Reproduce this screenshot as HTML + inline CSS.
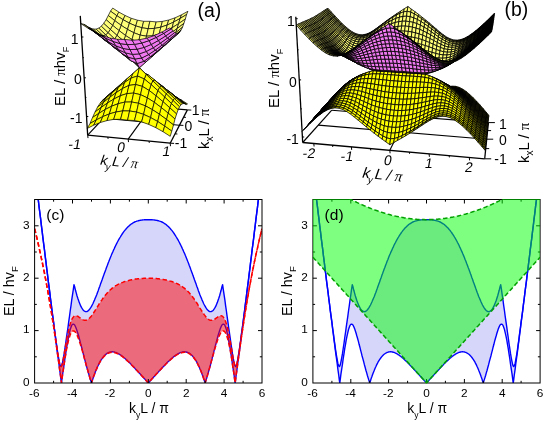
<!DOCTYPE html><html><head><meta charset="utf-8"><style>
html,body{margin:0;padding:0;background:#fff}
svg{display:block}
text{font-family:"Liberation Sans",sans-serif;fill:#000}
.tk{font-size:11.8px}.al{font-size:15px}.pl{font-size:15.5px}
.t3{font-size:14px}.a3{font-size:15px}.p3{font-size:19.4px}
.sy{font-family:"Liberation Serif",serif}
.y{fill:#ffff00}.p{fill:#ffff78}.m{fill:#f078f0}
</style></head><body><svg width="546" height="422" viewBox="0 0 546 422">
<rect width="546" height="422" fill="#fff"/>
<path d="M187.4 109.9 L116.7 104.0" stroke="#000" stroke-width="1.15" fill="none"/>
<path d="M116.7 104.0 L87.7 135.1" stroke="#000" stroke-width="1.15" fill="none"/>
<path d="M128.2 139.1 L151.5 106.9" stroke="#000" stroke-width="1.15" fill="none"/>
<path d="M103.4 118.3 L179.5 125.2" stroke="#000" stroke-width="1.15" fill="none"/>
<g transform="scale(.1)" stroke="#000" stroke-width="7" stroke-linejoin="round">
<path fill="#636" d="M1143 986l57-33 21 0 -57 28z"/>
<path fill="#b6b" d="M1200 953l57-30 21 6 -57 24z"/>
<path class="m" d="M1257 923l58-24 20 12 -57 18z"/>
<path class="m" d="M1315 899l59-18 20 19 -59 11z"/>
<path class="m" d="M1120 979l57-38 23 12 -57 33z"/>
<path class="m" d="M1374 881l60-10 19 27 -59 2z"/>
<path class="m" d="M1177 941l58-36 22 18 -57 30z"/>
<path class="m" d="M1434 871l60-1 18 35 -59-7z"/>
<path class="m" d="M1494 870l61 10 17 27 -60-2z"/>
<path class="m" d="M1235 905l59-30 21 24 -58 24z"/>
<path class="m" d="M1555 880l61 19 16 20 -60-12z"/>
<path fill="#747" d="M1616 899l61 27 15 13 -60-20z"/>
<path fill="#000" d="M1677 926l62 35 14 5 -61-27z"/>
<path fill="#000" d="M1739 961l62 39 13 0 -61-34z"/>
<path fill="#880" d="M1801 1000l61 44 13-5 -61-39z"/>
<path class="m" d="M1294 875l60-24 20 30 -59 18z"/>
<path class="m" d="M1097 975l57-44 23 10 -57 38z"/>
<path class="m" d="M1354 851l60-15 20 35 -60 10z"/>
<path class="m" d="M1154 931l59-41 22 15 -58 36z"/>
<path class="m" d="M1414 836l61-2 19 36 -60 1z"/>
<path class="m" d="M1475 834l62 11 18 35 -61-10z"/>
<path class="m" d="M1213 890l60-37 21 22 -59 30z"/>
<path class="m" d="M1537 845l62 24 17 30 -61-19z"/>
<path class="m" d="M1599 869l63 34 15 23 -61-27z"/>
<path fill="#949" d="M1662 903l63 40 14 18 -62-35z"/>
<path fill="#000" d="M1725 943l62 46 14 11 -62-39z"/>
<path fill="#000" d="M1787 989l63 49 12 6 -61-44z"/>
<path class="m" d="M1073 976l58-48 23 3 -57 44z"/>
<path class="m" d="M1273 853l60-31 21 29 -60 24z"/>
<path class="m" d="M1333 822l61-20 20 34 -60 15z"/>
<path class="m" d="M1131 928l59-46 23 8 -59 41z"/>
<path class="m" d="M1394 802l62-5 19 37 -61 2z"/>
<path class="m" d="M1456 797l63 14 18 34 -62-11z"/>
<path class="m" d="M1190 882l60-45 23 16 -60 37z"/>
<path class="m" d="M1519 811l63 29 17 29 -62-24z"/>
<path fill="#000" d="M1773 980l64 55 13 3 -63-49z"/>
<path fill="#e7e" d="M1582 840l64 41 16 22 -63-34z"/>
<path fill="#000" d="M1710 928l63 52 14 9 -62-46z"/>
<path fill="#848" d="M1049 985l59-51 23-6 -58 48z"/>
<path fill="#212" d="M1646 881l64 47 15 15 -63-40z"/>
<path class="m" d="M1250 837l61-40 22 25 -60 31z"/>
<path fill="#c6c" d="M1108 934l59-51 23-1 -59 46z"/>
<path class="m" d="M1311 797l62-29 21 34 -61 20z"/>
<path class="m" d="M1373 768l63-9 20 38 -62 5z"/>
<path class="m" d="M1167 883l61-51 22 5 -60 45z"/>
<path fill="#000" d="M1024 1004l60-53 24-17 -59 51z"/>
<path class="m" d="M1436 759l64 18 19 34 -63-14z"/>
<path fill="#880" d="M1759 978l64 59 14-2 -64-55z"/>
<path fill="#220" d="M1694 920l65 58 14 2 -63-52z"/>
<path class="m" d="M1500 777l65 39 17 24 -63-29z"/>
<path fill="#000" d="M1629 865l65 55 16 8 -64-47z"/>
<path fill="#323" d="M1565 816l64 49 17 16 -64-41z"/>
<path class="m" d="M1228 832l61-50 22 15 -61 40z"/>
<path fill="#000" d="M1084 951l60-53 23-15 -59 51z"/>
<path class="m" d="M1289 782l63-43 21 29 -62 29z"/>
<path fill="#000" d="M1144 898l62-54 22-12 -61 51z"/>
<path fill="#330" d="M1000 1033l60-52 24-30 -60 53z"/>
<path class="m" d="M1352 739l64-20 20 40 -63 9z"/>
<path class="y" d="M1744 985l66 63 13-11 -64-59z"/>
<path class="y" d="M1678 922l66 63 15-7 -65-58z"/>
<path fill="#990" d="M1613 861l65 61 16-2 -65-55z"/>
<path class="m" d="M1416 719l65 29 19 29 -64-18z"/>
<path fill="#000" d="M1547 801l66 60 16 4 -64-49z"/>
<path fill="#323" d="M1481 748l66 53 18 15 -65-39z"/>
<path fill="#424" d="M1206 844l62-55 21-7 -61 50z"/>
<path fill="#550" d="M1060 981l61-53 23-30 -60 53z"/>
<path fill="#d6d" d="M1268 789l62-55 22 5 -63 43z"/>
<path class="y" d="M975 1072l61-50 24-41 -60 52z"/>
<path fill="#880" d="M1121 928l62-52 23-32 -62 54z"/>
<path class="y" d="M1729 1003l66 65 15-20 -66-63z"/>
<path class="y" d="M1662 938l67 65 15-18 -66-63z"/>
<path class="m" d="M1330 734l64-57 22 42 -64 20z"/>
<path class="y" d="M1595 873l67 65 16-16 -65-61z"/>
<path class="y" d="M1036 1022l62-49 23-45 -61 53z"/>
<path class="y" d="M1528 808l67 65 18-12 -66-60z"/>
<path fill="#dd0" d="M1183 876l63-51 22-36 -62 55z"/>
<path fill="#ff0" d="M1461 743l67 65 19-7 -66-53z"/>
<path fill="#313" d="M1394 677l67 66 20 5 -65-29z"/>
<path class="y" d="M950 1120l62-46 24-52 -61 50z"/>
<path class="y" d="M1098 973l63-46 22-51 -62 52z"/>
<path class="y" d="M1246 825l64-44 20-47 -62 55z"/>
<path class="y" d="M1713 1034l68 64 14-30 -66-65z"/>
<path class="y" d="M1646 970l67 64 16-31 -67-65z"/>
<path class="y" d="M1012 1074l63-44 23-57 -62 49z"/>
<path class="y" d="M1310 781l65-21 19-83 -64 57z"/>
<path class="y" d="M1161 927l64-42 21-60 -63 51z"/>
<path class="y" d="M1578 906l68 64 16-32 -67-65z"/>
<path class="y" d="M1510 845l68 61 17-33 -67-65z"/>
<path class="y" d="M1443 790l67 55 18-37 -67-65z"/>
<path class="y" d="M1375 760l68 30 18-47 -67-66z"/>
<path class="y" d="M925 1175l63-41 24-60 -62 46z"/>
<path class="y" d="M1225 885l65-31 20-73 -64 44z"/>
<path class="y" d="M1075 1030l64-40 22-63 -63 46z"/>
<path class="y" d="M1290 854l66-9 19-85 -65 21z"/>
<path class="y" d="M1139 990l65-33 21-72 -64 42z"/>
<path class="y" d="M1697 1077l69 63 15-42 -68-64z"/>
<path class="y" d="M988 1134l64-39 23-65 -63 44z"/>
<path class="y" d="M1629 1016l68 61 16-43 -67-64z"/>
<path class="y" d="M1560 958l69 58 17-46 -68-64z"/>
<path class="y" d="M1356 845l68 19 19-74 -68-30z"/>
<path class="y" d="M1492 905l68 53 18-52 -68-61z"/>
<path class="y" d="M1424 864l68 41 18-60 -67-55z"/>
<path class="y" d="M1204 957l66-21 20-82 -65 31z"/>
<path class="y" d="M1052 1095l65-33 22-72 -64 40z"/>
<path class="y" d="M900 1235l63-36 25-65 -63 41z"/>
<path class="y" d="M1270 936l67-5 19-86 -66 9z"/>
<path class="y" d="M1117 1062l65-25 22-80 -65 33z"/>
<path class="y" d="M963 1199l65-33 24-71 -64 39z"/>
<path class="y" d="M1337 931l68 16 19-83 -68-19z"/>
<path class="y" d="M1681 1131l69 59 16-50 -69-63z"/>
<path class="y" d="M1612 1075l69 56 16-54 -68-61z"/>
<path class="y" d="M1405 947l69 32 18-74 -68-41z"/>
<path class="y" d="M1543 1023l69 52 17-59 -69-58z"/>
<path class="y" d="M1474 979l69 44 17-65 -68-53z"/>
<path class="y" d="M1182 1037l67-16 21-85 -66 21z"/>
<path class="y" d="M1028 1166l66-27 23-77 -65 33z"/>
<path class="y" d="M873 1284l64-32 26-53 -63 36z"/>
<path class="y" d="M1249 1021l68-1 20-89 -67 5z"/>
<path class="y" d="M1094 1139l66-19 22-83 -65 25z"/>
<path class="y" d="M1317 1020l68 13 20-86 -68-16z"/>
<path class="y" d="M937 1252l66-27 25-59 -65 33z"/>
<path class="y" d="M1385 1033l70 26 19-80 -69-32z"/>
<path class="y" d="M1664 1194l71 55 15-59 -69-59z"/>
<path class="y" d="M1455 1059l69 38 19-74 -69-44z"/>
<path class="y" d="M1594 1142l70 52 17-63 -69-56z"/>
<path class="y" d="M1524 1097l70 45 18-67 -69-52z"/>
<path class="y" d="M1160 1120l68-11 21-88 -67 16z"/>
<path class="y" d="M1003 1225l67-19 24-67 -66 27z"/>
<path class="y" d="M1228 1109l68 1 21-90 -68 1z"/>
<path class="y" d="M1296 1110l70 11 19-88 -68-13z"/>
<path class="y" d="M1070 1206l67-12 23-74 -66 19z"/>
<path class="y" d="M1366 1121l70 23 19-85 -70-26z"/>
<path class="y" d="M1436 1144l70 32 18-79 -69-38z"/>
<path class="y" d="M1506 1176l71 39 17-73 -70-45z"/>
<path class="y" d="M1137 1194l69-1 22-84 -68 11z"/>
<path class="y" d="M1577 1215l70 46 17-67 -70-52z"/>
<path class="y" d="M1647 1261l71 50 17-62 -71-55z"/>
<path class="y" d="M1206 1193l70 9 20-92 -68-1z"/>
<path class="y" d="M1276 1202l69 3 21-84 -70-11z"/>
<path class="y" d="M1345 1205l71 14 20-75 -70-23z"/>
<path class="y" d="M1416 1219l71 25 19-68 -70-32z"/>
<path class="y" d="M1487 1244l71 33 19-62 -71-39z"/>
<path class="y" d="M1558 1277l72 40 17-56 -70-46z"/>
<path class="y" d="M1630 1317l72 46 16-52 -71-50z"/>
</g>
<g transform="scale(.1)" stroke="#000" stroke-width="7" stroke-linejoin="round">
<path class="p" d="M1105 112l63 45 21-36 -62-40z"/>
<path class="p" d="M1168 157l63 40 20-42 -62-34z"/>
<path class="p" d="M1231 197l63 35 19-49 -62-28z"/>
<path class="p" d="M1294 232l63 27 18-57 -62-19z"/>
<path class="p" d="M1357 259l63 19 17-65 -62-11z"/>
<path class="p" d="M1420 278l62 9 17-74 -62 0z"/>
<path class="p" d="M1482 287l63-3 17-65 -63-6z"/>
<path class="p" d="M1083 155l64 51 21-49 -63-45z"/>
<path class="p" d="M1147 206l64 47 20-56 -63-40z"/>
<path class="p" d="M1545 284l63-12 16-58 -62 5z"/>
<path class="p" d="M1211 253l64 41 19-62 -63-35z"/>
<path class="p" d="M1275 294l64 34 18-69 -63-27z"/>
<path class="p" d="M1339 328l63 23 18-73 -63-19z"/>
<path class="p" d="M1608 272l64-22 15-50 -63 14z"/>
<path class="p" d="M1402 351l63 11 17-75 -62-9z"/>
<path class="p" d="M1465 362l64-4 16-74 -63 3z"/>
<path class="p" d="M1672 250l64-29 15-43 -64 22z"/>
<path class="p" d="M1529 358l64-17 15-69 -63 12z"/>
<path class="p" d="M1191 306l64 49 20-61 -64-41z"/>
<path class="p" d="M1126 253l65 53 20-53 -64-47z"/>
<path class="p" d="M1255 355l65 41 19-68 -64-34z"/>
<path class="p" d="M1061 197l65 56 21-47 -64-51z"/>
<path class="p" d="M1320 396l64 29 18-74 -63-23z"/>
<path class="p" d="M1736 221l65-36 14-37 -64 30z"/>
<path class="p" d="M1384 425l64 13 17-76 -63-11z"/>
<path class="p" d="M1593 341l64-27 15-64 -64 22z"/>
<path class="p" d="M1448 438l64-6 17-74 -64 4z"/>
<path class="p" d="M1801 185l65-40 13-32 -64 35z"/>
<path class="p" d="M1657 314l64-36 15-57 -64 29z"/>
<path class="p" d="M1512 432l64-22 17-69 -64 17z"/>
<path class="p" d="M1235 409l66 50 19-63 -65-41z"/>
<path class="p" d="M1169 353l66 56 20-54 -64-49z"/>
<path class="p" d="M1301 459l65 40 18-74 -64-29z"/>
<path class="p" d="M1103 294l66 59 22-47 -65-53z"/>
<path class="p" d="M1037 234l66 60 23-41 -65-56z"/>
<path class="p" d="M1366 499l65 17 17-78 -64-13z"/>
<path class="p" d="M1721 278l65-42 15-51 -65 36z"/>
<path class="p" d="M1576 410l65-35 16-61 -64 27z"/>
<path class="p" d="M1431 516l64-10 17-74 -64 6z"/>
<path class="p" d="M1786 236l67-45 13-46 -65 40z"/>
<path class="p" d="M1641 375l65-42 15-55 -64 36z"/>
<path class="p" d="M1495 506l65-31 16-65 -64 22z"/>
<path class="p" d="M1281 513l66 54 19-68 -65-40z"/>
<path class="p" d="M1214 453l67 60 20-54 -66-50z"/>
<path class="p" d="M1347 567l66 29 18-80 -65-17z"/>
<path class="p" d="M1147 390l67 63 21-44 -66-56z"/>
<path class="p" d="M1080 327l67 63 22-37 -66-59z"/>
<path class="p" d="M1706 333l66-48 14-49 -65 42z"/>
<path class="p" d="M1013 262l67 65 23-33 -66-60z"/>
<path class="p" d="M1560 475l65-44 16-56 -65 35z"/>
<path class="p" d="M1413 596l64-21 18-69 -64 10z"/>
<path class="p" d="M1625 431l65-50 16-48 -65 42z"/>
<path class="p" d="M1477 575l65-46 18-54 -65 31z"/>
<path class="p" d="M1772 285l67-51 14-43 -67 45z"/>
<path class="p" d="M1327 612l67 65 19-81 -66-29z"/>
<path class="p" d="M1259 546l68 66 20-45 -66-54z"/>
<path class="p" d="M1192 480l67 66 22-33 -67-60z"/>
<path class="p" d="M1124 414l68 66 22-27 -67-63z"/>
<path class="p" d="M1542 529l66-53 17-45 -65 44z"/>
<path class="p" d="M1394 677l65-57 18-45 -64 21z"/>
<path class="p" d="M1690 381l67-53 15-43 -66 48z"/>
<path class="p" d="M1056 348l68 66 23-24 -67-63z"/>
<path class="p" d="M988 282l68 66 24-21 -67-65z"/>
<path class="p" d="M1459 620l65-57 18-34 -65 46z"/>
<path class="p" d="M1608 476l66-56 16-39 -65 50z"/>
<path class="p" d="M1757 328l68-56 14-38 -67 51z"/>
<path fill="#424" d="M1304 605l68 30 22 42 -67-65z"/>
<path class="p" d="M1236 549l68 56 23 7 -68-66z"/>
<path fill="#dd6" d="M1524 563l66-59 18-28 -66 53z"/>
<path class="p" d="M1168 487l68 62 23-3 -67-66z"/>
<path class="p" d="M1674 420l68-58 15-34 -67 53z"/>
<path class="p" d="M1099 423l69 64 24-7 -68-66z"/>
<path class="m" d="M1372 635l66-22 21 7 -65 57z"/>
<path class="p" d="M1030 357l69 66 25-9 -68-66z"/>
<path class="p" d="M961 291l69 66 26-9 -68-66z"/>
<path fill="#774" d="M1590 504l68-59 16-25 -66 56z"/>
<path class="p" d="M1742 362l68-60 15-30 -68 56z"/>
<path class="m" d="M1438 613l67-47 19-3 -65 57z"/>
<path fill="#552" d="M1658 445l68-61 16-22 -68 58z"/>
<path fill="#535" d="M1505 566l67-54 18-8 -66 59z"/>
<path fill="#525" d="M1212 530l69 41 23 34 -68-56z"/>
<path fill="#000" d="M1142 476l70 54 24 19 -68-62z"/>
<path class="m" d="M1281 571l68 19 23 45 -68-30z"/>
<path fill="#bb5" d="M1073 417l69 59 26 11 -69-64z"/>
<path class="p" d="M1003 355l70 62 26 6 -69-66z"/>
<path class="p" d="M933 291l70 64 27 2 -69-66z"/>
<path class="m" d="M1349 590l68-10 21 33 -66 22z"/>
<path fill="#331" d="M1726 384l69-61 15-21 -68 60z"/>
<path fill="#111" d="M1572 512l68-58 18-9 -68 59z"/>
<path class="m" d="M1417 580l68-34 20 20 -67 47z"/>
<path fill="#000" d="M1640 454l70-60 16-10 -68 61z"/>
<path class="m" d="M1485 546l68-45 19 11 -67 54z"/>
<path fill="#636" d="M1116 452l70 45 26 33 -70-54z"/>
<path fill="#000" d="M1045 400l71 52 26 24 -69-59z"/>
<path class="m" d="M1186 497l70 32 25 42 -69-41z"/>
<path fill="#442" d="M974 342l71 58 28 17 -70-62z"/>
<path fill="#bb5" d="M903 281l71 61 29 13 -70-64z"/>
<path class="m" d="M1256 529l69 15 24 46 -68-19z"/>
<path fill="#000" d="M1710 394l70-60 15-11 -69 61z"/>
<path class="m" d="M1553 501l70-52 17 5 -68 58z"/>
<path class="m" d="M1325 544l69-6 23 42 -68 10z"/>
<path class="m" d="M1394 538l70-24 21 32 -68 34z"/>
<path class="m" d="M1623 449l70-57 17 2 -70 60z"/>
<path class="m" d="M1464 514l69-37 20 24 -68 45z"/>
<path fill="#535" d="M1016 373l71 47 29 32 -71-52z"/>
<path fill="#b6b" d="M1693 392l71-58 16 0 -70 60z"/>
<path fill="#000" d="M944 321l72 52 29 27 -71-58z"/>
<path class="m" d="M1087 420l72 38 27 39 -70-45z"/>
<path fill="#000" d="M872 264l72 57 30 21 -71-61z"/>
<path class="m" d="M1159 458l70 26 27 45 -70-32z"/>
<path class="m" d="M1533 477l71-46 19 18 -70 52z"/>
<path class="m" d="M1229 484l71 12 25 48 -69-15z"/>
<path class="m" d="M1300 496l71-4 23 46 -69 6z"/>
<path class="m" d="M1604 431l71-51 18 12 -70 57z"/>
<path class="m" d="M1371 492l70-18 23 40 -70 24z"/>
<path class="m" d="M1441 474l72-30 20 33 -69 37z"/>
<path class="m" d="M1675 380l72-55 17 9 -71 58z"/>
<path fill="#000" d="M840 243l73 52 31 26 -72-57z"/>
<path fill="#313" d="M913 295l73 47 30 31 -72-52z"/>
<path class="m" d="M986 342l72 40 29 38 -71-47z"/>
<path class="m" d="M1058 382l72 32 29 44 -72-38z"/>
<path class="m" d="M1130 414l72 22 27 48 -70-26z"/>
<path class="m" d="M1513 444l71-39 20 26 -71 46z"/>
<path class="m" d="M1202 436l72 10 26 50 -71-12z"/>
<path class="m" d="M1274 446l72-2 25 48 -71 4z"/>
<path class="m" d="M1584 405l73-46 18 21 -71 51z"/>
<path class="m" d="M1346 444l72-14 23 44 -70 18z"/>
<path class="m" d="M1657 359l73-51 17 17 -72 55z"/>
<path class="m" d="M1418 430l73-24 22 38 -72 30z"/>
<path fill="#994" d="M808 236l73 47 32 12 -73-52z"/>
<path fill="#000" d="M881 283l74 41 31 18 -73-47z"/>
<path fill="#111" d="M955 324l73 33 30 25 -72-40z"/>
<path class="m" d="M1028 357l74 24 28 33 -72-32z"/>
<path class="m" d="M1102 381l72 12 28 43 -72-22z"/>
<path class="m" d="M1491 406l73-33 20 32 -71 39z"/>
<path class="m" d="M1174 393l73 1 27 52 -72-10z"/>
<path class="m" d="M1247 394l74 8 25 42 -72 2z"/>
<path class="m" d="M1564 373l74-40 19 26 -73 46z"/>
<path class="m" d="M1321 402l74-5 23 33 -72 14z"/>
<path class="m" d="M1638 333l75-46 17 21 -73 51z"/>
<path class="m" d="M1395 397l74-16 22 25 -73 24z"/>
<path class="m" d="M1469 381l74-25 21 17 -73 33z"/>
<path class="m" d="M1543 356l75-35 20 12 -74 40z"/>
<path class="m" d="M1618 321l76-41 19 7 -75 46z"/>
</g>
<path d="M87.7 135.1 L80.3 15.9" stroke="#000" stroke-width="1.3" fill="none"/>
<path d="M87.7 135.1 L170.2 143.2" stroke="#000" stroke-width="1.3" fill="none"/>
<path d="M170.2 143.2 L187.4 109.9" stroke="#000" stroke-width="1.3" fill="none"/>
<path d="M87.7 135.1 l0.3 3.0" stroke="#000" stroke-width="1" fill="none"/>
<path d="M170.2 143.2 l3.9 0.2" stroke="#000" stroke-width="1" fill="none"/>
<path d="M107.8 137.1 l0.3 1.8" stroke="#000" stroke-width="1" fill="none"/>
<path d="M175.1 133.8 l2.3 0.2" stroke="#000" stroke-width="1" fill="none"/>
<path d="M128.2 139.1 l0.3 3.0" stroke="#000" stroke-width="1" fill="none"/>
<path d="M179.5 125.2 l3.9 0.2" stroke="#000" stroke-width="1" fill="none"/>
<path d="M149.0 141.1 l0.3 1.8" stroke="#000" stroke-width="1" fill="none"/>
<path d="M183.6 117.2 l2.3 0.2" stroke="#000" stroke-width="1" fill="none"/>
<path d="M170.2 143.2 l0.3 3.0" stroke="#000" stroke-width="1" fill="none"/>
<path d="M187.4 109.9 l3.9 0.2" stroke="#000" stroke-width="1" fill="none"/>
<path d="M86.5 116.5 l1.8 0.0" stroke="#000" stroke-width="1" fill="none"/>
<path d="M85.4 97.4 l1.0 0.0" stroke="#000" stroke-width="1" fill="none"/>
<path d="M84.1 77.8 l1.8 0.0" stroke="#000" stroke-width="1" fill="none"/>
<path d="M82.9 57.7 l1.0 0.0" stroke="#000" stroke-width="1" fill="none"/>
<path d="M81.6 37.0 l1.8 0.0" stroke="#000" stroke-width="1" fill="none"/>
<path d="M488.4 122.6 L331.8 110.2" stroke="#000" stroke-width="1.15" fill="none"/>
<path d="M331.8 110.2 L302.7 142.5" stroke="#000" stroke-width="1.15" fill="none"/>
<path d="M389.8 150.3 L407.0 116.1" stroke="#000" stroke-width="1.15" fill="none"/>
<path d="M318.3 125.1 L486.7 139.2" stroke="#000" stroke-width="1.15" fill="none"/>
<g transform="scale(.1)" stroke="#000" stroke-width="8" stroke-linejoin="round">
<path fill="#000" d="M3304 1015l31-33 10-10 -31 33z"/>
<path fill="#000" d="M3335 982l32-32 9-9 -31 31z"/>
<path fill="#000" d="M3294 1025l32-33 9-10 -31 33z"/>
<path fill="#000" d="M3367 950l31-30 10-10 -32 31z"/>
<path fill="#000" d="M3326 992l31-32 10-10 -32 32z"/>
<path fill="#000" d="M3398 920l32-29 9-9 -31 28z"/>
<path fill="#000" d="M3284 1035l32-34 10-9 -32 33z"/>
<path fill="#000" d="M3357 960l32-31 9-9 -31 30z"/>
<path fill="#000" d="M3430 891l32-26 9-9 -32 26z"/>
<path fill="#000" d="M3462 865l33-23 9-9 -33 23z"/>
<path fill="#000" d="M3316 1001l32-32 9-9 -31 32z"/>
<path fill="#000" d="M3389 929l32-29 9-9 -32 29z"/>
<path fill="#000" d="M3495 842l32-19 9-9 -32 19z"/>
<path fill="#000" d="M3274 1044l32-34 10-9 -32 34z"/>
<path fill="#000" d="M3421 900l32-27 9-8 -32 26z"/>
<path fill="#000" d="M3348 969l31-32 10-8 -32 31z"/>
<path fill="#000" d="M3527 823l33-13 9-8 -33 12z"/>
<path fill="#000" d="M3998 1060l34 17 5 11 -33-24z"/>
<path fill="#959" d="M4032 1077l33 8 6 27 -34-24z"/>
<path fill="#000" d="M3964 1039l34 21 6 4 -33-25z"/>
<path fill="#000" d="M3931 1016l33 23 7 0 -34-25z"/>
<path fill="#000" d="M3453 873l33-24 9-7 -33 23z"/>
<path fill="#220" d="M3897 991l34 25 6-2 -33-27z"/>
<path fill="#000" d="M3306 1010l32-33 10-8 -32 32z"/>
<path fill="#000" d="M3379 937l33-29 9-8 -32 29z"/>
<path class="m" d="M4065 1085l34-3 6 12 -34 18z"/>
<path fill="#220" d="M3560 810l33-5 9-9 -33 6z"/>
<path fill="#330" d="M3863 965l34 26 7-4 -34-27z"/>
<path fill="#440" d="M3829 938l34 27 7-5 -34-28z"/>
<path fill="#550" d="M3796 910l33 28 7-6 -33-28z"/>
<path fill="#440" d="M3593 805l34 2 8-8 -33-3z"/>
<path fill="#660" d="M3762 882l34 28 7-6 -34-28z"/>
<path fill="#424" d="M4099 1082l34-11 6 3 -34 20z"/>
<path fill="#660" d="M3627 807l33 10 8-8 -33-10z"/>
<path fill="#660" d="M3728 856l34 26 7-6 -33-27z"/>
<path fill="#000" d="M3486 849l32-19 9-7 -32 19z"/>
<path fill="#000" d="M3264 1054l32-35 10-9 -32 34z"/>
<path fill="#660" d="M3694 834l34 22 8-7 -34-22z"/>
<path fill="#660" d="M3660 817l34 17 8-7 -34-18z"/>
<path fill="#000" d="M3338 977l32-31 9-9 -31 32z"/>
<path fill="#000" d="M3412 908l32-28 9-7 -32 27z"/>
<path fill="#000" d="M4133 1071l35-16 5-1 -34 20z"/>
<path fill="#000" d="M3518 830l34-13 8-7 -33 13z"/>
<path fill="#000" d="M3444 880l33-24 9-7 -33 24z"/>
<path fill="#000" d="M3296 1019l32-33 10-9 -32 33z"/>
<path fill="#000" d="M3370 946l32-31 10-7 -33 29z"/>
<path fill="#000" d="M3552 817l33-7 8-5 -33 5z"/>
<path fill="#747" d="M3958 1025l34 16 6 19 -34-21z"/>
<path fill="#212" d="M3924 1006l34 19 6 14 -33-23z"/>
<path fill="#000" d="M3890 985l34 21 7 10 -34-25z"/>
<path fill="#e7e" d="M3992 1041l34 11 6 25 -34-17z"/>
<path fill="#000" d="M4168 1055l34-18 5-3 -34 20z"/>
<path fill="#000" d="M3856 961l34 24 7 6 -34-26z"/>
<path class="m" d="M4026 1052l34 5 5 28 -33-8z"/>
<path fill="#000" d="M3822 936l34 25 7 4 -34-27z"/>
<path fill="#110" d="M3585 810l33 2 9-5 -34-2z"/>
<path fill="#000" d="M3788 910l34 26 7 2 -33-28z"/>
<path fill="#000" d="M3754 884l34 26 8 0 -34-28z"/>
<path class="m" d="M4060 1057l34 0 5 25 -34 3z"/>
<path fill="#220" d="M3618 812l34 9 8-4 -33-10z"/>
<path fill="#000" d="M3477 856l32-20 9-6 -32 19z"/>
<path fill="#110" d="M3720 859l34 25 8-2 -34-26z"/>
<path fill="#000" d="M3254 1063l32-34 10-10 -32 35z"/>
<path fill="#220" d="M3652 821l34 16 8-3 -34-17z"/>
<path fill="#220" d="M3686 837l34 22 8-3 -34-22z"/>
<path fill="#000" d="M3328 986l32-32 10-8 -32 31z"/>
<path fill="#000" d="M3402 915l32-28 10-7 -32 28z"/>
<path fill="#000" d="M4202 1037l35-20 4-5 -34 22z"/>
<path class="m" d="M4094 1057l34-6 5 20 -34 11z"/>
<path fill="#000" d="M3509 836l34-15 9-4 -34 13z"/>
<path fill="#d7d" d="M4128 1051l35-10 5 14 -35 16z"/>
<path fill="#000" d="M4237 1017l35-22 4-5 -35 22z"/>
<path fill="#000" d="M3286 1029l32-34 10-9 -32 33z"/>
<path fill="#000" d="M3434 887l33-26 10-5 -33 24z"/>
<path fill="#000" d="M3360 954l32-32 10-7 -32 31z"/>
<path fill="#000" d="M3543 821l33-7 9-4 -33 7z"/>
<path fill="#848" d="M4163 1041l34-14 5 10 -34 18z"/>
<path fill="#000" d="M3576 814l34 0 8-2 -33-2z"/>
<path fill="#535" d="M3883 971l34 18 7 17 -34-21z"/>
<path fill="#a5a" d="M3917 989l34 15 7 21 -34-19z"/>
<path fill="#212" d="M3849 950l34 21 7 14 -34-24z"/>
<path fill="#000" d="M3815 928l34 22 7 11 -34-25z"/>
<path class="m" d="M3951 1004l35 12 6 25 -34-16z"/>
<path fill="#000" d="M4272 995l35-22 4-6 -35 23z"/>
<path fill="#000" d="M3781 904l34 24 7 8 -34-26z"/>
<path fill="#000" d="M3467 861l33-21 9-4 -32 20z"/>
<path fill="#000" d="M3243 1073l32-35 11-9 -32 34z"/>
<path class="m" d="M3986 1016l34 9 6 27 -34-11z"/>
<path fill="#000" d="M3610 814l34 8 8-1 -34-9z"/>
<path fill="#000" d="M3746 880l35 24 7 6 -34-26z"/>
<path fill="#000" d="M3712 857l34 23 8 4 -34-25z"/>
<path fill="#000" d="M3644 822l34 15 8 0 -34-16z"/>
<path fill="#000" d="M3318 995l32-34 10-7 -32 32z"/>
<path fill="#000" d="M3678 837l34 20 8 2 -34-22z"/>
<path fill="#000" d="M3392 922l33-29 9-6 -32 28z"/>
<path class="m" d="M4020 1025l34 4 6 28 -34-5z"/>
<path fill="#525" d="M4197 1027l35-17 5 7 -35 20z"/>
<path class="m" d="M4054 1029l35 1 5 27 -34 0z"/>
<path fill="#000" d="M3500 840l34-16 9-3 -34 15z"/>
<path fill="#000" d="M4307 973l35-23 4-7 -35 24z"/>
<path class="m" d="M4089 1030l34-3 5 24 -34 6z"/>
<path fill="#000" d="M3275 1038l32-35 11-8 -32 34z"/>
<path fill="#000" d="M3425 893l33-27 9-5 -33 26z"/>
<path fill="#000" d="M3350 961l32-32 10-7 -32 32z"/>
<path fill="#212" d="M4232 1010l35-18 5 3 -35 22z"/>
<path fill="#000" d="M3534 824l33-8 9-2 -33 7z"/>
<path class="m" d="M4123 1027l35-7 5 21 -35 10z"/>
<path fill="#000" d="M4342 950l35-24 4-7 -35 24z"/>
<path fill="#000" d="M3567 816l34-1 9-1 -34 0z"/>
<path fill="#000" d="M3233 1083l32-36 10-9 -32 35z"/>
<path fill="#000" d="M3458 866l33-23 9-3 -33 21z"/>
<path fill="#000" d="M4267 992l35-21 5 2 -35 22z"/>
<path fill="#000" d="M3601 815l34 6 9 1 -34-8z"/>
<path fill="#000" d="M3307 1003l33-34 10-8 -32 34z"/>
<path class="m" d="M4158 1020l35-11 4 18 -34 14z"/>
<path fill="#747" d="M3842 934l34 18 7 19 -34-21z"/>
<path fill="#000" d="M3382 929l33-30 10-6 -33 29z"/>
<path fill="#424" d="M3807 915l35 19 7 16 -34-22z"/>
<path fill="#b5b" d="M3876 952l35 15 6 22 -34-18z"/>
<path fill="#101" d="M3773 894l34 21 8 13 -34-24z"/>
<path fill="#000" d="M3635 821l35 13 8 3 -34-15z"/>
<path fill="#000" d="M3738 872l35 22 8 10 -35-24z"/>
<path class="m" d="M3911 967l34 13 6 24 -34-15z"/>
<path fill="#000" d="M3704 851l34 21 8 8 -34-23z"/>
<path fill="#000" d="M3670 834l34 17 8 6 -34-20z"/>
<path fill="#000" d="M4377 926l36-21 3-8 -35 22z"/>
<path class="m" d="M3945 980l34 10 7 26 -35-12z"/>
<path class="m" d="M3979 990l35 7 6 28 -34-9z"/>
<path fill="#000" d="M3491 843l34-17 9-2 -34 16z"/>
<path fill="#c6c" d="M4193 1009l35-13 4 14 -35 17z"/>
<path fill="#000" d="M4302 971l36-21 4 0 -35 23z"/>
<path class="m" d="M4014 997l34 4 6 28 -34-4z"/>
<path fill="#000" d="M3265 1047l32-35 10-9 -32 35z"/>
<path fill="#000" d="M3415 899l33-29 10-4 -33 27z"/>
<path fill="#000" d="M3340 969l33-33 9-7 -32 32z"/>
<path fill="#000" d="M4413 905l35-18 4-8 -36 18z"/>
<path class="m" d="M4048 1001l35 1 6 28 -35-1z"/>
<path fill="#440" d="M4862 1134l25 31 1-12 -25-30z"/>
<path fill="#000" d="M3525 826l33-10 9 0 -33 8z"/>
<path fill="#949" d="M4228 996l35-15 4 11 -35 18z"/>
<path fill="#440" d="M4828 1095l34 39 1-11 -33-39z"/>
<path fill="#000" d="M4338 950l35-22 4-2 -35 24z"/>
<path class="m" d="M4083 1002l35-2 5 27 -34 3z"/>
<path fill="#000" d="M3222 1093l32-36 11-10 -32 36z"/>
<path fill="#000" d="M3558 816l34-3 9 2 -34 1z"/>
<path fill="#220" d="M4448 887l36-13 3-8 -35 13z"/>
<path fill="#440" d="M4795 1056l33 39 2-11 -33-38z"/>
<path fill="#000" d="M3448 870l34-24 9-3 -33 23z"/>
<path fill="#000" d="M3297 1012l33-35 10-8 -33 34z"/>
<path class="m" d="M4118 1000l35-5 5 25 -35 7z"/>
<path fill="#000" d="M3373 936l32-32 10-5 -33 30z"/>
<path fill="#636" d="M4263 981l35-18 4 8 -35 21z"/>
<path fill="#000" d="M3592 813l35 4 8 4 -34-6z"/>
<path fill="#440" d="M4761 1020l34 36 2-10 -34-37z"/>
<path fill="#000" d="M4373 928l36-20 4-3 -36 21z"/>
<path fill="#330" d="M4484 874l35-5 3-8 -35 5z"/>
<path fill="#000" d="M3627 817l34 10 9 7 -35-13z"/>
<path fill="#000" d="M3661 827l35 15 8 9 -34-17z"/>
<path fill="#525" d="M3765 879l35 19 7 17 -34-21z"/>
<path fill="#212" d="M3730 860l35 19 8 15 -35-22z"/>
<path fill="#000" d="M3696 842l34 18 8 12 -34-21z"/>
<path fill="#848" d="M3800 898l34 17 8 19 -35-19z"/>
<path fill="#440" d="M4727 985l34 35 2-11 -34-34z"/>
<path fill="#b6b" d="M3834 915l35 15 7 22 -34-18z"/>
<path class="m" d="M4153 995l35-7 5 21 -35 11z"/>
<path class="m" d="M3869 930l35 13 7 24 -35-15z"/>
<path fill="#000" d="M3482 846l33-19 10-1 -34 17z"/>
<path fill="#440" d="M4519 869l35 2 3-8 -35-2z"/>
<path class="m" d="M3904 943l34 11 7 26 -34-13z"/>
<path fill="#440" d="M4693 953l34 32 2-10 -34-32z"/>
<path fill="#000" d="M3254 1057l33-36 10-9 -32 35z"/>
<path fill="#323" d="M4298 963l36-19 4 6 -36 21z"/>
<path class="m" d="M3938 954l35 8 6 28 -34-10z"/>
<path fill="#550" d="M4659 924l34 29 2-10 -34-29z"/>
<path fill="#000" d="M3330 977l33-34 10-7 -33 33z"/>
<path fill="#550" d="M4554 871l35 11 3-9 -35-10z"/>
<path fill="#000" d="M3405 904l34-29 9-5 -33 29z"/>
<path fill="#440" d="M4861 1145l25 31 1-11 -25-31z"/>
<path fill="#000" d="M4409 908l36-17 3-4 -35 18z"/>
<path fill="#550" d="M4624 900l35 24 2-10 -34-23z"/>
<path fill="#550" d="M4589 882l35 18 3-9 -35-18z"/>
<path class="m" d="M4188 988l35-11 5 19 -35 13z"/>
<path class="m" d="M3973 962l35 6 6 29 -35-7z"/>
<path fill="#000" d="M3515 827l34-12 9 1 -33 10z"/>
<path fill="#440" d="M4827 1105l34 40 1-11 -34-39z"/>
<path class="m" d="M4008 968l35 4 5 29 -34-4z"/>
<path fill="#101" d="M4334 944l35-20 4 4 -35 22z"/>
<path fill="#000" d="M3211 1103l33-36 10-10 -32 36z"/>
<path fill="#000" d="M4445 891l35-12 4-5 -36 13z"/>
<path fill="#e7e" d="M4223 977l35-12 5 16 -35 15z"/>
<path fill="#440" d="M4793 1067l34 38 1-10 -33-39z"/>
<path class="m" d="M4043 972l35 1 5 29 -35-1z"/>
<path fill="#000" d="M3549 815l35-6 8 4 -34 3z"/>
<path fill="#000" d="M3287 1021l32-36 11-8 -33 35z"/>
<path fill="#000" d="M3439 875l33-26 10-3 -34 24z"/>
<path fill="#000" d="M3363 943l33-33 9-6 -32 32z"/>
<path fill="#440" d="M4759 1030l34 37 2-11 -34-36z"/>
<path class="m" d="M4078 973l35-1 5 28 -35 2z"/>
<path fill="#000" d="M3584 809l34 2 9 6 -35-4z"/>
<path fill="#000" d="M4480 879l36-4 3-6 -35 5z"/>
<path fill="#440" d="M4725 995l34 35 2-10 -34-35z"/>
<path fill="#000" d="M4369 924l36-18 4 2 -36 20z"/>
<path fill="#b5b" d="M4258 965l36-15 4 13 -35 18z"/>
<path fill="#000" d="M3618 811l35 8 8 8 -34-10z"/>
<path class="m" d="M4113 972l35-3 5 26 -35 5z"/>
<path fill="#440" d="M4691 962l34 33 2-10 -34-32z"/>
<path fill="#110" d="M4516 875l35 3 3-7 -35-2z"/>
<path fill="#111" d="M3653 819l34 12 9 11 -35-15z"/>
<path fill="#000" d="M3472 849l34-21 9-1 -33 19z"/>
<path fill="#000" d="M3244 1067l32-37 11-9 -33 36z"/>
<path fill="#323" d="M3687 831l35 15 8 14 -34-18z"/>
<path fill="#636" d="M3722 846l35 16 8 17 -35-19z"/>
<path fill="#440" d="M4656 932l35 30 2-9 -34-29z"/>
<path fill="#848" d="M3757 862l35 16 8 20 -35-19z"/>
<path fill="#330" d="M4551 878l35 11 3-7 -35-11z"/>
<path fill="#000" d="M3319 985l33-35 11-7 -33 34z"/>
<path fill="#330" d="M4859 1156l26 31 1-11 -25-31z"/>
<path fill="#c6c" d="M3792 878l35 15 7 22 -34-17z"/>
<path fill="#000" d="M3396 910l33-31 10-4 -34 29z"/>
<path fill="#330" d="M4621 908l35 24 3-8 -35-24z"/>
<path fill="#330" d="M4586 889l35 19 3-8 -35-18z"/>
<path class="m" d="M3827 893l35 13 7 24 -35-15z"/>
<path class="m" d="M4148 969l35-6 5 25 -35 7z"/>
<path fill="#000" d="M4405 906l36-15 4 0 -36 17z"/>
<path fill="#848" d="M4294 950l36-16 4 10 -36 19z"/>
<path class="m" d="M3862 906l35 11 7 26 -35-13z"/>
<path fill="#330" d="M4825 1116l34 40 2-11 -34-40z"/>
<path class="m" d="M3897 917l35 9 6 28 -34-11z"/>
<path fill="#000" d="M3506 828l34-15 9 2 -34 12z"/>
<path fill="#000" d="M3200 1114l33-37 11-10 -33 36z"/>
<path class="m" d="M3932 926l35 7 6 29 -35-8z"/>
<path class="m" d="M4183 963l35-8 5 22 -35 11z"/>
<path fill="#330" d="M4791 1077l34 39 2-11 -34-38z"/>
<path fill="#000" d="M4441 891l36-10 3-2 -35 12z"/>
<path fill="#000" d="M3276 1030l33-36 10-9 -32 36z"/>
<path class="m" d="M3967 933l35 5 6 30 -35-6z"/>
<path fill="#535" d="M4330 934l35-17 4 7 -35 20z"/>
<path fill="#000" d="M3429 879l34-28 9-2 -33 26z"/>
<path fill="#000" d="M3352 950l34-34 10-6 -33 33z"/>
<path fill="#000" d="M3540 813l34-8 10 4 -35 6z"/>
<path fill="#330" d="M4757 1039l34 38 2-10 -34-37z"/>
<path class="m" d="M4002 938l35 4 6 30 -35-4z"/>
<path class="m" d="M4218 955l36-10 4 20 -35 12z"/>
<path fill="#000" d="M4477 881l36-4 3-2 -36 4z"/>
<path fill="#330" d="M4723 1004l34 35 2-9 -34-35z"/>
<path fill="#111" d="M3574 805l35-2 9 8 -34-2z"/>
<path class="m" d="M4037 942l35 2 6 29 -35-1z"/>
<path fill="#313" d="M4365 917l36-16 4 5 -36 18z"/>
<path fill="#330" d="M4688 970l35 34 2-9 -34-33z"/>
<path fill="#000" d="M3233 1077l33-37 10-10 -32 37z"/>
<path fill="#000" d="M4513 877l35 5 3-4 -35-3z"/>
<path fill="#313" d="M3609 803l35 5 9 11 -35-8z"/>
<path fill="#000" d="M3463 851l33-23 10 0 -34 21z"/>
<path fill="#330" d="M4654 940l34 30 3-8 -35-30z"/>
<path class="m" d="M4072 944l35-1 6 29 -35 1z"/>
<path class="m" d="M4254 945l36-12 4 17 -36 15z"/>
<path fill="#330" d="M4858 1167l26 31 1-11 -26-31z"/>
<path fill="#000" d="M3309 994l33-36 10-8 -33 35z"/>
<path fill="#000" d="M4548 882l36 12 2-5 -35-11z"/>
<path fill="#220" d="M4619 914l35 26 2-8 -35-24z"/>
<path fill="#424" d="M3644 808l35 9 8 14 -34-12z"/>
<path fill="#000" d="M3386 916l33-32 10-5 -33 31z"/>
<path fill="#220" d="M4584 894l35 20 2-6 -35-19z"/>
<path fill="#636" d="M3679 817l35 12 8 17 -35-15z"/>
<path fill="#330" d="M4824 1126l34 41 1-11 -34-40z"/>
<path fill="#959" d="M3714 829l35 14 8 19 -35-16z"/>
<path class="m" d="M4107 943l36-2 5 28 -35 3z"/>
<path fill="#000" d="M4401 901l37-13 3 3 -36 15z"/>
<path fill="#c6c" d="M3749 843l35 13 8 22 -35-16z"/>
<path class="m" d="M3784 856l35 12 8 25 -35-15z"/>
<path fill="#000" d="M3189 1125l33-37 11-11 -33 37z"/>
<path fill="#c6c" d="M4290 933l36-13 4 14 -36 16z"/>
<path fill="#000" d="M3496 828l35-18 9 3 -34 15z"/>
<path fill="#330" d="M4790 1087l34 39 1-10 -34-39z"/>
<path class="m" d="M3819 868l35 11 8 27 -35-13z"/>
<path class="m" d="M4143 941l35-4 5 26 -35 6z"/>
<path fill="#000" d="M3266 1040l33-37 10-9 -33 36z"/>
<path class="m" d="M3854 879l35 10 8 28 -35-11z"/>
<path fill="#000" d="M4438 888l36-9 3 2 -36 10z"/>
<path fill="#000" d="M3342 958l33-35 11-7 -34 34z"/>
<path fill="#330" d="M4755 1048l35 39 1-10 -34-38z"/>
<path fill="#000" d="M3419 884l34-30 10-3 -34 28z"/>
<path class="m" d="M3889 889l36 7 7 30 -35-9z"/>
<path fill="#111" d="M3531 810l34-11 9 6 -34 8z"/>
<path fill="#949" d="M4326 920l36-15 3 12 -35 17z"/>
<path class="m" d="M4178 937l36-6 4 24 -35 8z"/>
<path class="m" d="M3925 896l35 7 7 30 -35-7z"/>
<path fill="#330" d="M4721 1012l34 36 2-9 -34-35z"/>
<path fill="#000" d="M4474 879l36-1 3-1 -36 4z"/>
<path class="m" d="M3960 903l35 5 7 30 -35-5z"/>
<path fill="#220" d="M4686 977l35 35 2-8 -35-34z"/>
<path fill="#000" d="M3222 1088l33-38 11-10 -33 37z"/>
<path fill="#313" d="M3565 799l35-4 9 8 -35 2z"/>
<path fill="#000" d="M4510 878l35 6 3-2 -35-5z"/>
<path class="m" d="M4214 931l36-8 4 22 -36 10z"/>
<path fill="#330" d="M4856 1178l26 32 2-12 -26-31z"/>
<path fill="#220" d="M4651 946l35 31 2-7 -34-30z"/>
<path class="m" d="M3995 908l36 3 6 31 -35-4z"/>
<path fill="#000" d="M3299 1003l33-36 10-9 -33 36z"/>
<path fill="#000" d="M3453 854l34-25 9-1 -33 23z"/>
<path fill="#636" d="M4362 905l36-13 3 9 -36 16z"/>
<path fill="#000" d="M4545 884l36 14 3-4 -36-12z"/>
<path fill="#110" d="M4616 919l35 27 3-6 -35-26z"/>
<path fill="#000" d="M3375 923l34-33 10-6 -33 32z"/>
<path fill="#000" d="M4581 898l35 21 3-5 -35-20z"/>
<path fill="#525" d="M3600 795l35 1 9 12 -35-5z"/>
<path fill="#330" d="M4822 1136l34 42 2-11 -34-41z"/>
<path class="m" d="M4031 911l35 2 6 31 -35-2z"/>
<path class="m" d="M4250 923l36-10 4 20 -36 12z"/>
<path fill="#747" d="M3635 796l35 6 9 15 -35-9z"/>
<path fill="#000" d="M3178 1137l33-38 11-11 -33 37z"/>
<path fill="#323" d="M4398 892l36-11 4 7 -37 13z"/>
<path class="m" d="M4066 913l36 0 5 30 -35 1z"/>
<path fill="#330" d="M4788 1096l34 40 2-10 -34-39z"/>
<path fill="#a5a" d="M3670 802l35 8 9 19 -35-12z"/>
<path fill="#000" d="M3487 829l34-20 10 1 -35 18z"/>
<path fill="#000" d="M3255 1050l33-37 11-10 -33 37z"/>
<path fill="#d6d" d="M3705 810l36 11 8 22 -35-14z"/>
<path class="m" d="M3741 821l35 10 8 25 -35-13z"/>
<path fill="#330" d="M4753 1057l35 39 2-9 -35-39z"/>
<path fill="#000" d="M3332 967l33-36 10-8 -33 35z"/>
<path class="m" d="M4102 913l36-1 5 29 -36 2z"/>
<path class="m" d="M4286 913l36-11 4 18 -36 13z"/>
<path fill="#000" d="M3409 890l34-32 10-4 -34 30z"/>
<path class="m" d="M3776 831l35 11 8 26 -35-12z"/>
<path fill="#000" d="M4434 881l36-5 4 3 -36 9z"/>
<path class="m" d="M3811 842l36 9 7 28 -35-11z"/>
<path fill="#220" d="M4719 1020l34 37 2-9 -34-36z"/>
<path fill="#212" d="M3521 809l35-15 9 5 -34 11z"/>
<path class="m" d="M4138 912l35-3 5 28 -35 4z"/>
<path class="m" d="M3847 851l35 8 7 30 -35-10z"/>
<path fill="#000" d="M3211 1099l33-37 11-12 -33 38z"/>
<path fill="#000" d="M4470 876l36 0 4 2 -36 1z"/>
<path fill="#220" d="M4684 984l35 36 2-8 -35-35z"/>
<path fill="#c6c" d="M4322 902l36-11 4 14 -36 15z"/>
<path class="m" d="M3882 859l36 6 7 31 -36-7z"/>
<path fill="#330" d="M4855 1188l26 33 1-11 -26-32z"/>
<path fill="#000" d="M3288 1013l33-36 11-10 -33 36z"/>
<path fill="#110" d="M4649 951l35 33 2-7 -35-31z"/>
<path class="m" d="M4173 909l36-4 5 26 -36 6z"/>
<path fill="#000" d="M4506 876l36 9 3-1 -35-6z"/>
<path fill="#424" d="M3556 794l35-8 9 9 -35 4z"/>
<path fill="#000" d="M3443 858l34-27 10-2 -34 25z"/>
<path class="m" d="M3918 865l35 6 7 32 -35-7z"/>
<path fill="#000" d="M3365 931l34-35 10-6 -34 33z"/>
<path fill="#000" d="M4614 923l35 28 2-5 -35-27z"/>
<path fill="#000" d="M4542 885l36 15 3-2 -36-14z"/>
<path fill="#000" d="M4578 900l36 23 2-4 -35-21z"/>
<path fill="#330" d="M4821 1147l34 41 1-10 -34-42z"/>
<path fill="#949" d="M4358 891l36-10 4 11 -36 13z"/>
<path class="m" d="M3953 871l36 4 6 33 -35-5z"/>
<path fill="#000" d="M3167 1149l33-38 11-12 -33 38z"/>
<path class="m" d="M4209 905l36-6 5 24 -36 8z"/>
<path fill="#737" d="M3591 786l35-3 9 13 -35-1z"/>
<path fill="#330" d="M4786 1106l35 41 1-11 -34-40z"/>
<path class="m" d="M3989 875l36 3 6 33 -36-3z"/>
<path fill="#000" d="M3244 1062l33-38 11-11 -33 37z"/>
<path fill="#a5a" d="M3626 783l35 1 9 18 -35-6z"/>
<path fill="#000" d="M3477 831l35-23 9 1 -34 20z"/>
<path fill="#636" d="M4394 881l37-8 3 8 -36 11z"/>
<path fill="#330" d="M4751 1066l35 40 2-10 -35-39z"/>
<path fill="#000" d="M3321 977l34-37 10-9 -33 36z"/>
<path class="m" d="M4245 899l36-8 5 22 -36 10z"/>
<path class="m" d="M4025 878l35 2 6 33 -35-2z"/>
<path fill="#000" d="M3399 896l34-32 10-6 -34 32z"/>
<path fill="#d6d" d="M3661 784l36 6 8 20 -35-8z"/>
<path fill="#220" d="M4716 1027l35 39 2-9 -34-37z"/>
<path class="m" d="M3697 790l35 7 9 24 -36-11z"/>
<path class="m" d="M4060 880l36 1 6 32 -36 0z"/>
<path fill="#313" d="M4431 873l36-3 3 6 -36 5z"/>
<path fill="#000" d="M3200 1111l33-38 11-11 -33 37z"/>
<path class="m" d="M4281 891l37-8 4 19 -36 11z"/>
<path class="m" d="M3732 797l36 8 8 26 -35-10z"/>
<path fill="#111" d="M3512 808l34-18 10 4 -35 15z"/>
<path fill="#220" d="M4682 991l34 36 3-7 -35-36z"/>
<path class="m" d="M4096 881l36-1 6 32 -36 1z"/>
<path class="m" d="M3768 805l35 8 8 29 -35-11z"/>
<path fill="#330" d="M4854 1199l26 33 1-11 -26-33z"/>
<path fill="#000" d="M4467 870l36 3 3 3 -36 0z"/>
<path fill="#000" d="M3277 1024l34-37 10-10 -33 36z"/>
<path fill="#110" d="M4646 957l36 34 2-7 -35-33z"/>
<path class="m" d="M3803 813l36 7 8 31 -36-9z"/>
<path fill="#000" d="M3355 940l34-35 10-9 -34 35z"/>
<path fill="#000" d="M3433 864l34-30 10-3 -34 27z"/>
<path fill="#000" d="M4503 873l36 11 3 1 -36-9z"/>
<path class="m" d="M4318 883l36-9 4 17 -36 11z"/>
<path fill="#000" d="M4611 926l35 31 3-6 -35-28z"/>
<path fill="#330" d="M4819 1157l35 42 1-11 -34-41z"/>
<path class="m" d="M4132 880l36-1 5 30 -35 3z"/>
<path class="m" d="M3839 820l36 6 7 33 -35-8z"/>
<path fill="#000" d="M4539 884l36 18 3-2 -36-15z"/>
<path fill="#424" d="M3546 790l35-13 10 9 -35 8z"/>
<path fill="#000" d="M4575 902l36 24 3-3 -36-23z"/>
<path fill="#000" d="M3155 1161l34-38 11-12 -33 38z"/>
<path class="m" d="M3875 826l36 6 7 33 -36-6z"/>
<path fill="#330" d="M4784 1115l35 42 2-10 -35-41z"/>
<path class="m" d="M4168 879l37-3 4 29 -36 4z"/>
<path fill="#000" d="M3233 1073l33-37 11-12 -33 38z"/>
<path fill="#b6b" d="M4354 874l37-7 3 14 -36 10z"/>
<path fill="#747" d="M3581 777l36-7 9 13 -35 3z"/>
<path class="m" d="M3911 832l36 5 6 34 -35-6z"/>
<path fill="#000" d="M3311 987l34-37 10-10 -34 37z"/>
<path fill="#000" d="M3467 834l35-25 10-1 -35 23z"/>
<path fill="#330" d="M4749 1075l35 40 2-9 -35-40z"/>
<path class="m" d="M4205 876l36-4 4 27 -36 6z"/>
<path class="m" d="M3947 837l35 4 7 34 -36-4z"/>
<path fill="#000" d="M3389 905l34-34 10-7 -34 32z"/>
<path fill="#b6b" d="M3617 770l35-3 9 17 -35-1z"/>
<path fill="#848" d="M4391 867l36-5 4 11 -37 8z"/>
<path fill="#220" d="M4714 1035l35 40 2-9 -35-39z"/>
<path class="m" d="M3982 841l36 3 7 34 -36-3z"/>
<path fill="#000" d="M3189 1123l33-37 11-13 -33 38z"/>
<path class="m" d="M4241 872l36-5 4 24 -36 8z"/>
<path class="m" d="M3652 767l36 0 9 23 -36-6z"/>
<path fill="#220" d="M4679 997l35 38 2-8 -34-36z"/>
<path fill="#424" d="M4427 862l37 1 3 7 -36 3z"/>
<path fill="#440" d="M4852 1210l27 34 1-12 -26-33z"/>
<path class="m" d="M4018 844l37 2 5 34 -35-2z"/>
<path fill="#000" d="M3502 809l35-21 9 2 -34 18z"/>
<path fill="#000" d="M3266 1036l34-37 11-12 -34 37z"/>
<path class="m" d="M3688 767l36 4 8 26 -35-7z"/>
<path fill="#110" d="M4644 961l35 36 3-6 -36-34z"/>
<path fill="#000" d="M3345 950l34-36 10-9 -34 35z"/>
<path fill="#000" d="M4464 863l36 6 3 4 -36-3z"/>
<path fill="#000" d="M3423 871l34-31 10-6 -34 30z"/>
<path class="m" d="M4277 867l37-6 4 22 -37 8z"/>
<path class="m" d="M4055 846l36 1 5 34 -36-1z"/>
<path fill="#330" d="M4817 1167l35 43 2-11 -35-42z"/>
<path class="m" d="M3724 771l35 5 9 29 -36-8z"/>
<path fill="#000" d="M4608 930l36 31 2-4 -35-31z"/>
<path fill="#000" d="M3144 1174l33-38 12-13 -34 38z"/>
<path fill="#000" d="M4500 869l37 13 2 2 -36-11z"/>
<path fill="#000" d="M4573 903l35 27 3-4 -36-24z"/>
<path fill="#000" d="M4537 882l36 21 2-1 -36-18z"/>
<path class="m" d="M3759 776l36 6 8 31 -35-8z"/>
<path fill="#212" d="M3537 788l35-17 9 6 -35 13z"/>
<path class="m" d="M4091 847l36 0 5 33 -36 1z"/>
<path fill="#330" d="M4782 1125l35 42 2-10 -35-42z"/>
<path fill="#000" d="M3222 1086l34-38 10-12 -33 37z"/>
<path class="m" d="M4314 861l36-6 4 19 -36 9z"/>
<path class="m" d="M3795 782l36 5 8 33 -36-7z"/>
<path fill="#000" d="M3300 999l34-37 11-12 -34 37z"/>
<path class="m" d="M4127 847l36 0 5 32 -36 1z"/>
<path fill="#330" d="M4747 1084l35 41 2-10 -35-40z"/>
<path class="m" d="M3831 787l36 5 8 34 -36-6z"/>
<path fill="#000" d="M3457 840l35-27 10-4 -35 25z"/>
<path fill="#000" d="M3379 914l34-34 10-9 -34 34z"/>
<path fill="#636" d="M3572 771l36-12 9 11 -36 7z"/>
<path fill="#e7e" d="M4350 855l37-4 4 16 -37 7z"/>
<path class="m" d="M3867 792l36 5 8 35 -36-6z"/>
<path fill="#220" d="M4712 1043l35 41 2-9 -35-40z"/>
<path class="m" d="M4163 847l37-2 5 31 -37 3z"/>
<path fill="#000" d="M3177 1136l34-37 11-13 -33 37z"/>
<path class="m" d="M3903 797l37 4 7 36 -36-5z"/>
<path fill="#a5a" d="M4387 851l37-1 3 12 -36 5z"/>
<path fill="#a5a" d="M3608 759l35-8 9 16 -35 3z"/>
<path fill="#220" d="M4677 1004l35 39 2-8 -35-38z"/>
<path fill="#000" d="M3256 1048l33-37 11-12 -34 37z"/>
<path fill="#440" d="M4851 1222l26 33 2-11 -27-34z"/>
<path class="m" d="M4200 845l36-2 5 29 -36 4z"/>
<path fill="#000" d="M3492 813l35-23 10-2 -35 21z"/>
<path class="m" d="M3940 801l36 4 6 36 -35-4z"/>
<path fill="#000" d="M3334 962l34-36 11-12 -34 36z"/>
<path fill="#110" d="M4641 967l36 37 2-7 -35-36z"/>
<path fill="#535" d="M4424 850l37 4 3 9 -37-1z"/>
<path fill="#000" d="M3413 880l35-31 9-9 -34 31z"/>
<path class="m" d="M3643 751l36-5 9 21 -36 0z"/>
<path fill="#440" d="M4816 1178l35 44 1-12 -35-43z"/>
<path fill="#000" d="M3132 1187l34-37 11-14 -33 38z"/>
<path class="m" d="M3976 805l36 3 6 36 -36-3z"/>
<path class="m" d="M4236 843l37-3 4 27 -36 5z"/>
<path fill="#000" d="M4606 933l35 34 3-6 -36-31z"/>
<path fill="#101" d="M4461 854l36 10 3 5 -36-6z"/>
<path fill="#000" d="M4570 904l36 29 2-3 -35-27z"/>
<path class="m" d="M3679 746l36-1 9 26 -36-4z"/>
<path fill="#000" d="M4497 864l37 17 3 1 -37-13z"/>
<path fill="#000" d="M3211 1099l34-37 11-14 -34 38z"/>
<path fill="#330" d="M4781 1135l35 43 1-11 -35-42z"/>
<path fill="#000" d="M4534 881l36 23 3-1 -36-21z"/>
<path class="m" d="M4012 808l37 2 6 36 -37-2z"/>
<path fill="#000" d="M3527 790l36-20 9 1 -35 17z"/>
<path class="m" d="M4273 840l37-3 4 24 -37 6z"/>
<path fill="#000" d="M3289 1011l35-36 10-13 -34 37z"/>
<path class="m" d="M3715 745l36 2 8 29 -35-5z"/>
<path class="m" d="M4049 810l36 1 6 36 -36-1z"/>
<path fill="#330" d="M4745 1093l36 42 1-10 -35-41z"/>
<path fill="#000" d="M3368 926l35-34 10-12 -34 34z"/>
<path fill="#000" d="M3448 849l35-28 9-8 -35 27z"/>
<path class="m" d="M3751 747l36 3 8 32 -36-6z"/>
<path class="m" d="M4310 837l37-3 3 21 -36 6z"/>
<path class="m" d="M4085 811l37 1 5 35 -36 0z"/>
<path fill="#000" d="M3166 1150l33-38 12-13 -34 37z"/>
<path fill="#330" d="M4710 1051l35 42 2-9 -35-41z"/>
<path fill="#212" d="M3563 770l35-17 10 6 -36 12z"/>
<path class="m" d="M3787 750l36 3 8 34 -36-5z"/>
<path fill="#000" d="M3245 1062l34-37 10-14 -33 37z"/>
<path class="m" d="M4347 834l37 0 3 17 -37 4z"/>
<path fill="#440" d="M4849 1233l27 34 1-12 -26-33z"/>
<path class="m" d="M4122 812l36 0 5 35 -36 0z"/>
<path fill="#220" d="M4674 1011l36 40 2-8 -35-39z"/>
<path class="m" d="M3823 753l37 4 7 35 -36-5z"/>
<path fill="#000" d="M3324 975l34-36 10-13 -34 36z"/>
<path fill="#000" d="M3483 821l35-24 9-7 -35 23z"/>
<path fill="#636" d="M3598 753l36-13 9 11 -35 8z"/>
<path fill="#000" d="M3403 892l35-31 10-12 -35 31z"/>
<path fill="#b5b" d="M4384 834l36 3 4 13 -37 1z"/>
<path fill="#110" d="M4639 972l35 39 3-7 -36-37z"/>
<path fill="#440" d="M4814 1189l35 44 2-11 -35-44z"/>
<path class="m" d="M3860 757l36 4 7 36 -36-5z"/>
<path class="m" d="M4158 812l37 0 5 33 -37 2z"/>
<path fill="#000" d="M3121 1201l33-38 12-13 -34 37z"/>
<path fill="#000" d="M4603 936l36 36 2-5 -35-34z"/>
<path fill="#636" d="M4420 837l37 8 4 9 -37-4z"/>
<path class="m" d="M3896 761l37 4 7 36 -37-4z"/>
<path fill="#000" d="M3199 1112l34-37 12-13 -34 37z"/>
<path fill="#440" d="M4779 1146l35 43 2-11 -35-43z"/>
<path class="m" d="M4195 812l37-1 4 32 -36 2z"/>
<path fill="#b5b" d="M3634 740l36-10 9 16 -36 5z"/>
<path fill="#000" d="M4567 905l36 31 3-3 -36-29z"/>
<path fill="#101" d="M4457 845l37 14 3 5 -36-10z"/>
<path fill="#000" d="M4531 879l36 26 3-1 -36-23z"/>
<path fill="#000" d="M4494 859l37 20 3 2 -37-17z"/>
<path class="m" d="M3933 765l36 3 7 37 -36-4z"/>
<path fill="#000" d="M3279 1025l34-36 11-14 -35 36z"/>
<path fill="#000" d="M3518 797l35-21 10-6 -36 20z"/>
<path fill="#330" d="M4743 1103l36 43 2-11 -36-42z"/>
<path class="m" d="M4232 811l37 0 4 29 -37 3z"/>
<path fill="#000" d="M3358 939l35-33 10-14 -35 34z"/>
<path fill="#000" d="M3438 861l35-27 10-13 -35 28z"/>
<path class="m" d="M3670 730l36-7 9 22 -36 1z"/>
<path class="m" d="M3969 768l37 3 6 37 -36-3z"/>
<path fill="#000" d="M3154 1163l34-37 11-14 -33 38z"/>
<path fill="#330" d="M4708 1060l35 43 2-10 -35-42z"/>
<path class="m" d="M4269 811l37 0 4 26 -37 3z"/>
<path class="m" d="M4006 771l36 2 7 37 -37-2z"/>
<path fill="#000" d="M3553 776l36-18 9-5 -35 17z"/>
<path class="m" d="M3706 723l36-4 9 28 -36-2z"/>
<path fill="#000" d="M3233 1075l35-36 11-14 -34 37z"/>
<path fill="#440" d="M4848 1245l27 35 1-13 -27-34z"/>
<path fill="#330" d="M4672 1019l36 41 2-9 -36-40z"/>
<path class="m" d="M4042 773l37 2 6 36 -36-1z"/>
<path class="m" d="M4306 811l37 1 4 22 -37 3z"/>
<path fill="#000" d="M3313 989l35-35 10-15 -34 36z"/>
<path class="m" d="M3742 719l37 0 8 31 -36-3z"/>
<path fill="#000" d="M3473 834l35-24 10-13 -35 24z"/>
<path fill="#000" d="M3393 906l35-30 10-15 -35 31z"/>
<path fill="#440" d="M4812 1201l36 44 1-12 -35-44z"/>
<path fill="#000" d="M3109 1215l33-38 12-14 -33 38z"/>
<path fill="#220" d="M4636 979l36 40 2-8 -35-39z"/>
<path class="m" d="M4079 775l37 1 6 36 -37-1z"/>
<path class="m" d="M4343 812l37 4 4 18 -37 0z"/>
<path fill="#000" d="M3589 758l36-16 9-2 -36 13z"/>
<path class="m" d="M3779 719l36 1 8 33 -36-3z"/>
<path fill="#000" d="M3188 1126l34-36 11-15 -34 37z"/>
<path fill="#110" d="M4600 941l36 38 3-7 -36-36z"/>
<path fill="#a5a" d="M4380 816l37 9 3 12 -36-3z"/>
<path fill="#440" d="M4777 1157l35 44 2-12 -35-43z"/>
<path class="m" d="M4116 776l37 1 5 35 -36 0z"/>
<path class="m" d="M3815 720l37 3 8 34 -37-4z"/>
<path fill="#000" d="M3268 1039l34-35 11-15 -34 36z"/>
<path fill="#220" d="M3508 810l36-20 9-14 -35 21z"/>
<path fill="#000" d="M4564 907l36 34 3-5 -36-31z"/>
<path fill="#424" d="M4417 825l37 12 3 8 -37-8z"/>
<path fill="#000" d="M3625 742l36-14 9 2 -36 10z"/>
<path fill="#000" d="M3348 954l34-32 11-16 -35 33z"/>
<path fill="#000" d="M4527 879l37 28 3-2 -36-26z"/>
<path fill="#000" d="M4454 837l37 18 3 4 -37-14z"/>
<path fill="#220" d="M3428 876l35-26 10-16 -35 27z"/>
<path class="m" d="M3852 723l37 3 7 35 -36-4z"/>
<path class="m" d="M4153 777l37 1 5 34 -37 0z"/>
<path fill="#000" d="M4491 855l36 24 4 0 -37-20z"/>
<path fill="#440" d="M4741 1113l36 44 2-11 -36-43z"/>
<path fill="#000" d="M3142 1177l35-36 11-15 -34 37z"/>
<path class="m" d="M3889 726l36 3 8 36 -37-4z"/>
<path class="m" d="M4190 778l37 1 5 32 -37 1z"/>
<path fill="#440" d="M4705 1070l36 43 2-10 -35-43z"/>
<path fill="#111" d="M3661 728l36-12 9 7 -36 7z"/>
<path fill="#550" d="M3544 790l36-17 9-15 -36 18z"/>
<path fill="#000" d="M3222 1090l35-36 11-15 -35 36z"/>
<path class="m" d="M3925 729l37 3 7 36 -36-3z"/>
<path fill="#440" d="M4846 1258l27 34 2-12 -27-35z"/>
<path class="m" d="M4227 779l37 2 5 30 -37 0z"/>
<path fill="#000" d="M3302 1004l35-34 11-16 -35 35z"/>
<path fill="#550" d="M3463 850l36-21 9-19 -35 24z"/>
<path fill="#330" d="M4670 1027l35 43 3-10 -36-41z"/>
<path fill="#110" d="M3382 922l36-29 10-17 -35 30z"/>
<path class="m" d="M3962 732l37 2 7 37 -37-3z"/>
<path fill="#636" d="M3697 716l37-9 8 12 -36 4z"/>
<path fill="#000" d="M3097 1229l34-37 11-15 -33 38z"/>
<path fill="#440" d="M4811 1213l35 45 2-13 -36-44z"/>
<path class="m" d="M4264 781l38 4 4 26 -37 0z"/>
<path fill="#880" d="M3580 773l36-13 9-18 -36 16z"/>
<path fill="#330" d="M4633 986l37 41 2-8 -36-40z"/>
<path class="m" d="M3999 734l37 3 6 36 -36-2z"/>
<path fill="#000" d="M3177 1141l34-36 11-15 -34 36z"/>
<path fill="#737" d="M3734 707l37 1 8 11 -37 0z"/>
<path class="m" d="M4302 785l37 6 4 21 -37-1z"/>
<path fill="#440" d="M4775 1168l36 45 1-12 -35-44z"/>
<path fill="#220" d="M4597 947l36 39 3-7 -36-38z"/>
<path fill="#aa0" d="M3499 829l36-17 9-22 -36 20z"/>
<path fill="#000" d="M3257 1054l34-34 11-16 -34 35z"/>
<path class="m" d="M4036 737l37 2 6 36 -37-2z"/>
<path fill="#e7e" d="M4339 791l37 9 4 16 -37-4z"/>
<path fill="#110" d="M3337 970l35-31 10-17 -34 32z"/>
<path fill="#550" d="M3418 893l35-23 10-20 -35 26z"/>
<path fill="#535" d="M3771 708l36 3 8 9 -36-1z"/>
<path fill="#dd0" d="M3616 760l36-11 9-21 -36 14z"/>
<path fill="#110" d="M4561 912l36 35 3-6 -36-34z"/>
<path fill="#747" d="M4376 800l37 14 4 11 -37-9z"/>
<path fill="#440" d="M4739 1124l36 44 2-11 -36-44z"/>
<path class="m" d="M4073 739l37 2 6 35 -37-1z"/>
<path fill="#000" d="M4524 880l37 32 3-5 -37-28z"/>
<path fill="#111" d="M4413 814l37 18 4 5 -37-12z"/>
<path fill="#000" d="M3131 1192l34-37 12-14 -35 36z"/>
<path fill="#000" d="M4487 854l37 26 3-1 -36-24z"/>
<path fill="#525" d="M3807 711l37 2 8 10 -37-3z"/>
<path fill="#000" d="M4450 832l37 22 4 1 -37-18z"/>
<path class="y" d="M3535 812l36-13 9-26 -36 17z"/>
<path class="m" d="M4110 741l38 2 5 34 -37-1z"/>
<path fill="#440" d="M4703 1081l36 43 2-11 -36-43z"/>
<path fill="#000" d="M3211 1105l35-35 11-16 -35 36z"/>
<path class="y" d="M3652 749l37-6 8-27 -36 12z"/>
<path fill="#525" d="M3844 713l37 3 8 10 -37-3z"/>
<path fill="#aa0" d="M3453 870l36-19 10-22 -36 21z"/>
<path fill="#000" d="M3291 1020l35-33 11-17 -35 34z"/>
<path fill="#550" d="M4845 1271l27 34 1-13 -27-34z"/>
<path fill="#440" d="M3372 939l36-26 10-20 -36 29z"/>
<path class="m" d="M4148 743l37 2 5 33 -37-1z"/>
<path fill="#440" d="M4667 1037l36 44 2-11 -35-43z"/>
<path fill="#535" d="M3881 716l37 2 7 11 -36-3z"/>
<path class="y" d="M3571 799l36-8 9-31 -36 13z"/>
<path class="y" d="M3689 743l37-4 8-32 -37 9z"/>
<path fill="#000" d="M3084 1243l35-37 12-14 -34 37z"/>
<path fill="#550" d="M4809 1226l36 45 1-13 -35-45z"/>
<path class="m" d="M4185 745l37 4 5 30 -37-1z"/>
<path fill="#636" d="M3918 718l37 3 7 11 -37-3z"/>
<path fill="#440" d="M4631 995l36 42 3-10 -37-41z"/>
<path fill="#000" d="M3165 1155l34-35 12-15 -34 36z"/>
<path class="y" d="M3489 851l37-13 9-26 -36 17z"/>
<path class="y" d="M3726 739l37 0 8-31 -37-1z"/>
<path class="m" d="M4222 749l38 5 4 27 -37-2z"/>
<path fill="#000" d="M3246 1070l34-34 11-16 -34 34z"/>
<path class="y" d="M3607 791l37-5 8-37 -36 11z"/>
<path fill="#550" d="M4773 1181l36 45 2-13 -36-45z"/>
<path fill="#636" d="M3955 721l38 2 6 11 -37-2z"/>
<path fill="#330" d="M4594 955l37 40 2-9 -36-39z"/>
<path fill="#880" d="M3408 913l36-21 9-22 -35 23z"/>
<path fill="#220" d="M3326 987l36-29 10-19 -35 31z"/>
<path class="m" d="M4260 754l37 8 5 23 -38-4z"/>
<path class="y" d="M3763 739l37 1 7-29 -36-3z"/>
<path fill="#330" d="M4558 918l36 37 3-8 -36-35z"/>
<path fill="#636" d="M3993 723l37 2 6 12 -37-3z"/>
<path fill="#550" d="M4737 1136l36 45 2-13 -36-44z"/>
<path class="y" d="M3526 838l36-7 9-32 -36 13z"/>
<path class="y" d="M3644 786l37-1 8-42 -37 6z"/>
<path fill="#e7e" d="M4297 762l38 12 4 17 -37-6z"/>
<path fill="#000" d="M3119 1206l34-36 12-15 -34 37z"/>
<path fill="#220" d="M4521 885l37 33 3-6 -37-32z"/>
<path class="y" d="M3800 740l37 3 7-30 -37-2z"/>
<path fill="#737" d="M4335 774l37 16 4 10 -37-9z"/>
<path fill="#636" d="M4030 725l37 3 6 11 -37-2z"/>
<path fill="#000" d="M4484 856l37 29 3-5 -37-26z"/>
<path fill="#000" d="M3199 1120l35-35 12-15 -35 35z"/>
<path fill="#000" d="M4372 790l37 19 4 5 -37-14z"/>
<path fill="#ee0" d="M3444 892l36-15 9-26 -36 19z"/>
<path fill="#000" d="M4447 831l37 25 3-2 -37-22z"/>
<path fill="#550" d="M4701 1092l36 44 2-12 -36-43z"/>
<path fill="#000" d="M4409 809l38 22 3 1 -37-18z"/>
<path class="y" d="M3681 785l37 2 8-48 -37 4z"/>
<path class="y" d="M3837 743l37 3 7-30 -37-3z"/>
<path class="y" d="M3562 831l37-3 8-37 -36 8z"/>
<path fill="#000" d="M3280 1036l36-31 10-18 -35 33z"/>
<path fill="#660" d="M3362 958l36-25 10-20 -36 26z"/>
<path fill="#535" d="M4067 728l38 2 5 11 -37-2z"/>
<path fill="#550" d="M4843 1284l27 35 2-14 -27-34z"/>
<path fill="#550" d="M4664 1049l37 43 2-11 -36-44z"/>
<path class="y" d="M3718 787l37 3 8-51 -37 0z"/>
<path class="y" d="M3874 746l37 3 7-31 -37-2z"/>
<path fill="#000" d="M3072 1258l34-37 13-15 -35 37z"/>
<path fill="#525" d="M4105 730l37 3 6 10 -38-2z"/>
<path class="y" d="M3599 828l37 1 8-43 -37 5z"/>
<path class="y" d="M3480 877l36-9 10-30 -37 13z"/>
<path fill="#550" d="M4807 1239l36 45 2-13 -36-45z"/>
<path class="y" d="M3911 749l37 2 7-30 -37-3z"/>
<path fill="#000" d="M3153 1170l35-35 11-15 -34 35z"/>
<path class="y" d="M3755 790l37 4 8-54 -37-1z"/>
<path fill="#550" d="M4628 1006l36 43 3-12 -36-42z"/>
<path fill="#525" d="M4142 733l38 2 5 10 -37-2z"/>
<path fill="#bb0" d="M3398 933l36-18 10-23 -36 21z"/>
<path class="y" d="M3636 829l37 3 8-47 -37 1z"/>
<path fill="#000" d="M3234 1085l35-32 11-17 -34 34z"/>
<path fill="#330" d="M3316 1005l35-28 11-19 -36 29z"/>
<path fill="#550" d="M4771 1194l36 45 2-13 -36-45z"/>
<path class="y" d="M3792 794l37 4 8-55 -37-3z"/>
<path class="y" d="M3948 751l38 3 7-31 -38-2z"/>
<path class="y" d="M3516 868l37-3 9-34 -36 7z"/>
<path fill="#550" d="M4591 965l37 41 3-11 -37-40z"/>
<path fill="#535" d="M4180 735l37 3 5 11 -37-4z"/>
<path class="y" d="M3673 832l37 5 8-50 -37-2z"/>
<path class="y" d="M3829 798l37 4 8-56 -37-3z"/>
<path class="y" d="M3986 754l37 3 7-32 -37-2z"/>
<path fill="#550" d="M4554 928l37 37 3-10 -36-37z"/>
<path fill="#660" d="M4734 1149l37 45 2-13 -36-45z"/>
<path fill="#636" d="M4217 738l38 4 5 12 -38-5z"/>
<path class="y" d="M3553 865l37 2 9-39 -37 3z"/>
<path fill="#000" d="M3106 1221l35-36 12-15 -34 36z"/>
<path class="y" d="M3710 837l37 6 8-53 -37-3z"/>
<path class="y" d="M3434 915l36-12 10-26 -36 15z"/>
<path fill="#550" d="M4517 894l37 34 4-10 -37-33z"/>
<path class="y" d="M3866 802l38 4 7-57 -37-3z"/>
<path class="y" d="M4023 757l38 2 6-31 -37-3z"/>
<path fill="#313" d="M4255 742l38 14 4 6 -37-8z"/>
<path fill="#000" d="M3188 1135l35-34 11-16 -35 35z"/>
<path fill="#770" d="M3351 977l36-22 11-22 -36 25z"/>
<path class="y" d="M3747 843l37 6 8-55 -37-4z"/>
<path fill="#660" d="M4698 1105l36 44 3-13 -36-44z"/>
<path fill="#440" d="M4480 864l37 30 4-9 -37-29z"/>
<path fill="#110" d="M3269 1053l36-30 11-18 -36 31z"/>
<path class="y" d="M3590 867l37 5 9-43 -37-1z"/>
<path fill="#000" d="M4293 756l37 17 5 1 -38-12z"/>
<path fill="#330" d="M4443 837l37 27 4-8 -37-25z"/>
<path fill="#000" d="M4330 773l38 19 4-2 -37-16z"/>
<path class="y" d="M3904 806l37 3 7-58 -37-2z"/>
<path fill="#220" d="M4405 813l38 24 4-6 -38-22z"/>
<path fill="#000" d="M4368 792l37 21 4-4 -37-19z"/>
<path class="y" d="M4061 759l37 2 7-31 -38-2z"/>
<path fill="#660" d="M4841 1298l28 35 1-14 -27-35z"/>
<path class="y" d="M3470 903l37-4 9-31 -36 9z"/>
<path class="y" d="M3784 849l37 6 8-57 -37-4z"/>
<path class="y" d="M3627 872l37 8 9-48 -37-3z"/>
<path fill="#660" d="M4661 1061l37 44 3-13 -37-43z"/>
<path class="y" d="M3941 809l38 3 7-58 -38-3z"/>
<path fill="#000" d="M3060 1272l34-37 12-14 -34 37z"/>
<path class="y" d="M4098 761l38 2 6-30 -37-3z"/>
<path class="y" d="M3821 855l38 5 7-58 -37-4z"/>
<path class="y" d="M3664 880l38 8 8-51 -37-5z"/>
<path fill="#660" d="M4805 1253l36 45 2-14 -36-45z"/>
<path fill="#000" d="M3141 1185l35-35 12-15 -35 35z"/>
<path class="y" d="M3507 899l37 1 9-35 -37 3z"/>
<path fill="#dd0" d="M3387 955l37-16 10-24 -36 18z"/>
<path fill="#660" d="M4625 1019l36 42 3-12 -36-43z"/>
<path class="y" d="M3979 812l37 2 7-57 -37-3z"/>
<path class="y" d="M3702 888l37 9 8-54 -37-6z"/>
<path fill="#000" d="M3223 1101l35-32 11-16 -35 32z"/>
<path class="y" d="M4136 763l38 2 6-30 -38-2z"/>
<path class="y" d="M3859 860l37 4 8-58 -38-4z"/>
<path fill="#440" d="M3305 1023l36-26 10-20 -35 28z"/>
<path fill="#660" d="M4769 1208l36 45 2-14 -36-45z"/>
<path class="y" d="M3544 900l37 6 9-39 -37-2z"/>
<path class="y" d="M3739 897l37 7 8-55 -37-6z"/>
<path fill="#770" d="M4588 978l37 41 3-13 -37-41z"/>
<path class="y" d="M4016 814l38 2 7-57 -38-2z"/>
<path class="y" d="M3896 864l38 4 7-59 -37-3z"/>
<path class="y" d="M4174 765l38 4 5-31 -37-3z"/>
<path class="y" d="M3424 939l36-8 10-28 -36 12z"/>
<path class="y" d="M3581 906l38 10 8-44 -37-5z"/>
<path class="y" d="M3776 904l38 7 7-56 -37-6z"/>
<path fill="#770" d="M4551 941l37 37 3-13 -37-37z"/>
<path fill="#660" d="M4732 1163l37 45 2-14 -37-45z"/>
<path class="y" d="M4054 816l38 2 6-57 -37-2z"/>
<path class="y" d="M4212 769l37 5 6-32 -38-4z"/>
<path class="y" d="M3934 868l37 3 8-59 -38-3z"/>
<path fill="#000" d="M3094 1235l35-36 12-14 -35 36z"/>
<path class="y" d="M3619 916l37 11 8-47 -37-8z"/>
<path class="y" d="M3814 911l37 7 8-58 -38-5z"/>
<path fill="#880" d="M4514 907l37 34 3-13 -37-34z"/>
<path fill="#000" d="M3176 1150l35-33 12-16 -35 34z"/>
<path fill="#880" d="M3341 997l36-21 10-21 -36 22z"/>
<path class="y" d="M4249 774l38 9 6-27 -38-14z"/>
<path fill="#110" d="M3258 1069l36-28 11-18 -36 30z"/>
<path class="y" d="M3656 927l37 11 9-50 -38-8z"/>
<path class="y" d="M4092 818l37 1 7-56 -38-2z"/>
<path class="y" d="M3460 931l37-2 10-30 -37 4z"/>
<path class="y" d="M3971 871l38 2 7-59 -37-2z"/>
<path fill="#660" d="M4695 1119l37 44 2-14 -36-44z"/>
<path fill="#990" d="M4476 878l38 29 3-13 -37-30z"/>
<path class="y" d="M4287 783l38 12 5-22 -37-17z"/>
<path class="y" d="M3851 918l38 5 7-59 -37-4z"/>
<path fill="#bb0" d="M4439 852l37 26 4-14 -37-27z"/>
<path class="y" d="M4325 795l38 16 5-19 -38-19z"/>
<path class="y" d="M3693 938l38 11 8-52 -37-9z"/>
<path fill="#cc0" d="M4401 830l38 22 4-15 -38-24z"/>
<path fill="#ff0" d="M4363 811l38 19 4-17 -37-21z"/>
<path fill="#660" d="M4840 1312l27 36 2-15 -28-35z"/>
<path class="y" d="M4129 819l38 1 7-55 -38-2z"/>
<path class="y" d="M4009 873l38 2 7-59 -38-2z"/>
<path class="y" d="M3497 929l38 6 9-35 -37-1z"/>
<path class="y" d="M3731 949l38 10 7-55 -37-7z"/>
<path class="y" d="M3889 923l38 4 7-59 -38-4z"/>
<path fill="#770" d="M4659 1075l36 44 3-14 -37-44z"/>
<path fill="#000" d="M3047 1286l35-37 12-14 -34 37z"/>
<path fill="#ee0" d="M3377 976l37-13 10-24 -37 16z"/>
<path class="y" d="M3769 959l37 8 8-56 -38-7z"/>
<path fill="#660" d="M4803 1267l37 45 1-14 -36-45z"/>
<path class="y" d="M3535 935l37 10 9-39 -37-6z"/>
<path class="y" d="M4167 820l38 1 7-52 -38-4z"/>
<path class="y" d="M4047 875l38 1 7-58 -38-2z"/>
<path fill="#000" d="M3129 1199l35-34 12-15 -35 35z"/>
<path class="y" d="M3927 927l37 3 7-59 -37-3z"/>
<path fill="#770" d="M4622 1033l37 42 2-14 -36-42z"/>
<path fill="#550" d="M3294 1041l36-25 11-19 -36 26z"/>
<path fill="#000" d="M3211 1117l36-31 11-17 -35 32z"/>
<path class="y" d="M3572 945l38 13 9-42 -38-10z"/>
<path class="y" d="M3806 967l38 7 7-56 -37-7z"/>
<path class="y" d="M4205 821l38 2 6-49 -37-5z"/>
<path class="y" d="M3610 958l38 14 8-45 -37-11z"/>
<path class="y" d="M3964 930l38 2 7-59 -38-2z"/>
<path fill="#660" d="M4767 1222l36 45 2-14 -36-45z"/>
<path class="y" d="M4085 876l38 0 6-57 -37-1z"/>
<path class="y" d="M3414 963l37-6 9-26 -36 8z"/>
<path fill="#880" d="M4585 993l37 40 3-14 -37-41z"/>
<path class="y" d="M3844 974l38 6 7-57 -38-5z"/>
<path class="y" d="M3648 972l37 14 8-48 -37-11z"/>
<path class="y" d="M4243 823l39 3 5-43 -38-9z"/>
<path class="y" d="M3685 986l38 14 8-51 -38-11z"/>
<path class="y" d="M4002 932l38 2 7-59 -38-2z"/>
<path class="y" d="M4123 876l38 0 6-56 -38-1z"/>
<path class="y" d="M3882 980l37 5 8-58 -38-4z"/>
<path fill="#aa0" d="M4547 957l38 36 3-15 -37-37z"/>
<path fill="#770" d="M4730 1177l37 45 2-14 -37-45z"/>
<path class="y" d="M3723 1000l38 12 8-53 -38-10z"/>
<path fill="#000" d="M3082 1249l35-35 12-15 -35 36z"/>
<path class="y" d="M4282 826l38 7 5-38 -38-12z"/>
<path class="y" d="M3451 957l37 2 9-30 -37 2z"/>
<path fill="#990" d="M3330 1016l36-18 11-22 -36 21z"/>
<path fill="#bb0" d="M4510 924l37 33 4-16 -37-34z"/>
<path fill="#000" d="M3164 1165l36-33 11-15 -35 33z"/>
<path fill="#220" d="M3247 1086l36-28 11-17 -36 28z"/>
<path class="y" d="M4320 833l38 10 5-32 -38-16z"/>
<path class="y" d="M3761 1012l37 10 8-55 -37-8z"/>
<path class="y" d="M4040 934l38 0 7-58 -38-1z"/>
<path class="y" d="M3919 985l38 3 7-58 -37-3z"/>
<path class="y" d="M4161 876l38-1 6-54 -38-1z"/>
<path fill="#ee0" d="M4472 897l38 27 4-17 -38-29z"/>
<path class="y" d="M4358 843l38 13 5-26 -38-19z"/>
<path fill="#770" d="M4693 1133l37 44 2-14 -37-44z"/>
<path class="y" d="M3488 959l37 9 10-33 -38-6z"/>
<path class="y" d="M4434 875l38 22 4-19 -37-26z"/>
<path class="y" d="M4396 856l38 19 5-23 -38-22z"/>
<path class="y" d="M3798 1022l38 8 8-56 -38-7z"/>
<path class="y" d="M3957 988l38 3 7-59 -38-2z"/>
<path fill="#660" d="M4838 1327l28 35 1-14 -27-36z"/>
<path class="y" d="M3525 968l38 13 9-36 -37-10z"/>
<path class="y" d="M4078 934l38-1 7-57 -38 0z"/>
<path class="y" d="M4199 875l38-1 6-51 -38-2z"/>
<path class="y" d="M3836 1030l38 7 8-57 -38-6z"/>
<path fill="#ff0" d="M3366 998l37-12 11-23 -37 13z"/>
<path class="y" d="M3563 981l38 17 9-40 -38-13z"/>
<path fill="#880" d="M4656 1090l37 43 2-14 -36-44z"/>
<path class="y" d="M3601 998l38 18 9-44 -38-14z"/>
<path fill="#000" d="M3034 1300l35-37 13-14 -35 37z"/>
<path class="y" d="M3995 991l38 1 7-58 -38-2z"/>
<path class="y" d="M3639 1016l38 17 8-47 -37-14z"/>
<path fill="#770" d="M4801 1282l37 45 2-15 -37-45z"/>
<path class="y" d="M3874 1037l38 5 7-57 -37-5z"/>
<path class="y" d="M4116 933l38-1 7-56 -38 0z"/>
<path class="y" d="M4237 874l39 0 6-48 -39-3z"/>
<path fill="#000" d="M3117 1214l35-34 12-15 -35 34z"/>
<path fill="#550" d="M3283 1058l36-23 11-19 -36 25z"/>
<path class="y" d="M3677 1033l38 16 8-49 -38-14z"/>
<path fill="#990" d="M4619 1049l37 41 3-15 -37-42z"/>
<path fill="#000" d="M3200 1132l35-30 12-16 -36 31z"/>
<path class="y" d="M3715 1049l38 14 8-51 -38-12z"/>
<path class="y" d="M3403 986l38-3 10-26 -37 6z"/>
<path class="y" d="M4033 992l38-1 7-57 -38 0z"/>
<path class="y" d="M3912 1042l38 4 7-58 -38-3z"/>
<path class="y" d="M4276 874l38 2 6-43 -38-7z"/>
<path class="y" d="M3753 1063l38 12 7-53 -37-10z"/>
<path fill="#770" d="M4764 1237l37 45 2-15 -36-45z"/>
<path class="y" d="M4154 932l39-3 6-54 -38 1z"/>
<path fill="#aa0" d="M4581 1010l38 39 3-16 -37-40z"/>
<path class="y" d="M3791 1075l38 10 7-55 -38-8z"/>
<path class="y" d="M4314 876l39 5 5-38 -38-10z"/>
<path class="y" d="M3950 1046l38 2 7-57 -38-3z"/>
<path class="y" d="M3441 983l37 5 10-29 -37-2z"/>
<path class="y" d="M4071 991l39-1 6-57 -38 1z"/>
<path fill="#cc0" d="M4543 975l38 35 4-17 -38-36z"/>
<path fill="#770" d="M4727 1193l37 44 3-15 -37-45z"/>
<path class="y" d="M4193 929l38-3 6-52 -38 1z"/>
<path fill="#990" d="M3319 1035l37-17 10-20 -36 18z"/>
<path class="y" d="M3829 1085l37 8 8-56 -38-7z"/>
<path class="y" d="M4353 881l38 8 5-33 -38-13z"/>
<path fill="#000" d="M3069 1263l35-35 13-14 -35 35z"/>
<path class="y" d="M3478 988l38 12 9-32 -37-9z"/>
<path fill="#ee0" d="M4506 945l37 30 4-18 -37-33z"/>
<path class="y" d="M4391 889l38 13 5-27 -38-19z"/>
<path class="y" d="M3988 1048l38 1 7-57 -38-1z"/>
<path fill="#000" d="M3152 1180l36-33 12-15 -36 33z"/>
<path fill="#110" d="M3235 1102l36-27 12-17 -36 28z"/>
<path class="y" d="M4468 921l38 24 4-21 -38-27z"/>
<path class="y" d="M4429 902l39 19 4-24 -38-22z"/>
<path class="y" d="M3516 1000l38 16 9-35 -38-13z"/>
<path class="y" d="M3866 1093l39 6 7-57 -38-5z"/>
<path class="y" d="M4110 990l38-3 6-55 -38 1z"/>
<path class="y" d="M3554 1016l38 20 9-38 -38-17z"/>
<path fill="#880" d="M4690 1149l37 44 3-16 -37-44z"/>
<path class="y" d="M4231 926l39-3 6-49 -39 0z"/>
<path class="y" d="M3592 1036l38 21 9-41 -38-18z"/>
<path class="y" d="M3630 1057l38 20 9-44 -38-17z"/>
<path class="y" d="M3668 1077l38 19 9-47 -38-16z"/>
<path class="y" d="M4026 1049l38-2 7-56 -38 1z"/>
<path class="y" d="M3905 1099l38 4 7-57 -38-4z"/>
<path class="y" d="M3706 1096l39 17 8-50 -38-14z"/>
<path fill="#ff0" d="M3356 1018l37-9 10-23 -37 12z"/>
<path fill="#770" d="M4836 1342l28 36 2-16 -28-35z"/>
<path class="y" d="M4148 987l38-5 7-53 -39 3z"/>
<path class="y" d="M3745 1113l38 14 8-52 -38-12z"/>
<path fill="#990" d="M4653 1106l37 43 3-16 -37-43z"/>
<path class="y" d="M4270 923l38-2 6-45 -38-2z"/>
<path class="y" d="M3943 1103l38 2 7-57 -38-2z"/>
<path fill="#000" d="M3021 1314l35-37 13-14 -35 37z"/>
<path class="y" d="M3783 1127l38 12 8-54 -38-10z"/>
<path class="y" d="M4064 1047l39-2 7-55 -39 1z"/>
<path fill="#770" d="M4799 1297l37 45 2-15 -37-45z"/>
<path fill="#440" d="M3271 1075l37-22 11-18 -36 23z"/>
<path fill="#000" d="M3104 1228l36-34 12-14 -35 34z"/>
<path fill="#aa0" d="M4615 1066l38 40 3-16 -37-41z"/>
<path class="y" d="M3393 1009l38-1 10-25 -38 3z"/>
<path fill="#000" d="M3188 1147l36-30 11-15 -35 30z"/>
<path class="y" d="M3821 1139l38 9 7-55 -37-8z"/>
<path class="y" d="M4186 982l39-5 6-51 -38 3z"/>
<path class="y" d="M4308 921l39 0 6-40 -39-5z"/>
<path class="y" d="M3981 1105l38 0 7-56 -38-1z"/>
<path class="y" d="M3859 1148l38 7 8-56 -39-6z"/>
<path class="y" d="M4103 1045l38-5 7-53 -38 3z"/>
<path fill="#bb0" d="M4578 1029l37 37 4-17 -38-39z"/>
<path fill="#770" d="M4762 1252l37 45 2-15 -37-45z"/>
<path class="y" d="M3431 1008l37 7 10-27 -37-5z"/>
<path class="y" d="M4347 921l39 4 5-36 -38-8z"/>
<path class="y" d="M4225 977l39-6 6-48 -39 3z"/>
<path fill="#ee0" d="M4540 996l38 33 3-19 -38-35z"/>
<path class="y" d="M4019 1105l39-2 6-56 -38 2z"/>
<path class="y" d="M3468 1015l38 14 10-29 -38-12z"/>
<path class="y" d="M3897 1155l38 5 8-57 -38-4z"/>
<path class="y" d="M4386 925l39 8 4-31 -38-13z"/>
<path fill="#990" d="M3308 1053l37-16 11-19 -37 17z"/>
<path class="y" d="M3506 1029l39 20 9-33 -38-16z"/>
<path class="y" d="M3621 1096l39 24 8-43 -38-20z"/>
<path class="y" d="M4501 968l39 28 3-21 -37-30z"/>
<path class="y" d="M3583 1072l38 24 9-39 -38-21z"/>
<path class="y" d="M3545 1049l38 23 9-36 -38-20z"/>
<path fill="#880" d="M4725 1208l37 44 2-15 -37-44z"/>
<path class="y" d="M3660 1120l38 21 8-45 -38-19z"/>
<path class="y" d="M4425 933l38 14 5-26 -39-19z"/>
<path class="y" d="M4141 1040l39-6 6-52 -38 5z"/>
<path class="y" d="M3698 1141l38 20 9-48 -39-17z"/>
<path class="y" d="M4463 947l38 21 5-23 -38-24z"/>
<path fill="#000" d="M3056 1277l36-35 12-14 -35 35z"/>
<path class="y" d="M3736 1161l39 17 8-51 -38-14z"/>
<path class="y" d="M3935 1160l39 1 7-56 -38-2z"/>
<path fill="#110" d="M3224 1117l36-26 11-16 -36 27z"/>
<path fill="#000" d="M3140 1194l36-32 12-15 -36 33z"/>
<path class="y" d="M4264 971l39-6 5-44 -38 2z"/>
<path class="y" d="M4058 1103l38-4 7-54 -39 2z"/>
<path class="y" d="M3775 1178l38 14 8-53 -38-12z"/>
<path fill="#990" d="M4687 1165l38 43 2-15 -37-44z"/>
<path class="y" d="M3813 1192l38 11 8-55 -38-9z"/>
<path fill="#ee0" d="M3345 1037l37-7 11-21 -37 9z"/>
<path class="y" d="M4180 1034l39-8 6-49 -39 5z"/>
<path class="y" d="M3974 1161l38 0 7-56 -38 0z"/>
<path fill="#770" d="M4834 1358l29 35 1-15 -28-36z"/>
<path class="y" d="M4303 965l39-4 5-40 -39 0z"/>
<path class="y" d="M3851 1203l39 9 7-57 -38-7z"/>
<path class="y" d="M4096 1099l39-7 6-52 -38 5z"/>
<path fill="#aa0" d="M4650 1124l37 41 3-16 -37-43z"/>
<path class="y" d="M3890 1212l38 4 7-56 -38-5z"/>
<path class="y" d="M4012 1161l39-4 7-54 -39 2z"/>
<path class="y" d="M3382 1030l38 0 11-22 -38 1z"/>
<path fill="#440" d="M3260 1091l37-21 11-17 -37 22z"/>
<path class="y" d="M4219 1026l39-8 6-47 -39 6z"/>
<path fill="#770" d="M4797 1313l37 45 2-16 -37-45z"/>
<path class="y" d="M4342 961l39 0 5-36 -39-4z"/>
<path fill="#bb0" d="M4612 1084l38 40 3-18 -38-40z"/>
<path fill="#000" d="M3092 1242l35-35 13-13 -36 34z"/>
<path fill="#000" d="M3176 1162l36-30 12-15 -36 30z"/>
<path class="y" d="M4135 1092l39-8 6-50 -39 6z"/>
<path class="y" d="M3420 1030l38 10 10-25 -37-7z"/>
<path class="y" d="M3928 1216l38 2 8-57 -39-1z"/>
<path fill="#dd0" d="M4574 1048l38 36 3-18 -37-37z"/>
<path class="y" d="M3690 1183l38 23 8-45 -38-20z"/>
<path class="y" d="M4381 961l39 4 5-32 -39-8z"/>
<path class="y" d="M3651 1158l39 25 8-42 -38-21z"/>
<path class="y" d="M3728 1206l39 21 8-49 -39-17z"/>
<path class="y" d="M3612 1131l39 27 9-38 -39-24z"/>
<path class="y" d="M4051 1157l38-6 7-52 -38 4z"/>
<path fill="#880" d="M4760 1268l37 45 2-16 -37-45z"/>
<path class="y" d="M3458 1040l39 16 9-27 -38-14z"/>
<path class="y" d="M3574 1104l38 27 9-35 -38-24z"/>
<path class="y" d="M3767 1227l38 17 8-52 -38-14z"/>
<path class="y" d="M3535 1078l39 26 9-32 -38-23z"/>
<path class="y" d="M4258 1018l39-9 6-44 -39 6z"/>
<path class="y" d="M3497 1056l38 22 10-29 -39-20z"/>
<path class="y" d="M4536 1017l38 31 4-19 -38-33z"/>
<path class="y" d="M4420 965l39 10 4-28 -38-14z"/>
<path class="y" d="M3805 1244l38 14 8-55 -38-11z"/>
<path class="y" d="M3966 1218l39-2 7-55 -38 0z"/>
<path class="y" d="M4497 993l39 24 4-21 -39-28z"/>
<path class="y" d="M4459 975l38 18 4-25 -38-21z"/>
<path fill="#880" d="M3297 1070l37-15 11-18 -37 16z"/>
<path class="y" d="M4174 1084l39-10 6-48 -39 8z"/>
<path class="y" d="M3843 1258l39 10 8-56 -39-9z"/>
<path fill="#880" d="M4722 1225l38 43 2-16 -37-44z"/>
<path class="y" d="M4089 1151l39-8 7-51 -39 7z"/>
<path fill="#000" d="M3212 1132l36-26 12-15 -36 26z"/>
<path class="y" d="M4297 1009l39-8 6-40 -39 4z"/>
<path fill="#000" d="M3127 1207l36-32 13-13 -36 32z"/>
<path class="y" d="M3882 1268l38 5 8-57 -38-4z"/>
<path class="y" d="M4005 1216l39-5 7-54 -39 4z"/>
<path fill="#990" d="M4684 1182l38 43 3-17 -38-43z"/>
<path fill="#dd0" d="M3334 1055l38-7 10-18 -37 7z"/>
<path class="y" d="M4213 1074l39-12 6-44 -39 8z"/>
<path class="y" d="M3920 1273l39 1 7-56 -38-2z"/>
<path class="y" d="M4128 1143l39-11 7-48 -39 8z"/>
<path class="y" d="M4336 1001l39-5 6-35 -39 0z"/>
<path fill="#770" d="M4833 1374l28 35 2-16 -29-35z"/>
<path fill="#aa0" d="M4647 1141l37 41 3-17 -37-41z"/>
<path class="y" d="M4044 1211l39-8 6-52 -38 6z"/>
<path class="y" d="M3372 1048l38 3 10-21 -38 0z"/>
<path class="y" d="M3720 1247l38 25 9-45 -39-21z"/>
<path class="y" d="M3758 1272l39 21 8-49 -38-17z"/>
<path class="y" d="M3681 1221l39 26 8-41 -38-23z"/>
<path fill="#330" d="M3248 1106l37-21 12-15 -37 21z"/>
<path class="y" d="M3642 1192l39 29 9-38 -39-25z"/>
<path class="y" d="M3959 1274l39-3 7-55 -39 2z"/>
<path class="y" d="M3797 1293l39 18 7-53 -38-14z"/>
<path fill="#cc0" d="M4609 1103l38 38 3-17 -38-40z"/>
<path class="y" d="M4252 1062l39-12 6-41 -39 9z"/>
<path class="y" d="M4375 996l40 1 5-32 -39-4z"/>
<path fill="#880" d="M4795 1328l38 46 1-16 -37-45z"/>
<path class="y" d="M3603 1162l39 30 9-34 -39-27z"/>
<path class="y" d="M3836 1311l38 13 8-56 -39-10z"/>
<path class="y" d="M3410 1051l38 10 10-21 -38-10z"/>
<path fill="#000" d="M3163 1175l37-29 12-14 -36 30z"/>
<path class="y" d="M4167 1132l39-13 7-45 -39 10z"/>
<path class="y" d="M3564 1132l39 30 9-31 -38-27z"/>
<path class="y" d="M3526 1104l38 28 10-28 -39-26z"/>
<path fill="#ee0" d="M4570 1069l39 34 3-19 -38-36z"/>
<path class="y" d="M4083 1203l39-11 6-49 -39 8z"/>
<path class="y" d="M3448 1061l39 19 10-24 -39-16z"/>
<path class="y" d="M4415 997l39 7 5-29 -39-10z"/>
<path class="y" d="M3487 1080l39 24 9-26 -38-22z"/>
<path class="y" d="M3874 1324l39 7 7-58 -38-5z"/>
<path fill="#880" d="M4757 1284l38 44 2-15 -37-45z"/>
<path class="y" d="M3998 1271l39-8 7-52 -39 5z"/>
<path class="y" d="M4532 1040l38 29 4-21 -38-31z"/>
<path class="y" d="M4454 1004l39 14 4-25 -38-18z"/>
<path class="y" d="M4493 1018l39 22 4-23 -39-24z"/>
<path class="y" d="M4291 1050l40-11 5-38 -39 8z"/>
<path fill="#660" d="M3285 1085l38-14 11-16 -37 15z"/>
<path class="y" d="M3913 1331l39-1 7-56 -39-1z"/>
<path class="y" d="M4206 1119l40-14 6-43 -39 12z"/>
<path fill="#990" d="M4720 1241l37 43 3-16 -38-43z"/>
<path class="y" d="M4122 1192l39-14 6-46 -39 11z"/>
<path class="y" d="M4037 1263l39-11 7-49 -39 8z"/>
<path fill="#000" d="M3200 1146l36-26 12-14 -36 26z"/>
<path class="y" d="M4331 1039l39-8 5-35 -39 5z"/>
<path class="y" d="M3952 1330l39-6 7-53 -39 3z"/>
<path fill="#aa0" d="M4682 1199l38 42 2-16 -38-43z"/>
<path fill="#bb0" d="M3323 1071l38-6 11-17 -38 7z"/>
<path class="y" d="M3789 1335l39 25 8-49 -39-18z"/>
<path class="y" d="M3750 1309l39 26 8-42 -39-21z"/>
<path class="y" d="M3711 1280l39 29 8-37 -38-25z"/>
<path class="y" d="M3828 1360l39 19 7-55 -38-13z"/>
<path class="y" d="M4246 1105l39-16 6-39 -39 12z"/>
<path class="y" d="M3672 1250l39 30 9-33 -39-26z"/>
<path class="y" d="M4161 1178l39-16 6-43 -39 13z"/>
<path class="y" d="M3867 1379l38 9 8-57 -39-7z"/>
<path fill="#bb0" d="M4643 1159l39 40 2-17 -37-41z"/>
<path class="y" d="M3633 1219l39 31 9-29 -39-29z"/>
<path fill="#770" d="M4831 1390l28 35 2-16 -28-35z"/>
<path class="y" d="M4370 1031l40-3 5-31 -40-1z"/>
<path class="y" d="M4076 1252l39-14 7-46 -39 11z"/>
<path fill="#ff0" d="M3361 1065l38 3 11-17 -38-3z"/>
<path class="y" d="M3991 1324l39-11 7-50 -39 8z"/>
<path class="y" d="M3594 1187l39 32 9-27 -39-30z"/>
<path fill="#cc0" d="M4605 1122l38 37 4-18 -38-38z"/>
<path class="y" d="M3555 1155l39 32 9-25 -39-30z"/>
<path fill="#110" d="M3236 1120l38-21 11-14 -37 21z"/>
<path class="y" d="M3905 1388l39-3 8-55 -39 1z"/>
<path class="y" d="M4410 1028l39 4 5-28 -39-7z"/>
<path fill="#880" d="M4793 1344l38 46 2-16 -38-46z"/>
<path class="y" d="M3399 1068l39 12 10-19 -38-10z"/>
<path class="y" d="M3516 1125l39 30 9-23 -38-28z"/>
<path class="y" d="M4285 1089l40-14 6-36 -40 11z"/>
<path fill="#ee0" d="M4566 1090l39 32 4-19 -39-34z"/>
<path class="y" d="M3438 1080l38 19 11-19 -39-19z"/>
<path class="y" d="M3476 1099l40 26 10-21 -39-24z"/>
<path class="y" d="M4449 1032l40 11 4-25 -39-14z"/>
<path class="y" d="M4200 1162l40-18 6-39 -40 14z"/>
<path class="y" d="M4528 1063l38 27 4-21 -38-29z"/>
<path class="y" d="M4115 1238l39-17 7-43 -39 14z"/>
<path class="y" d="M4489 1043l39 20 4-23 -39-22z"/>
<path class="y" d="M4030 1313l39-16 7-45 -39 11z"/>
<path fill="#880" d="M4755 1301l38 43 2-16 -38-44z"/>
<path class="y" d="M3944 1385l39-12 8-49 -39 6z"/>
<path fill="#440" d="M3274 1099l37-14 12-14 -38 14z"/>
<path class="y" d="M4325 1075l40-11 5-33 -39 8z"/>
<path fill="#990" d="M4717 1258l38 43 2-17 -37-43z"/>
<path class="y" d="M3820 1391l39 28 8-40 -39-19z"/>
<path class="y" d="M3859 1419l39 28 7-59 -38-9z"/>
<path class="y" d="M3781 1362l39 29 8-31 -39-25z"/>
<path class="y" d="M4240 1144l40-18 5-37 -39 16z"/>
<path class="y" d="M3741 1332l40 30 8-27 -39-26z"/>
<path class="y" d="M4154 1221l40-19 6-40 -39 16z"/>
<path class="y" d="M4069 1297l39-18 7-41 -39 14z"/>
<path class="y" d="M3983 1373l40-18 7-42 -39 11z"/>
<path class="y" d="M3702 1301l39 31 9-23 -39-29z"/>
<path fill="#aa0" d="M4679 1217l38 41 3-17 -38-42z"/>
<path class="y" d="M3898 1447l39-21 7-41 -39 3z"/>
<path fill="#880" d="M3311 1085l38-6 12-14 -38 6z"/>
<path class="y" d="M4365 1064l40-6 5-30 -40 3z"/>
<path class="y" d="M3663 1270l39 31 9-21 -39-30z"/>
<path class="y" d="M3624 1237l39 33 9-20 -39-31z"/>
<path fill="#bb0" d="M4640 1178l39 39 3-18 -39-40z"/>
<path fill="#770" d="M4829 1406l29 35 1-16 -28-35z"/>
<path class="y" d="M3584 1204l40 33 9-18 -39-32z"/>
<path fill="#bb0" d="M3349 1079l39 3 11-14 -38-3z"/>
<path class="y" d="M4280 1126l40-17 5-34 -40 14z"/>
<path class="y" d="M4405 1058l40 1 4-27 -39-4z"/>
<path class="y" d="M4194 1202l40-21 6-37 -40 18z"/>
<path class="y" d="M4108 1279l40-20 6-38 -39 17z"/>
<path class="y" d="M3545 1172l39 32 10-17 -39-32z"/>
<path fill="#cc0" d="M4602 1142l38 36 3-19 -38-37z"/>
<path class="y" d="M4023 1355l39-20 7-38 -39 16z"/>
<path class="y" d="M3937 1426l39-22 7-31 -39 12z"/>
<path fill="#ee0" d="M3388 1082l39 12 11-14 -39-12z"/>
<path class="y" d="M3505 1141l40 31 10-17 -39-30z"/>
<path fill="#880" d="M4791 1361l38 45 2-16 -38-46z"/>
<path class="y" d="M4445 1059l39 9 5-25 -40-11z"/>
<path fill="#ff0" d="M4563 1110l39 32 3-20 -39-32z"/>
<path class="y" d="M3466 1115l39 26 11-16 -40-26z"/>
<path class="y" d="M3427 1094l39 21 10-16 -38-19z"/>
<path class="y" d="M4484 1068l40 17 4-22 -39-20z"/>
<path class="y" d="M4524 1085l39 25 3-20 -38-27z"/>
<path class="y" d="M4320 1109l40-15 5-30 -40 11z"/>
<path fill="#880" d="M4753 1317l38 44 2-17 -38-43z"/>
<path class="y" d="M4234 1181l40-22 6-33 -40 18z"/>
<path class="y" d="M4148 1259l40-23 6-34 -40 19z"/>
<path class="y" d="M4062 1335l40-22 6-34 -39 18z"/>
<path class="y" d="M3976 1404l39-22 8-27 -40 18z"/>
<path fill="#990" d="M4714 1274l39 43 2-16 -38-43z"/>
<path class="y" d="M4360 1094l40-8 5-28 -40 6z"/>
<path fill="#aa0" d="M4676 1234l38 40 3-16 -38-41z"/>
<path class="y" d="M4274 1159l40-20 6-30 -40 17z"/>
<path class="y" d="M4188 1236l40-24 6-31 -40 21z"/>
<path class="y" d="M4102 1313l39-24 7-30 -40 20z"/>
<path class="y" d="M4400 1086l40-2 5-25 -40-1z"/>
<path fill="#bb0" d="M4637 1195l39 39 3-17 -39-39z"/>
<path class="y" d="M4015 1382l40-23 7-24 -39 20z"/>
<path fill="#880" d="M4827 1422l29 35 2-16 -29-35z"/>
<path fill="#cc0" d="M4598 1161l39 34 3-17 -38-36z"/>
<path class="y" d="M4440 1084l40 7 4-23 -39-9z"/>
<path fill="#ee0" d="M4559 1130l39 31 4-19 -39-32z"/>
<path class="y" d="M4480 1091l39 16 5-22 -40-17z"/>
<path fill="#880" d="M4789 1377l38 45 2-16 -38-45z"/>
<path class="y" d="M4519 1107l40 23 4-20 -39-25z"/>
<path class="y" d="M4314 1139l40-17 6-28 -40 15z"/>
<path class="y" d="M4228 1212l40-24 6-29 -40 22z"/>
<path class="y" d="M4141 1289l41-25 6-28 -40 23z"/>
<path fill="#dd0" d="M4055 1359l40-25 7-21 -40 22z"/>
<path fill="#880" d="M4750 1333l39 44 2-16 -38-44z"/>
<path class="y" d="M4354 1122l41-11 5-25 -40 8z"/>
<path fill="#990" d="M4712 1291l38 42 3-16 -39-43z"/>
<path class="y" d="M4268 1188l41-22 5-27 -40 20z"/>
<path fill="#aa0" d="M4673 1251l39 40 2-17 -38-40z"/>
<path class="y" d="M4182 1264l40-26 6-26 -40 24z"/>
<path fill="#bb0" d="M4095 1334l40-25 6-20 -39 24z"/>
<path class="y" d="M4395 1111l40-3 5-24 -40 2z"/>
<path fill="#bb0" d="M4634 1213l39 38 3-17 -39-39z"/>
<path class="y" d="M4435 1108l40 5 5-22 -40-7z"/>
<path fill="#880" d="M4825 1438l29 35 2-16 -29-35z"/>
<path fill="#cc0" d="M4595 1179l39 34 3-18 -39-34z"/>
<path class="y" d="M4309 1166l40-19 5-25 -40 17z"/>
<path class="y" d="M4475 1113l40 15 4-21 -39-16z"/>
<path fill="#ee0" d="M4555 1150l40 29 3-18 -39-31z"/>
<path class="y" d="M4515 1128l40 22 4-20 -40-23z"/>
<path fill="#880" d="M4787 1392l38 46 2-16 -38-45z"/>
<path fill="#ff0" d="M4222 1238l40-26 6-24 -40 24z"/>
<path fill="#990" d="M4135 1309l40-26 7-19 -41 25z"/>
<path fill="#880" d="M4748 1349l39 43 2-15 -39-44z"/>
<path class="y" d="M4349 1147l41-13 5-23 -41 11z"/>
<path fill="#990" d="M4709 1307l39 42 2-16 -38-42z"/>
<path fill="#ee0" d="M4262 1212l41-24 6-22 -41 22z"/>
<path fill="#880" d="M4175 1283l41-27 6-18 -40 26z"/>
<path class="y" d="M4390 1134l41-5 4-21 -40 3z"/>
<path fill="#aa0" d="M4670 1267l39 40 3-16 -39-40z"/>
<path fill="#aa0" d="M4631 1230l39 37 3-16 -39-38z"/>
<path class="y" d="M4431 1129l40 4 4-20 -40-5z"/>
<path fill="#cc0" d="M4591 1196l40 34 3-17 -39-34z"/>
<path fill="#880" d="M4823 1453l30 36 1-16 -29-35z"/>
<path fill="#ee0" d="M4303 1188l41-20 5-21 -40 19z"/>
<path class="y" d="M4471 1133l40 13 4-18 -40-15z"/>
<path fill="#dd0" d="M4551 1168l40 28 4-17 -40-29z"/>
<path class="y" d="M4511 1146l40 22 4-18 -40-22z"/>
<path fill="#880" d="M4216 1256l41-27 5-17 -40 26z"/>
<path fill="#880" d="M4785 1408l38 45 2-15 -38-46z"/>
<path fill="#ee0" d="M4344 1168l41-14 5-20 -41 13z"/>
<path fill="#880" d="M4746 1365l39 43 2-16 -39-43z"/>
<path fill="#990" d="M4706 1323l40 42 2-16 -39-42z"/>
<path fill="#880" d="M4257 1229l41-25 5-16 -41 24z"/>
<path class="y" d="M4385 1154l41-6 5-19 -41 5z"/>
<path fill="#990" d="M4667 1283l39 40 3-16 -39-40z"/>
<path fill="#aa0" d="M4627 1245l40 38 3-16 -39-37z"/>
<path class="y" d="M4426 1148l41 3 4-18 -40-4z"/>
<path fill="#880" d="M4298 1204l41-20 5-16 -41 20z"/>
<path fill="#bb0" d="M4588 1212l39 33 4-15 -40-34z"/>
<path fill="#770" d="M4822 1469l29 35 2-15 -30-36z"/>
<path fill="#ff0" d="M4467 1151l40 12 4-17 -40-13z"/>
<path fill="#cc0" d="M4548 1184l40 28 3-16 -40-28z"/>
<path fill="#dd0" d="M4507 1163l41 21 3-16 -40-22z"/>
<path fill="#880" d="M4782 1424l40 45 1-16 -38-45z"/>
<path fill="#aa0" d="M4339 1184l41-15 5-15 -41 14z"/>
<path fill="#880" d="M4743 1380l39 44 3-16 -39-43z"/>
<path fill="#880" d="M4704 1338l39 42 3-15 -40-42z"/>
<path fill="#bb0" d="M4380 1169l41-6 5-15 -41 6z"/>
<path fill="#990" d="M4664 1298l40 40 2-15 -39-40z"/>
<path fill="#cc0" d="M4421 1163l41 3 5-15 -41-3z"/>
<path fill="#990" d="M4624 1260l40 38 3-15 -40-38z"/>
<path fill="#aa0" d="M4584 1227l40 33 3-15 -39-33z"/>
<path fill="#cc0" d="M4462 1166l41 12 4-15 -40-12z"/>
<path fill="#bb0" d="M4544 1199l40 28 4-15 -40-28z"/>
<path fill="#bb0" d="M4503 1178l41 21 4-15 -41-21z"/>
</g>
<g transform="scale(.1)" stroke="#000" stroke-width="8" stroke-linejoin="round">
<path fill="#773" d="M3515 327l35 17 9-8 -35-17z"/>
<path fill="#773" d="M3481 302l34 25 9-8 -34-24z"/>
<path fill="#663" d="M3550 344l34 11 9-9 -34-10z"/>
<path fill="#884" d="M3446 273l35 29 9-7 -35-29z"/>
<path fill="#884" d="M3411 240l35 33 9-7 -35-32z"/>
<path fill="#442" d="M3584 355l35 1 8-8 -34-2z"/>
<path fill="#884" d="M3376 205l35 35 9-6 -34-36z"/>
<path fill="#221" d="M3619 356l34-6 8-9 -34 7z"/>
<path fill="#884" d="M3340 168l36 37 10-7 -35-37z"/>
<path fill="#884" d="M3305 128l35 40 11-7 -36-39z"/>
<path fill="#000" d="M3653 350l34-13 8-9 -34 13z"/>
<path fill="#884" d="M3270 88l35 40 10-6 -35-40z"/>
<path fill="#994" d="M3506 336l35 19 9-11 -35-17z"/>
<path fill="#994" d="M3471 311l35 25 9-9 -34-25z"/>
<path fill="#994" d="M3541 355l35 11 8-11 -34-11z"/>
<path fill="#994" d="M3436 282l35 29 10-9 -35-29z"/>
<path fill="#000" d="M3687 337l34-20 8-9 -34 20z"/>
<path fill="#884" d="M3576 366l34 2 9-12 -35-1z"/>
<path fill="#884" d="M3401 248l35 34 10-9 -35-33z"/>
<path fill="#884" d="M3366 212l35 36 10-8 -35-35z"/>
<path fill="#663" d="M3610 368l34-5 9-13 -34 6z"/>
<path fill="#000" d="M3721 317l35-23 7-10 -34 24z"/>
<path fill="#884" d="M3330 174l36 38 10-7 -36-37z"/>
<path fill="#884" d="M3295 135l35 39 10-6 -35-40z"/>
<path fill="#552" d="M3644 363l35-13 8-13 -34 13z"/>
<path fill="#884" d="M3259 94l36 41 10-7 -35-40z"/>
<path fill="#000" d="M3756 294l34-25 8-11 -35 26z"/>
<path fill="#bb5" d="M3497 347l35 20 9-12 -35-19z"/>
<path fill="#aa5" d="M3462 322l35 25 9-11 -35-25z"/>
<path fill="#bb5" d="M3532 367l35 12 9-13 -35-11z"/>
<path fill="#442" d="M3679 350l34-18 8-15 -34 20z"/>
<path fill="#aa5" d="M3427 291l35 31 9-11 -35-29z"/>
<path fill="#bb5" d="M3567 379l35 4 8-15 -34-2z"/>
<path fill="#994" d="M3391 257l36 34 9-9 -35-34z"/>
<path fill="#994" d="M3356 220l35 37 10-9 -35-36z"/>
<path fill="#bb5" d="M3602 383l34-4 8-16 -34 5z"/>
<path fill="#000" d="M3790 269l35-26 7-11 -34 26z"/>
<path fill="#442" d="M3713 332l35-22 8-16 -35 23z"/>
<path fill="#994" d="M3320 182l36 38 10-8 -36-38z"/>
<path fill="#aa5" d="M3636 379l35-11 8-18 -35 13z"/>
<path fill="#994" d="M3284 142l36 40 10-8 -35-39z"/>
<path fill="#000" d="M3825 243l35-25 7-12 -35 26z"/>
<path fill="#552" d="M3748 310l35-24 7-17 -34 25z"/>
<path fill="#884" d="M3248 100l36 42 11-7 -36-41z"/>
<path fill="#dd6" d="M3488 360l35 21 9-14 -35-20z"/>
<path fill="#cc5" d="M3453 333l35 27 9-13 -35-25z"/>
<path fill="#ee6" d="M3523 381l35 14 9-16 -35-12z"/>
<path fill="#994" d="M3671 368l34-16 8-20 -34 18z"/>
<path fill="#bb5" d="M3417 301l36 32 9-11 -35-31z"/>
<path fill="#ee7" d="M3558 395l35 5 9-17 -35-4z"/>
<path fill="#aa5" d="M3382 266l35 35 10-10 -36-34z"/>
<path fill="#ee7" d="M3593 400l35-2 8-19 -34 4z"/>
<path fill="#111" d="M3860 218l35-24 7-13 -35 25z"/>
<path fill="#773" d="M3783 286l34-23 8-20 -35 26z"/>
<path fill="#aa5" d="M3346 229l36 37 9-9 -35-37z"/>
<path fill="#aa5" d="M3705 352l35-20 8-22 -35 22z"/>
<path fill="#994" d="M3310 190l36 39 10-9 -36-38z"/>
<path fill="#ee7" d="M3628 398l35-9 8-21 -35 11z"/>
<path fill="#994" d="M3274 149l36 41 10-8 -36-40z"/>
<path fill="#331" d="M3895 194l35-23 7-14 -35 24z"/>
<path fill="#994" d="M3817 263l35-23 8-22 -35 25z"/>
<path fill="#bb5" d="M3740 332l35-22 8-24 -35 24z"/>
<path fill="#ee7" d="M3663 389l34-14 8-23 -34 16z"/>
<path fill="#ee7" d="M3479 374l35 23 9-16 -35-21z"/>
<path fill="#994" d="M3238 107l36 42 10-7 -36-42z"/>
<path class="p" d="M3514 397l35 15 9-17 -35-14z"/>
<path fill="#dd6" d="M3443 346l36 28 9-14 -35-27z"/>
<path class="p" d="M3549 412l35 8 9-20 -35-5z"/>
<path fill="#cc5" d="M3407 313l36 33 10-13 -36-32z"/>
<path fill="#663" d="M3930 171l35-21 7-17 -35 24z"/>
<path fill="#bb5" d="M3372 276l35 37 10-12 -35-35z"/>
<path class="p" d="M3584 420l35 0 9-22 -35 2z"/>
<path fill="#cc6" d="M3852 240l36-21 7-25 -35 24z"/>
<path fill="#ee7" d="M3775 310l35-21 7-26 -34 23z"/>
<path class="p" d="M3697 375l35-17 8-26 -35 20z"/>
<path fill="#aa5" d="M3336 238l36 38 10-10 -36-37z"/>
<path class="p" d="M3619 420l35-6 9-25 -35 9z"/>
<path fill="#aa5" d="M3299 198l37 40 10-9 -36-39z"/>
<path fill="#aa5" d="M3965 150l36-18 6-22 -35 23z"/>
<path class="p" d="M3888 219l35-19 7-29 -35 23z"/>
<path class="p" d="M3810 289l35-19 7-30 -35 23z"/>
<path class="p" d="M3732 358l35-18 8-30 -35 22z"/>
<path fill="#994" d="M3263 157l36 41 11-8 -36-41z"/>
<path class="p" d="M3654 414l35-12 8-27 -34 14z"/>
<path class="p" d="M3469 389l36 25 9-17 -35-23z"/>
<path class="p" d="M3505 414l36 17 8-19 -35-15z"/>
<path fill="#663" d="M4463 380l36 18 3-10 -35-18z"/>
<path fill="#663" d="M4427 356l36 24 4-10 -36-24z"/>
<path fill="#dd6" d="M3434 359l35 30 10-15 -36-28z"/>
<path class="p" d="M3541 431l35 10 8-21 -35-8z"/>
<path fill="#994" d="M3227 114l36 43 11-8 -36-42z"/>
<path fill="#663" d="M4392 329l35 27 4-10 -35-28z"/>
<path fill="#663" d="M4499 398l35 10 4-9 -36-11z"/>
<path class="p" d="M4001 132l36-14 6-31 -36 23z"/>
<path class="p" d="M3923 200l36-16 6-34 -35 21z"/>
<path fill="#cc6" d="M3398 324l36 35 9-13 -36-33z"/>
<path fill="#773" d="M4357 299l35 30 4-11 -35-30z"/>
<path class="p" d="M3845 270l36-18 7-33 -36 21z"/>
<path class="p" d="M3767 340l36-18 7-33 -35 21z"/>
<path class="p" d="M3576 441l35 3 8-24 -35 0z"/>
<path class="p" d="M3689 402l36-14 7-30 -35 17z"/>
<path fill="#552" d="M4534 408l37 2 3-9 -36-2z"/>
<path fill="#773" d="M4321 269l36 30 4-11 -35-30z"/>
<path fill="#bb5" d="M3362 287l36 37 9-11 -35-37z"/>
<path fill="#884" d="M4286 240l35 29 5-11 -35-30z"/>
<path fill="#994" d="M4250 212l36 28 5-12 -35-29z"/>
<path class="p" d="M3611 444l35-3 8-27 -35 6z"/>
<path fill="#442" d="M4571 410l36-6 3-9 -36 6z"/>
<path class="p" d="M4037 118l35-5 7-48 -36 22z"/>
<path fill="#bb5" d="M3325 248l37 39 10-11 -36-38z"/>
<path fill="#bb5" d="M4215 186l35 26 6-13 -36-28z"/>
<path class="p" d="M3959 184l35-12 7-40 -36 18z"/>
<path class="p" d="M3881 252l35-15 7-37 -35 19z"/>
<path class="p" d="M3803 322l35-17 7-35 -35 19z"/>
<path fill="#dd6" d="M4179 161l36 25 5-15 -35-28z"/>
<path class="p" d="M3725 388l35-15 7-33 -35 18z"/>
<path class="p" d="M4144 139l35 22 6-18 -35-26z"/>
<path class="p" d="M4072 113l36 9 6-31 -35-26z"/>
<path class="p" d="M4108 122l36 17 6-22 -36-26z"/>
<path fill="#aa5" d="M3289 207l36 41 11-10 -37-40z"/>
<path class="p" d="M3646 441l35-9 8-30 -35 12z"/>
<path fill="#221" d="M4607 404l37-15 3-8 -37 14z"/>
<path class="p" d="M3994 172l36-8 7-46 -36 14z"/>
<path fill="#aa5" d="M3252 165l37 42 10-9 -36-41z"/>
<path class="p" d="M3916 237l36-12 7-41 -36 16z"/>
<path class="p" d="M3496 431l36 20 9-20 -36-17z"/>
<path class="p" d="M3838 305l36-14 7-39 -36 18z"/>
<path class="p" d="M3460 404l36 27 9-17 -36-25z"/>
<path class="p" d="M3760 373l35-15 8-36 -36 18z"/>
<path class="p" d="M3532 451l35 13 9-23 -35-10z"/>
<path fill="#bb5" d="M4423 371l36 23 4-14 -36-24z"/>
<path fill="#aa5" d="M4459 394l36 17 4-13 -36-18z"/>
<path fill="#ee6" d="M3424 372l36 32 9-15 -35-30z"/>
<path class="p" d="M3681 432l36-11 8-33 -36 14z"/>
<path fill="#cc6" d="M4388 345l35 26 4-15 -35-27z"/>
<path fill="#aa5" d="M4495 411l36 9 3-12 -35-10z"/>
<path fill="#994" d="M3216 121l36 44 11-8 -36-43z"/>
<path class="p" d="M3567 464l36 6 8-26 -35-3z"/>
<path class="p" d="M4030 164l36-2 6-49 -35 5z"/>
<path fill="#110" d="M4644 389l38-21 2-8 -37 21z"/>
<path fill="#dd6" d="M4352 317l36 28 4-16 -35-30z"/>
<path fill="#cc6" d="M3388 336l36 36 10-13 -36-35z"/>
<path fill="#ff7" d="M4316 289l36 28 5-18 -36-30z"/>
<path class="p" d="M3952 225l36-8 6-45 -35 12z"/>
<path fill="#884" d="M4531 420l36 2 4-12 -37-2z"/>
<path class="p" d="M3874 291l35-12 7-42 -35 15z"/>
<path class="p" d="M3603 470l35 0 8-29 -35 3z"/>
<path class="p" d="M4281 263l35 26 5-20 -35-29z"/>
<path fill="#bb5" d="M3351 298l37 38 10-12 -36-37z"/>
<path class="p" d="M4066 162l36 5 6-45 -36-9z"/>
<path class="p" d="M3795 358l36-14 7-39 -35 17z"/>
<path class="p" d="M4245 238l36 25 5-23 -36-28z"/>
<path class="p" d="M3717 421l35-12 8-36 -35 15z"/>
<path class="p" d="M4102 167l36 12 6-40 -36-17z"/>
<path class="p" d="M4209 215l36 23 5-26 -35-26z"/>
<path class="p" d="M4174 195l35 20 6-29 -36-25z"/>
<path class="p" d="M4138 179l36 16 5-34 -35-22z"/>
<path fill="#663" d="M4567 422l37-7 3-11 -36 6z"/>
<path fill="#bb5" d="M3315 257l36 41 11-11 -37-39z"/>
<path class="p" d="M3988 217l35-5 7-48 -36 8z"/>
<path class="p" d="M3638 470l35-5 8-33 -35 9z"/>
<path fill="#000" d="M4682 368l38-26 2-8 -38 26z"/>
<path class="p" d="M3909 279l36-9 7-45 -36 12z"/>
<path class="p" d="M3831 344l35-11 8-42 -36 14z"/>
<path fill="#aa5" d="M3278 216l37 41 10-9 -36-41z"/>
<path class="p" d="M3752 409l36-12 7-39 -35 15z"/>
<path class="p" d="M4023 212l36 0 7-50 -36 2z"/>
<path fill="#442" d="M4604 415l37-15 3-11 -37 15z"/>
<path class="p" d="M3673 465l36-8 8-36 -36 11z"/>
<path class="p" d="M3487 449l36 23 9-21 -36-20z"/>
<path class="p" d="M3523 472l35 16 9-24 -35-13z"/>
<path class="p" d="M3450 420l37 29 9-18 -36-27z"/>
<path class="p" d="M3945 270l36-6 7-47 -36 8z"/>
<path fill="#aa5" d="M3241 173l37 43 11-9 -37-42z"/>
<path class="p" d="M4059 212l36 4 7-49 -36-5z"/>
<path class="p" d="M4419 392l36 20 4-18 -36-23z"/>
<path class="p" d="M3558 488l36 9 9-27 -36-6z"/>
<path fill="#ff7" d="M4455 412l36 16 4-17 -36-17z"/>
<path class="p" d="M3866 333l36-10 7-44 -35 12z"/>
<path fill="#ee7" d="M3414 386l36 34 10-16 -36-32z"/>
<path class="p" d="M4383 367l36 25 4-21 -35-26z"/>
<path class="p" d="M4347 342l36 25 5-22 -36-28z"/>
<path class="p" d="M3788 397l35-11 8-42 -36 14z"/>
<path fill="#000" d="M4720 342l38-30 2-7 -38 29z"/>
<path fill="#dd6" d="M4491 428l36 8 4-16 -36-9z"/>
<path class="p" d="M4095 216l37 8 6-45 -36-12z"/>
<path class="p" d="M4311 317l36 25 5-25 -36-28z"/>
<path fill="#aa5" d="M3205 129l36 44 11-8 -36-44z"/>
<path class="p" d="M3594 497l36 4 8-31 -35 0z"/>
<path class="p" d="M3709 457l35-9 8-39 -35 12z"/>
<path fill="#dd6" d="M3378 348l36 38 10-14 -36-36z"/>
<path class="p" d="M4132 224l36 12 6-41 -36-16z"/>
<path class="p" d="M3981 264l36-3 6-49 -35 5z"/>
<path class="p" d="M4275 293l36 24 5-28 -35-26z"/>
<path fill="#331" d="M4641 400l38-22 3-10 -38 21z"/>
<path class="p" d="M4240 271l35 22 6-30 -36-25z"/>
<path class="p" d="M4168 236l36 16 5-37 -35-20z"/>
<path class="p" d="M4204 252l36 19 5-33 -36-23z"/>
<path fill="#bb5" d="M4527 436l37 0 3-14 -36-2z"/>
<path class="p" d="M3902 323l36-6 7-47 -36 9z"/>
<path fill="#cc5" d="M3341 308l37 40 10-12 -37-38z"/>
<path class="p" d="M3630 501l35-1 8-35 -35 5z"/>
<path class="p" d="M3823 386l36-9 7-44 -35 11z"/>
<path class="p" d="M4017 261l36 0 6-49 -36 0z"/>
<path class="p" d="M3744 448l36-10 8-41 -36 12z"/>
<path fill="#994" d="M4564 436l37-8 3-13 -37 7z"/>
<path fill="#bb5" d="M3304 267l37 41 10-10 -36-41z"/>
<path class="p" d="M3938 317l36-5 7-48 -36 6z"/>
<path class="p" d="M4053 261l36 4 6-49 -36-4z"/>
<path fill="#000" d="M4758 312l38-33 2-7 -38 33z"/>
<path class="p" d="M3665 500l36-5 8-38 -36 8z"/>
<path fill="#111" d="M4679 378l38-27 3-9 -38 26z"/>
<path class="p" d="M3859 377l36-7 7-47 -36 10z"/>
<path fill="#aa5" d="M3267 224l37 43 11-10 -37-41z"/>
<path class="p" d="M4089 265l36 7 7-48 -37-8z"/>
<path class="p" d="M3780 438l36-8 7-44 -35 11z"/>
<path fill="#663" d="M4601 428l37-16 3-12 -37 15z"/>
<path class="p" d="M3513 492l37 20 8-24 -35-16z"/>
<path class="p" d="M3477 466l36 26 10-20 -36-23z"/>
<path class="p" d="M3974 312l36-1 7-50 -36 3z"/>
<path class="p" d="M4125 272l36 10 7-46 -36-12z"/>
<path class="p" d="M3550 512l35 13 9-28 -36-9z"/>
<path class="p" d="M3441 435l36 31 10-17 -37-29z"/>
<path class="p" d="M4414 416l37 18 4-22 -36-20z"/>
<path class="p" d="M3701 495l36-6 7-41 -35 9z"/>
<path class="p" d="M4378 394l36 22 5-24 -36-25z"/>
<path class="p" d="M4161 282l37 12 6-42 -36-16z"/>
<path class="p" d="M4342 371l36 23 5-27 -36-25z"/>
<path class="p" d="M4451 434l36 14 4-20 -36-16z"/>
<path fill="#aa5" d="M3230 181l37 43 11-8 -37-43z"/>
<path class="p" d="M3895 370l36-5 7-48 -36 6z"/>
<path class="p" d="M4306 349l36 22 5-29 -36-25z"/>
<path class="p" d="M4198 294l36 16 6-39 -36-19z"/>
<path class="p" d="M4270 329l36 20 5-32 -36-24z"/>
<path class="p" d="M3585 525l36 8 9-32 -36-4z"/>
<path class="p" d="M4234 310l36 19 5-36 -35-22z"/>
<path fill="#ee6" d="M3404 399l37 36 9-15 -36-34z"/>
<path class="p" d="M4010 311l36 0 7-50 -36 0z"/>
<path class="p" d="M4487 448l36 6 4-18 -36-8z"/>
<path class="p" d="M3816 430l36-7 7-46 -36 9z"/>
<path fill="#110" d="M4717 351l39-30 2-9 -38 30z"/>
<path fill="#000" d="M4796 279l39-35 2-7 -39 35z"/>
<path fill="#cc6" d="M3368 360l36 39 10-13 -36-38z"/>
<path class="p" d="M3621 533l36 3 8-36 -35 1z"/>
<path fill="#aa5" d="M3193 136l37 45 11-8 -36-44z"/>
<path class="p" d="M3737 489l36-6 7-45 -36 10z"/>
<path fill="#442" d="M4638 412l38-23 3-11 -38 22z"/>
<path fill="#ee7" d="M4523 454l37-2 4-16 -37 0z"/>
<path class="p" d="M3931 365l36-3 7-50 -36 5z"/>
<path class="p" d="M4046 311l37 3 6-49 -36-4z"/>
<path fill="#cc5" d="M3331 319l37 41 10-12 -37-40z"/>
<path class="p" d="M3852 423l36-5 7-48 -36 7z"/>
<path class="p" d="M4083 314l36 6 6-48 -36-7z"/>
<path class="p" d="M3657 536l36-1 8-40 -36 5z"/>
<path class="p" d="M3967 362l37-1 6-50 -36 1z"/>
<path class="p" d="M3773 483l36-6 7-47 -36 8z"/>
<path fill="#bb5" d="M4560 452l38-9 3-15 -37 8z"/>
<path class="p" d="M4119 320l36 9 6-47 -36-10z"/>
<path fill="#bb5" d="M3294 276l37 43 10-11 -37-41z"/>
<path class="p" d="M4155 329l37 10 6-45 -37-12z"/>
<path class="p" d="M3888 418l36-3 7-50 -36 5z"/>
<path class="p" d="M3693 535l36-2 8-44 -36 6z"/>
<path fill="#000" d="M4756 321l38-34 2-8 -38 33z"/>
<path fill="#221" d="M4676 389l39-28 2-10 -38 27z"/>
<path class="p" d="M4004 361l36 1 6-51 -36 0z"/>
<path class="p" d="M4192 339l36 14 6-43 -36-16z"/>
<path fill="#000" d="M4835 244l39-37 2-7 -39 37z"/>
<path class="p" d="M3504 512l37 23 9-23 -37-20z"/>
<path class="p" d="M4228 353l36 15 6-39 -36-19z"/>
<path class="p" d="M3809 477l36-5 7-49 -36 7z"/>
<path class="p" d="M3541 535l36 17 8-27 -35-13z"/>
<path class="p" d="M4264 368l37 18 5-37 -36-20z"/>
<path fill="#aa5" d="M3256 233l38 43 10-9 -37-43z"/>
<path class="p" d="M4373 425l37 19 4-28 -36-22z"/>
<path class="p" d="M4337 405l36 20 5-31 -36-23z"/>
<path class="p" d="M3468 483l36 29 9-20 -36-26z"/>
<path class="p" d="M4301 386l36 19 5-34 -36-22z"/>
<path class="p" d="M4410 444l36 16 5-26 -37-18z"/>
<path fill="#884" d="M4598 443l37-18 3-13 -37 16z"/>
<path class="p" d="M3577 552l36 13 8-32 -36-8z"/>
<path class="p" d="M4040 362l36 3 7-51 -37-3z"/>
<path class="p" d="M4446 460l37 10 4-22 -36-14z"/>
<path class="p" d="M3924 415l36-2 7-51 -36 3z"/>
<path fill="#ff7" d="M3431 449l37 34 9-17 -36-31z"/>
<path class="p" d="M3729 533l36-4 8-46 -36 6z"/>
<path class="p" d="M3613 565l36 8 8-37 -36-3z"/>
<path class="p" d="M4483 470l37 4 3-20 -36-6z"/>
<path fill="#aa5" d="M3219 189l37 44 11-9 -37-43z"/>
<path fill="#dd6" d="M3394 412l37 37 10-14 -37-36z"/>
<path class="p" d="M3845 472l36-3 7-51 -36 5z"/>
<path class="p" d="M4076 365l37 5 6-50 -36-6z"/>
<path class="p" d="M3960 413l37 0 7-52 -37 1z"/>
<path class="p" d="M3649 573l36 4 8-42 -36 1z"/>
<path class="p" d="M3765 529l36-3 8-49 -36 6z"/>
<path class="p" d="M4113 370l36 7 6-48 -36-9z"/>
<path fill="#111" d="M4715 361l38-31 3-9 -39 30z"/>
<path class="p" d="M4520 474l37-3 3-19 -37 2z"/>
<path fill="#cc6" d="M3357 371l37 41 10-13 -36-39z"/>
<path fill="#000" d="M4794 287l40-35 1-8 -39 35z"/>
<path fill="#552" d="M4635 425l39-24 2-12 -38 23z"/>
<path fill="#aa5" d="M3182 144l37 45 11-8 -37-45z"/>
<path class="p" d="M3881 469l36-3 7-51 -36 3z"/>
<path class="p" d="M4149 377l37 9 6-47 -37-10z"/>
<path fill="#000" d="M4874 207l40-39 1-6 -39 38z"/>
<path class="p" d="M3997 413l36 1 7-52 -36-1z"/>
<path class="p" d="M3685 577l36 1 8-45 -36 2z"/>
<path fill="#bb5" d="M3320 329l37 42 11-11 -37-41z"/>
<path class="p" d="M4186 386l36 11 6-44 -36-14z"/>
<path class="p" d="M3801 526l36-3 8-51 -36 5z"/>
<path fill="#cc6" d="M4557 471l37-12 4-16 -38 9z"/>
<path class="p" d="M4222 397l37 14 5-43 -36-15z"/>
<path class="p" d="M4033 414l37 3 6-52 -36-3z"/>
<path class="p" d="M3917 466l37-1 6-52 -36 2z"/>
<path class="p" d="M4259 411l36 15 6-40 -37-18z"/>
<path class="p" d="M4295 426l37 16 5-37 -36-19z"/>
<path class="p" d="M4332 442l36 17 5-34 -36-20z"/>
<path class="p" d="M3721 578l36 0 8-49 -36 4z"/>
<path fill="#bb5" d="M3283 286l37 43 11-10 -37-43z"/>
<path class="p" d="M4368 459l37 16 5-31 -37-19z"/>
<path class="p" d="M3837 523l37-2 7-52 -36 3z"/>
<path class="p" d="M4070 417l36 4 7-51 -37-5z"/>
<path class="p" d="M4405 475l37 13 4-28 -36-16z"/>
<path class="p" d="M3531 556l37 21 9-25 -36-17z"/>
<path class="p" d="M3495 529l36 27 10-21 -37-23z"/>
<path fill="#332" d="M4674 401l38-28 3-12 -39 28z"/>
<path fill="#110" d="M4753 330l39-34 2-9 -38 34z"/>
<path class="p" d="M3954 465l36 1 7-53 -37 0z"/>
<path class="p" d="M3568 577l36 18 9-30 -36-13z"/>
<path class="p" d="M3458 498l37 31 9-17 -36-29z"/>
<path class="p" d="M4442 488l36 7 5-25 -37-10z"/>
<path fill="#000" d="M4834 252l39-38 1-7 -39 37z"/>
<path class="p" d="M3604 595l37 13 8-35 -36-8z"/>
<path class="p" d="M4106 421l37 6 6-50 -36-7z"/>
<path fill="#994" d="M4594 459l38-19 3-15 -37 18z"/>
<path class="p" d="M3757 578l37-1 7-51 -36 3z"/>
<path fill="#000" d="M4914 168l30-31 1-6 -30 31z"/>
<path fill="#aa5" d="M3245 242l38 44 11-10 -38-43z"/>
<path fill="#ee6" d="M3421 462l37 36 10-15 -37-34z"/>
<path class="p" d="M3874 521l36-1 7-54 -36 3z"/>
<path class="p" d="M4478 495l38 2 4-23 -37-4z"/>
<path class="p" d="M3990 466l37 1 6-53 -36-1z"/>
<path class="p" d="M3641 608l36 9 8-40 -36-4z"/>
<path class="p" d="M4143 427l37 8 6-49 -37-9z"/>
<path fill="#cc6" d="M3384 423l37 39 10-13 -37-37z"/>
<path class="p" d="M3794 577l36-1 7-53 -36 3z"/>
<path fill="#aa5" d="M3208 197l37 45 11-9 -37-44z"/>
<path class="p" d="M4180 435l36 10 6-48 -36-11z"/>
<path class="p" d="M3677 617l36 6 8-45 -36-1z"/>
<path class="p" d="M4027 467l36 3 7-53 -37-3z"/>
<path class="p" d="M3910 520l37 0 7-55 -37 1z"/>
<path class="p" d="M4516 497l37-6 4-20 -37 3z"/>
<path class="p" d="M4216 445l37 11 6-45 -37-14z"/>
<path fill="#221" d="M4712 373l39-33 2-10 -38 31z"/>
<path fill="#bb5" d="M3347 382l37 41 10-11 -37-41z"/>
<path class="p" d="M4253 456l37 12 5-42 -36-15z"/>
<path fill="#663" d="M4632 440l39-25 3-14 -39 24z"/>
<path fill="#000" d="M4792 296l40-36 2-8 -40 35z"/>
<path class="p" d="M3713 623l37 3 7-48 -36 0z"/>
<path class="p" d="M3830 576l36-1 8-54 -37 2z"/>
<path class="p" d="M4063 470l37 4 6-53 -36-4z"/>
<path fill="#aa5" d="M3170 151l38 46 11-8 -37-45z"/>
<path class="p" d="M4290 468l36 14 6-40 -37-16z"/>
<path class="p" d="M3947 520l36 0 7-54 -36-1z"/>
<path fill="#000" d="M4873 214l40-39 1-7 -40 39z"/>
<path class="p" d="M4326 482l37 14 5-37 -36-17z"/>
<path fill="#bb5" d="M3309 339l38 43 10-11 -37-42z"/>
<path class="p" d="M4363 496l37 12 5-33 -37-16z"/>
<path fill="#dd6" d="M4553 491l38-14 3-18 -37 12z"/>
<path class="p" d="M4100 474l37 5 6-52 -37-6z"/>
<path class="p" d="M3750 626l36 2 8-51 -37 1z"/>
<path class="p" d="M3866 575l37 0 7-55 -36 1z"/>
<path class="p" d="M4400 508l37 10 5-30 -37-13z"/>
<path class="p" d="M3983 520l37 2 7-55 -37-1z"/>
<path class="p" d="M4137 479l36 7 7-51 -37-8z"/>
<path class="p" d="M3559 598l37 21 8-24 -36-18z"/>
<path class="p" d="M3522 573l37 25 9-21 -37-21z"/>
<path class="p" d="M4437 518l37 4 4-27 -36-7z"/>
<path fill="#bb5" d="M3272 294l37 45 11-10 -37-43z"/>
<path class="p" d="M3596 619l36 19 9-30 -37-13z"/>
<path class="p" d="M3485 544l37 29 9-17 -36-27z"/>
<path class="p" d="M3786 628l37 1 7-53 -36 1z"/>
<path class="p" d="M4020 522l37 3 6-55 -36-3z"/>
<path class="p" d="M3903 575l37 0 7-55 -37 0z"/>
<path class="p" d="M4173 486l37 8 6-49 -36-10z"/>
<path class="p" d="M3632 638l37 15 8-36 -36-9z"/>
<path fill="#442" d="M4671 415l39-30 2-12 -38 28z"/>
<path fill="#111" d="M4751 340l39-34 2-10 -39 34z"/>
<path fill="#dd6" d="M3448 511l37 33 10-15 -37-31z"/>
<path fill="#994" d="M4591 477l38-21 3-16 -38 19z"/>
<path class="p" d="M4474 522l38-1 4-24 -38-2z"/>
<path class="p" d="M3669 653l36 12 8-42 -36-6z"/>
<path fill="#000" d="M4832 260l40-38 1-8 -39 38z"/>
<path class="p" d="M4210 494l37 9 6-47 -37-11z"/>
<path fill="#aa5" d="M3234 250l38 44 11-8 -38-44z"/>
<path fill="#000" d="M4913 175l30-31 1-7 -30 31z"/>
<path fill="#cc6" d="M3411 474l37 37 10-13 -37-36z"/>
<path class="p" d="M4057 525l36 4 7-55 -37-4z"/>
<path class="p" d="M3823 629l36 1 7-55 -36 1z"/>
<path class="p" d="M3940 575l36 2 7-57 -36 0z"/>
<path class="p" d="M4247 503l37 10 6-45 -37-12z"/>
<path class="p" d="M3705 665l37 8 8-47 -37-3z"/>
<path class="p" d="M4284 513l37 11 5-42 -36-14z"/>
<path class="p" d="M4093 529l37 4 7-54 -37-5z"/>
<path fill="#bb5" d="M3374 434l37 40 10-12 -37-39z"/>
<path class="p" d="M4512 521l37-9 4-21 -37 6z"/>
<path class="p" d="M3859 630l37 1 7-56 -37 0z"/>
<path fill="#aa5" d="M3196 204l38 46 11-8 -37-45z"/>
<path class="p" d="M3976 577l37 2 7-57 -37-2z"/>
<path class="p" d="M4321 524l37 11 5-39 -37-14z"/>
<path class="p" d="M3742 673l36 5 8-50 -36-2z"/>
<path class="p" d="M4130 533l37 6 6-53 -36-7z"/>
<path class="p" d="M4358 535l37 9 5-36 -37-12z"/>
<path fill="#221" d="M4710 385l39-34 2-11 -39 33z"/>
<path fill="#663" d="M4629 456l39-27 3-14 -39 25z"/>
<path fill="#bb5" d="M3336 391l38 43 10-11 -37-41z"/>
<path class="p" d="M4013 579l37 2 7-56 -37-3z"/>
<path fill="#000" d="M4790 306l40-37 2-9 -40 36z"/>
<path class="p" d="M3896 631l37 1 7-57 -37 0z"/>
<path class="p" d="M3778 678l37 4 8-53 -37-1z"/>
<path class="p" d="M4395 544l37 5 5-31 -37-10z"/>
<path fill="#aa5" d="M3159 158l37 46 12-7 -38-46z"/>
<path class="p" d="M4167 539l37 6 6-51 -37-8z"/>
<path fill="#dd6" d="M4549 512l38-17 4-18 -38 14z"/>
<path fill="#000" d="M4872 222l40-40 1-7 -40 39z"/>
<path fill="#aa5" d="M3298 347l38 44 11-9 -38-43z"/>
<path class="p" d="M4050 581l37 4 6-56 -36-4z"/>
<path class="p" d="M4204 545l37 8 6-50 -37-9z"/>
<path class="p" d="M4432 549l38 1 4-28 -37-4z"/>
<path class="p" d="M3933 632l36 2 7-57 -36-2z"/>
<path class="p" d="M3815 682l37 2 7-54 -36-1z"/>
<path class="p" d="M3586 634l37 21 9-17 -36-19z"/>
<path fill="#dd6" d="M3550 611l36 23 10-15 -37-21z"/>
<path class="p" d="M4241 553l37 8 6-48 -37-10z"/>
<path class="p" d="M3623 655l37 19 9-21 -37-15z"/>
<path fill="#cc6" d="M3513 584l37 27 9-13 -37-25z"/>
<path class="p" d="M4087 585l37 4 6-56 -37-4z"/>
<path class="p" d="M3660 674l37 17 8-26 -36-12z"/>
<path fill="#bb5" d="M3475 555l38 29 9-11 -37-29z"/>
<path fill="#aa5" d="M3261 303l37 44 11-8 -37-45z"/>
<path class="p" d="M3969 634l37 2 7-57 -37-2z"/>
<path class="p" d="M4470 550l37-5 5-24 -38 1z"/>
<path class="p" d="M3852 684l37 2 7-55 -37-1z"/>
<path class="p" d="M4278 561l37 8 6-45 -37-11z"/>
<path fill="#442" d="M4668 429l39-32 3-12 -39 30z"/>
<path class="p" d="M3697 691l37 14 8-32 -37-8z"/>
<path fill="#994" d="M4587 495l39-23 3-16 -38 21z"/>
<path fill="#111" d="M4749 351l39-36 2-9 -39 34z"/>
<path fill="#bb5" d="M3438 521l37 34 10-11 -37-33z"/>
<path class="p" d="M4124 589l37 4 6-54 -37-6z"/>
<path class="p" d="M4315 569l38 7 5-41 -37-11z"/>
<path fill="#000" d="M4830 269l40-39 2-8 -40 38z"/>
<path class="p" d="M4006 636l37 2 7-57 -37-2z"/>
<path class="p" d="M3734 705l37 3 7-30 -36-5z"/>
<path class="p" d="M3889 686l36 2 8-56 -37-1z"/>
<path fill="#aa5" d="M3223 257l38 46 11-9 -38-44z"/>
<path fill="#aa5" d="M3401 483l37 38 10-10 -37-37z"/>
<path fill="#000" d="M4912 182l30-31 1-7 -30 31z"/>
<path class="p" d="M4161 593l37 6 6-54 -37-6z"/>
<path class="p" d="M4353 576l37 5 5-37 -37-9z"/>
<path class="p" d="M4507 545l38-12 4-21 -37 9z"/>
<path class="p" d="M3771 708l36 3 8-29 -37-4z"/>
<path class="p" d="M4043 638l37 3 7-56 -37-4z"/>
<path class="p" d="M3925 688l37 2 7-56 -36-2z"/>
<path fill="#aa5" d="M3363 443l38 40 10-9 -37-40z"/>
<path class="p" d="M4198 599l37 5 6-51 -37-8z"/>
<path class="p" d="M4390 581l37 1 5-33 -37-5z"/>
<path fill="#aa5" d="M3185 212l38 45 11-7 -38-46z"/>
<path fill="#663" d="M4626 472l39-29 3-14 -39 27z"/>
<path class="p" d="M4080 641l37 4 7-56 -37-4z"/>
<path class="p" d="M3807 711l37 2 8-29 -37-2z"/>
<path fill="#331" d="M4707 397l40-34 2-12 -39 34z"/>
<path class="p" d="M4235 604l37 6 6-49 -37-8z"/>
<path class="p" d="M3962 690l37 2 7-56 -37-2z"/>
<path fill="#aa5" d="M3325 400l38 43 11-9 -38-43z"/>
<path fill="#dd6" d="M4545 533l39-19 3-19 -38 17z"/>
<path class="p" d="M4427 582l38-3 5-29 -38-1z"/>
<path fill="#110" d="M4788 315l40-37 2-9 -40 37z"/>
<path fill="#aa5" d="M3147 165l38 47 11-8 -37-46z"/>
<path class="p" d="M4272 610l38 5 5-46 -37-8z"/>
<path class="p" d="M4117 645l38 4 6-56 -37-4z"/>
<path class="p" d="M3844 713l37 3 8-30 -37-2z"/>
<path fill="#000" d="M4870 230l40-40 2-8 -40 40z"/>
<path class="p" d="M3999 692l37 3 7-57 -37-2z"/>
<path fill="#aa5" d="M3287 355l38 45 11-9 -38-44z"/>
<path class="p" d="M4310 615l37 3 6-42 -38-7z"/>
<path class="p" d="M4155 649l37 4 6-54 -37-6z"/>
<path class="p" d="M4465 579l38-9 4-25 -37 5z"/>
<path class="p" d="M3881 716l37 2 7-30 -36-2z"/>
<path fill="#111" d="M3577 638l37 18 9-1 -37-21z"/>
<path fill="#442" d="M3540 616l37 22 9-4 -36-23z"/>
<path class="p" d="M4036 695l38 3 6-57 -37-3z"/>
<path fill="#000" d="M3614 656l37 16 9 2 -37-19z"/>
<path fill="#663" d="M3503 590l37 26 10-5 -37-27z"/>
<path fill="#000" d="M3651 672l37 12 9 7 -37-17z"/>
<path class="p" d="M4347 618l38 1 5-38 -37-5z"/>
<path fill="#442" d="M4665 443l39-33 3-13 -39 32z"/>
<path fill="#773" d="M3465 561l38 29 10-6 -38-29z"/>
<path fill="#aa5" d="M3249 310l38 45 11-8 -37-44z"/>
<path class="p" d="M4192 653l37 3 6-52 -37-5z"/>
<path fill="#994" d="M4584 514l39-26 3-16 -39 23z"/>
<path fill="#221" d="M4747 363l39-37 2-11 -39 36z"/>
<path fill="#212" d="M3688 684l37 8 9 13 -37-14z"/>
<path class="p" d="M3918 718l37 3 7-31 -37-2z"/>
<path class="p" d="M4074 698l37 2 6-55 -37-4z"/>
<path fill="#884" d="M3428 528l37 33 10-6 -37-34z"/>
<path class="p" d="M4503 570l39-16 3-21 -38 12z"/>
<path class="p" d="M4229 656l38 3 5-49 -37-6z"/>
<path fill="#000" d="M4828 278l41-39 1-9 -40 39z"/>
<path class="p" d="M4385 619l38-4 4-33 -37-1z"/>
<path fill="#636" d="M3725 692l37 5 9 11 -37-3z"/>
<path fill="#aa5" d="M3211 265l38 45 12-7 -38-46z"/>
<path fill="#994" d="M3390 491l38 37 10-7 -37-38z"/>
<path fill="#000" d="M4910 190l31-32 1-7 -30 31z"/>
<path class="p" d="M3955 721l38 2 6-31 -37-2z"/>
<path class="p" d="M4111 700l37 3 7-54 -38-4z"/>
<path class="p" d="M4267 659l37 2 6-46 -38-5z"/>
<path fill="#535" d="M3762 697l37 4 8 10 -36-3z"/>
<path fill="#994" d="M3352 450l38 41 11-8 -38-40z"/>
<path class="p" d="M4423 615l38-8 4-28 -38 3z"/>
<path class="p" d="M3993 723l37 2 6-30 -37-3z"/>
<path class="p" d="M4148 703l38 3 6-53 -37-4z"/>
<path fill="#aa5" d="M3173 219l38 46 12-8 -38-45z"/>
<path fill="#663" d="M4623 488l39-30 3-15 -39 29z"/>
<path fill="#331" d="M4704 410l40-36 3-11 -40 34z"/>
<path class="p" d="M4304 661l38-1 5-42 -37-3z"/>
<path fill="#cc6" d="M4542 554l38-22 4-18 -39 19z"/>
<path fill="#525" d="M3799 701l37 2 8 10 -37-2z"/>
<path fill="#994" d="M3314 407l38 43 11-7 -38-43z"/>
<path class="p" d="M4186 706l37 1 6-51 -37-3z"/>
<path fill="#110" d="M4786 326l41-39 1-9 -40 37z"/>
<path class="p" d="M4030 725l37 3 7-30 -38-3z"/>
<path fill="#aa5" d="M3135 172l38 47 12-7 -38-47z"/>
<path class="p" d="M4461 607l38-13 4-24 -38 9z"/>
<path class="p" d="M4342 660l38-5 5-36 -38-1z"/>
<path fill="#535" d="M3836 703l38 2 7 11 -37-3z"/>
<path fill="#000" d="M4869 239l40-41 1-8 -40 40z"/>
<path class="p" d="M4067 728l38 2 6-30 -37-2z"/>
<path class="p" d="M4223 707l38 0 6-48 -38-3z"/>
<path fill="#994" d="M3276 363l38 44 11-7 -38-45z"/>
<path fill="#636" d="M3874 705l37 2 7 11 -37-2z"/>
<path fill="#884" d="M4580 532l39-28 4-16 -39 26z"/>
<path fill="#442" d="M4662 458l40-35 2-13 -39 33z"/>
<path class="p" d="M4380 655l38-9 5-31 -38 4z"/>
<path class="p" d="M4105 730l37 3 6-30 -37-3z"/>
<path class="p" d="M4261 707l38-4 5-42 -37-2z"/>
<path fill="#000" d="M3530 613l37 18 10 7 -37-22z"/>
<path fill="#994" d="M3238 317l38 46 11-8 -38-45z"/>
<path fill="#000" d="M3493 591l37 22 10 3 -37-26z"/>
<path class="p" d="M4499 594l39-19 4-21 -39 16z"/>
<path fill="#000" d="M3567 631l38 14 9 11 -37-18z"/>
<path fill="#221" d="M4744 374l40-38 2-10 -39 37z"/>
<path fill="#331" d="M3455 564l38 27 10-1 -38-29z"/>
<path fill="#636" d="M3911 707l37 2 7 12 -37-3z"/>
<path fill="#636" d="M3605 645l37 9 9 18 -37-16z"/>
<path class="p" d="M4142 733l38 2 6-29 -38-3z"/>
<path fill="#552" d="M3417 532l38 32 10-3 -37-33z"/>
<path fill="#000" d="M4827 287l40-40 2-8 -41 39z"/>
<path fill="#d7d" d="M3642 654l37 6 9 24 -37-12z"/>
<path class="p" d="M4299 703l38-7 5-36 -38 1z"/>
<path class="p" d="M4418 646l38-13 5-26 -38 8z"/>
<path fill="#aa4" d="M3200 272l38 45 11-7 -38-45z"/>
<path fill="#000" d="M4909 198l31-32 1-8 -31 32z"/>
<path fill="#636" d="M3948 709l38 3 7 11 -38-2z"/>
<path fill="#773" d="M3380 496l37 36 11-4 -38-37z"/>
<path class="p" d="M4180 735l37 3 6-31 -37-1z"/>
<path class="m" d="M3679 660l37 4 9 28 -37-8z"/>
<path fill="#553" d="M4619 504l40-32 3-14 -39 30z"/>
<path fill="#aa5" d="M4538 575l39-25 3-18 -38 22z"/>
<path fill="#884" d="M3342 456l38 40 10-5 -38-41z"/>
<path fill="#636" d="M3986 712l37 2 7 11 -37-2z"/>
<path fill="#aa5" d="M3161 225l39 47 11-7 -38-46z"/>
<path class="p" d="M4337 696l38-10 5-31 -38 5z"/>
<path fill="#331" d="M4702 423l40-37 2-12 -40 36z"/>
<path class="m" d="M3716 664l37 2 9 31 -37-5z"/>
<path class="p" d="M4217 738l38 1 6-32 -38 0z"/>
<path class="p" d="M4456 633l39-17 4-22 -38 13z"/>
<path fill="#110" d="M4784 336l41-39 2-10 -41 39z"/>
<path fill="#884" d="M3303 413l39 43 10-6 -38-43z"/>
<path fill="#636" d="M4023 714l38 3 6 11 -37-3z"/>
<path class="m" d="M3753 666l38 1 8 34 -37-4z"/>
<path fill="#aa5" d="M3122 178l39 47 12-6 -38-47z"/>
<path fill="#000" d="M4867 247l41-41 1-8 -40 41z"/>
<path class="p" d="M4255 739l38-9 6-27 -38 4z"/>
<path class="p" d="M4375 686l38-14 5-26 -38 9z"/>
<path fill="#636" d="M4061 717l38 3 6 10 -38-2z"/>
<path fill="#994" d="M3265 369l38 44 11-6 -38-44z"/>
<path class="m" d="M3791 667l37 0 8 36 -37-2z"/>
<path fill="#773" d="M4577 550l39-30 3-16 -39 28z"/>
<path fill="#442" d="M4659 472l40-36 3-13 -40 35z"/>
<path fill="#cc6" d="M4495 616l39-23 4-18 -39 19z"/>
<path fill="#535" d="M4099 720l37 3 6 10 -37-3z"/>
<path class="p" d="M4293 730l39-12 5-22 -38 7z"/>
<path fill="#221" d="M4742 386l40-39 2-11 -40 38z"/>
<path fill="#994" d="M3226 324l39 45 11-6 -38-46z"/>
<path class="m" d="M3828 667l38 1 8 37 -38-2z"/>
<path class="p" d="M4413 672l39-18 4-21 -38 13z"/>
<path fill="#000" d="M3482 588l38 18 10 7 -37-22z"/>
<path fill="#525" d="M4136 723l38 3 6 9 -38-2z"/>
<path fill="#000" d="M3445 564l37 24 11 3 -38-27z"/>
<path fill="#000" d="M4825 297l40-41 2-9 -40 40z"/>
<path fill="#000" d="M3520 606l37 13 10 12 -37-18z"/>
<path fill="#221" d="M3407 534l38 30 10 0 -38-32z"/>
<path class="m" d="M3866 668l37 2 8 37 -37-2z"/>
<path fill="#000" d="M4908 206l31-32 1-8 -31 32z"/>
<path fill="#994" d="M3188 278l38 46 12-7 -38-45z"/>
<path fill="#747" d="M3557 619l38 8 10 18 -38-14z"/>
<path fill="#552" d="M3369 499l38 35 10-2 -37-36z"/>
<path fill="#ee7" d="M4332 718l38-14 5-18 -38 10z"/>
<path fill="#535" d="M4174 726l38 1 5 11 -37-3z"/>
<path fill="#884" d="M4534 593l39-27 4-16 -39 25z"/>
<path fill="#442" d="M4616 520l40-35 3-13 -40 32z"/>
<path class="m" d="M3595 627l37 4 10 23 -37-9z"/>
<path class="m" d="M3903 670l38 2 7 37 -37-2z"/>
<path fill="#221" d="M4699 436l40-39 3-11 -40 37z"/>
<path fill="#cc6" d="M4452 654l39-20 4-18 -39 17z"/>
<path fill="#663" d="M3330 460l39 39 11-3 -38-40z"/>
<path fill="#994" d="M3149 231l39 47 12-6 -39-47z"/>
<path class="m" d="M3632 631l37 2 10 27 -37-6z"/>
<path fill="#747" d="M4212 727l38 0 5 12 -38-1z"/>
<path fill="#110" d="M4782 347l41-40 2-10 -41 39z"/>
<path class="m" d="M3941 672l38 2 7 38 -38-3z"/>
<path fill="#774" d="M3292 418l38 42 12-4 -39-43z"/>
<path fill="#aa5" d="M4370 704l39-17 4-15 -38 14z"/>
<path class="m" d="M3669 633l38-1 9 32 -37-4z"/>
<path fill="#aa5" d="M3110 184l39 47 12-6 -39-47z"/>
<path fill="#000" d="M4865 256l42-42 1-8 -41 41z"/>
<path fill="#636" d="M4250 727l39-4 4 7 -38 9z"/>
<path class="m" d="M3979 674l38 2 6 38 -37-2z"/>
<path fill="#552" d="M4573 566l40-32 3-14 -39 30z"/>
<path fill="#884" d="M3253 374l39 44 11-5 -38-44z"/>
<path fill="#884" d="M4491 634l39-25 4-16 -39 23z"/>
<path fill="#331" d="M4656 485l40-37 3-12 -40 36z"/>
<path class="m" d="M3707 632l37-1 9 35 -37-2z"/>
<path class="m" d="M4017 676l38 4 6 37 -38-3z"/>
<path fill="#111" d="M4739 397l41-40 2-10 -40 39z"/>
<path fill="#773" d="M4409 687l39-19 4-14 -39 18z"/>
<path fill="#000" d="M4289 723l38-7 5 2 -39 12z"/>
<path fill="#994" d="M3215 330l38 44 12-5 -39-45z"/>
<path class="m" d="M3744 631l38-1 9 37 -38-1z"/>
<path class="m" d="M4055 680l38 3 6 37 -38-3z"/>
<path fill="#000" d="M4823 307l41-42 1-9 -40 41z"/>
<path fill="#000" d="M4907 214l31-33 1-7 -31 32z"/>
<path fill="#994" d="M3176 284l39 46 11-6 -38-46z"/>
<path fill="#000" d="M3434 561l38 21 10 6 -37-24z"/>
<path class="m" d="M3782 630l38 0 8 37 -37 0z"/>
<path class="m" d="M4093 683l38 4 5 36 -37-3z"/>
<path fill="#552" d="M4530 609l40-30 3-13 -39 27z"/>
<path fill="#000" d="M3472 582l38 14 10 10 -38-18z"/>
<path fill="#000" d="M3396 534l38 27 11 3 -38-30z"/>
<path fill="#332" d="M4613 534l40-36 3-13 -40 35z"/>
<path fill="#000" d="M4327 716l39-11 4-1 -38 14z"/>
<path fill="#525" d="M3510 596l37 8 10 15 -37-13z"/>
<path fill="#332" d="M3358 501l38 33 11 0 -38-35z"/>
<path fill="#552" d="M4448 668l39-22 4-12 -39 20z"/>
<path fill="#221" d="M4696 448l41-40 2-11 -40 39z"/>
<path class="m" d="M4131 687l38 4 5 35 -38-3z"/>
<path class="m" d="M3820 630l38 0 8 38 -38-1z"/>
<path fill="#994" d="M3137 237l39 47 12-6 -39-47z"/>
<path fill="#c6c" d="M3547 604l38 3 10 20 -38-8z"/>
<path fill="#553" d="M3319 463l39 38 11-2 -39-39z"/>
<path fill="#110" d="M4780 357l41-41 2-9 -41 40z"/>
<path class="m" d="M4169 691l38 4 5 32 -38-1z"/>
<path fill="#000" d="M4366 705l39-14 4-4 -39 17z"/>
<path class="m" d="M3585 607l37 0 10 24 -37-4z"/>
<path class="m" d="M3858 630l38 1 7 39 -37-2z"/>
<path fill="#773" d="M3280 423l39 40 11-3 -38-42z"/>
<path fill="#000" d="M4864 265l41-42 2-9 -42 42z"/>
<path fill="#aa5" d="M3097 190l40 47 12-6 -39-47z"/>
<path fill="#332" d="M4570 579l40-33 3-12 -40 32z"/>
<path fill="#332" d="M4487 646l39-26 4-11 -39 25z"/>
<path class="m" d="M4207 695l39 3 4 29 -38 0z"/>
<path fill="#221" d="M4653 498l41-39 2-11 -40 37z"/>
<path class="m" d="M3622 607l38-3 9 29 -37-2z"/>
<path class="m" d="M3896 631l38 1 7 40 -38-2z"/>
<path fill="#884" d="M3242 379l38 44 12-5 -39-44z"/>
<path fill="#110" d="M4737 408l41-40 2-11 -41 40z"/>
<path class="m" d="M4246 698l38 2 5 23 -39 4z"/>
<path fill="#000" d="M4405 691l39-17 4-6 -39 19z"/>
<path class="m" d="M3934 632l38 2 7 40 -38-2z"/>
<path class="m" d="M3660 604l38-4 9 32 -38 1z"/>
<path fill="#884" d="M3203 335l39 44 11-5 -38-44z"/>
<path fill="#000" d="M4821 316l41-42 2-9 -41 42z"/>
<path fill="#000" d="M4905 223l32-34 1-8 -31 33z"/>
<path class="m" d="M3972 634l38 3 7 39 -38-2z"/>
<path class="m" d="M4284 700l39-1 4 17 -38 7z"/>
<path fill="#221" d="M4526 620l40-30 4-11 -40 30z"/>
<path fill="#221" d="M4610 546l40-37 3-11 -40 36z"/>
<path class="m" d="M3698 600l37-3 9 34 -37 1z"/>
<path fill="#994" d="M3163 289l40 46 12-5 -39-46z"/>
<path fill="#000" d="M4444 674l39-21 4-7 -39 22z"/>
<path fill="#111" d="M4694 459l40-40 3-11 -41 40z"/>
<path class="m" d="M4010 637l38 3 7 40 -38-4z"/>
<path fill="#000" d="M3423 557l38 17 11 8 -38-21z"/>
<path fill="#000" d="M3385 533l38 24 11 4 -38-27z"/>
<path fill="#000" d="M3461 574l38 11 11 11 -38-14z"/>
<path fill="#221" d="M3346 502l39 31 11 1 -38-33z"/>
<path fill="#b5b" d="M4323 699l38-5 5 11 -39 11z"/>
<path class="m" d="M3735 597l38-3 9 36 -38 1z"/>
<path fill="#994" d="M3124 243l39 46 13-5 -39-47z"/>
<path fill="#000" d="M4778 368l41-42 2-10 -41 41z"/>
<path class="m" d="M4048 640l39 4 6 39 -38-3z"/>
<path fill="#747" d="M3499 585l38 3 10 16 -37-8z"/>
<path fill="#552" d="M3308 466l38 36 12-1 -39-38z"/>
<path fill="#000" d="M4862 274l42-43 1-8 -41 42z"/>
<path class="m" d="M3773 594l38-2 9 38 -38 0z"/>
<path class="m" d="M4087 644l38 5 6 38 -38-4z"/>
<path fill="#aa5" d="M3085 196l39 47 13-6 -40-47z"/>
<path fill="#663" d="M3269 426l39 40 11-3 -39-40z"/>
<path fill="#e7e" d="M3537 588l37-1 11 20 -38-3z"/>
<path fill="#110" d="M4566 590l41-34 3-10 -40 33z"/>
<path fill="#525" d="M4361 694l40-9 4 6 -39 14z"/>
<path fill="#000" d="M4483 653l40-25 3-8 -39 26z"/>
<path fill="#110" d="M4650 509l41-39 3-11 -41 39z"/>
<path class="m" d="M4125 649l39 6 5 36 -38-4z"/>
<path fill="#773" d="M3230 384l39 42 11-3 -38-44z"/>
<path class="m" d="M3811 592l39-1 8 39 -38 0z"/>
<path class="m" d="M3574 587l38-4 10 24 -37 0z"/>
<path fill="#110" d="M4734 419l42-42 2-9 -41 40z"/>
<path class="m" d="M4164 655l38 6 5 34 -38-4z"/>
<path fill="#000" d="M4401 685l39-13 4 2 -39 17z"/>
<path fill="#884" d="M3190 340l40 44 12-5 -39-44z"/>
<path fill="#000" d="M4819 326l42-43 1-9 -41 42z"/>
<path class="m" d="M3850 591l38 0 8 40 -38-1z"/>
<path class="m" d="M3612 583l38-7 10 28 -38 3z"/>
<path class="m" d="M4202 661l39 6 5 31 -39-3z"/>
<path fill="#000" d="M4904 231l32-34 1-8 -32 34z"/>
<path fill="#000" d="M4523 628l40-30 3-8 -40 30z"/>
<path fill="#000" d="M4607 556l40-37 3-10 -40 37z"/>
<path fill="#994" d="M3151 295l39 45 13-5 -40-46z"/>
<path class="m" d="M3888 591l38 1 8 40 -38-1z"/>
<path class="m" d="M4241 667l39 5 4 28 -38-2z"/>
<path fill="#000" d="M4691 470l41-41 2-10 -40 40z"/>
<path class="m" d="M3650 576l38-6 10 30 -38 4z"/>
<path fill="#000" d="M4440 672l39-18 4-1 -39 21z"/>
<path class="m" d="M3926 592l39 2 7 40 -38-2z"/>
<path fill="#000" d="M3374 531l38 22 11 4 -38-24z"/>
<path fill="#994" d="M3112 248l39 47 12-6 -39-46z"/>
<path fill="#000" d="M4776 377l41-42 2-9 -41 42z"/>
<path fill="#000" d="M3412 553l38 14 11 7 -38-17z"/>
<path class="m" d="M4280 672l38 3 5 24 -39 1z"/>
<path fill="#221" d="M3335 503l39 28 11 2 -39-31z"/>
<path fill="#212" d="M3450 567l38 7 11 11 -38-11z"/>
<path fill="#442" d="M3296 468l39 35 11-1 -38-36z"/>
<path class="m" d="M3688 570l38-6 9 33 -37 3z"/>
<path class="m" d="M3965 594l38 3 7 40 -38-3z"/>
<path fill="#000" d="M4861 283l42-44 1-8 -42 43z"/>
<path fill="#aa5" d="M3072 201l40 47 12-5 -39-47z"/>
<path class="m" d="M4318 675l39 1 4 18 -38 5z"/>
<path fill="#000" d="M4563 598l40-34 4-8 -41 34z"/>
<path fill="#848" d="M3488 574l38-1 11 15 -38-3z"/>
<path fill="#663" d="M3257 429l39 39 12-2 -39-40z"/>
<path fill="#000" d="M4647 519l41-40 3-9 -41 39z"/>
<path class="m" d="M4003 597l39 4 6 39 -38-3z"/>
<path fill="#000" d="M4479 654l40-23 4-3 -40 25z"/>
<path class="m" d="M3726 564l38-5 9 35 -38 3z"/>
<path fill="#000" d="M4732 429l41-43 3-9 -42 42z"/>
<path fill="#773" d="M3218 388l39 41 12-3 -39-42z"/>
<path fill="#b6b" d="M4357 676l40-3 4 12 -40 9z"/>
<path fill="#e7e" d="M3526 573l38-5 10 19 -37 1z"/>
<path class="m" d="M4042 601l39 4 6 39 -39-4z"/>
<path fill="#000" d="M4817 335l42-43 2-9 -42 43z"/>
<path class="m" d="M3764 559l39-4 8 37 -38 2z"/>
<path fill="#884" d="M3178 345l40 43 12-4 -40-44z"/>
<path class="m" d="M4081 605l38 6 6 38 -38-5z"/>
<path fill="#000" d="M4903 239l32-34 1-8 -32 34z"/>
<path class="m" d="M3564 568l38-8 10 23 -38 4z"/>
<path fill="#636" d="M4397 673l39-9 4 8 -39 13z"/>
<path fill="#000" d="M4603 564l41-37 3-8 -40 37z"/>
<path fill="#000" d="M4519 631l41-28 3-5 -40 30z"/>
<path class="m" d="M4119 611l39 7 6 37 -39-6z"/>
<path fill="#994" d="M3139 300l39 45 12-5 -39-45z"/>
<path class="m" d="M3803 555l38-2 9 38 -39 1z"/>
<path fill="#000" d="M4688 479l42-42 2-8 -41 41z"/>
<path class="m" d="M4158 618l39 8 5 35 -38-6z"/>
<path class="m" d="M3602 560l38-10 10 26 -38 7z"/>
<path fill="#000" d="M4773 386l42-42 2-9 -41 42z"/>
<path fill="#994" d="M3099 254l40 46 12-5 -39-47z"/>
<path class="m" d="M3841 553l39-1 8 39 -38 0z"/>
<path fill="#111" d="M4436 664l40-13 3 3 -39 18z"/>
<path class="m" d="M4197 626l39 9 5 32 -39-6z"/>
<path fill="#000" d="M3362 530l39 19 11 4 -38-22z"/>
<path fill="#111" d="M3323 503l39 27 12 1 -39-28z"/>
<path fill="#000" d="M3401 549l38 11 11 7 -38-14z"/>
<path fill="#000" d="M4859 292l42-45 2-8 -42 44z"/>
<path fill="#442" d="M3284 470l39 33 12 0 -39-35z"/>
<path class="m" d="M4236 635l39 8 5 29 -39-5z"/>
<path fill="#aa5" d="M3059 207l40 47 13-6 -40-47z"/>
<path class="m" d="M3880 552l39 0 7 40 -38-1z"/>
<path class="m" d="M3640 550l38-10 10 30 -38 6z"/>
<path fill="#000" d="M4560 603l40-33 3-6 -40 34z"/>
<path fill="#212" d="M3439 560l38 3 11 11 -38-7z"/>
<path fill="#000" d="M4644 527l42-40 2-8 -41 40z"/>
<path fill="#663" d="M3245 433l39 37 12-2 -39-39z"/>
<path class="m" d="M4275 643l39 8 4 24 -38-3z"/>
<path fill="#000" d="M4730 437l41-42 2-9 -41 43z"/>
<path fill="#000" d="M4476 651l40-20 3 0 -40 23z"/>
<path class="m" d="M3919 552l38 2 8 40 -39-2z"/>
<path fill="#848" d="M3477 563l39-3 10 13 -38 1z"/>
<path fill="#773" d="M3205 392l40 41 12-4 -39-41z"/>
<path class="m" d="M4314 651l39 5 4 20 -39-1z"/>
<path class="m" d="M3678 540l39-8 9 32 -38 6z"/>
<path fill="#000" d="M4815 344l42-44 2-8 -42 43z"/>
<path class="m" d="M3957 554l39 3 7 40 -38-3z"/>
<path fill="#884" d="M3166 349l39 43 13-4 -40-43z"/>
<path fill="#000" d="M4901 247l32-34 2-8 -32 34z"/>
<path fill="#d6d" d="M3516 560l38-9 10 17 -38 5z"/>
<path fill="#e7e" d="M4353 656l40 2 4 15 -40 3z"/>
<path fill="#000" d="M4600 570l41-37 3-6 -41 37z"/>
<path class="m" d="M3996 557l39 4 7 40 -39-4z"/>
<path class="m" d="M3717 532l38-8 9 35 -38 5z"/>
<path fill="#994" d="M3126 305l40 44 12-4 -39-45z"/>
<path fill="#000" d="M4516 631l40-26 4-2 -41 28z"/>
<path fill="#000" d="M4686 487l41-42 3-8 -42 42z"/>
<path class="m" d="M4035 561l39 6 7 38 -39-4z"/>
<path fill="#848" d="M4393 658l39-4 4 10 -39 9z"/>
<path class="m" d="M3554 551l38-12 10 21 -38 8z"/>
<path fill="#000" d="M4771 395l42-43 2-8 -42 42z"/>
<path class="m" d="M3755 524l39-5 9 36 -39 4z"/>
<path fill="#994" d="M3086 259l40 46 13-5 -40-46z"/>
<path class="m" d="M4074 567l40 7 5 37 -38-6z"/>
<path fill="#000" d="M4857 300l43-45 1-8 -42 45z"/>
<path fill="#111" d="M3312 504l39 25 11 1 -39-27z"/>
<path fill="#424" d="M4432 654l40-9 4 6 -40 13z"/>
<path fill="#000" d="M3351 529l38 17 12 3 -39-19z"/>
<path class="m" d="M4114 574l39 9 5 35 -39-7z"/>
<path class="m" d="M3794 519l39-4 8 38 -38 2z"/>
<path fill="#aa5" d="M3046 212l40 47 13-5 -40-47z"/>
<path fill="#442" d="M3272 472l40 32 11-1 -39-33z"/>
<path class="m" d="M3592 539l38-13 10 24 -38 10z"/>
<path fill="#000" d="M3389 546l39 8 11 6 -38-11z"/>
<path fill="#000" d="M4556 605l41-31 3-4 -40 33z"/>
<path fill="#000" d="M4641 533l42-39 3-7 -42 40z"/>
<path class="m" d="M4153 583l39 10 5 33 -39-8z"/>
<path fill="#663" d="M3233 436l39 36 12-2 -39-37z"/>
<path fill="#000" d="M4727 445l42-42 2-8 -41 42z"/>
<path fill="#212" d="M3428 554l38 1 11 8 -38-3z"/>
<path class="m" d="M4192 593l39 10 5 32 -39-9z"/>
<path class="m" d="M3833 515l39-2 8 39 -39 1z"/>
<path fill="#773" d="M3193 396l40 40 12-3 -40-41z"/>
<path fill="#000" d="M4472 645l40-16 4 2 -40 20z"/>
<path class="m" d="M4231 603l39 12 5 28 -39-8z"/>
<path class="m" d="M3630 526l39-13 9 27 -38 10z"/>
<path fill="#000" d="M4813 352l43-44 1-8 -42 44z"/>
<path fill="#747" d="M3466 555l39-7 11 12 -39 3z"/>
<path class="m" d="M3872 513l39 0 8 39 -39 0z"/>
<path class="m" d="M4270 615l40 11 4 25 -39-8z"/>
<path fill="#000" d="M4900 255l32-35 1-7 -32 34z"/>
<path fill="#884" d="M3153 354l40 42 12-4 -39-43z"/>
<path class="m" d="M4310 626l39 10 4 20 -39-5z"/>
<path fill="#000" d="M4597 574l42-35 2-6 -41 37z"/>
<path class="m" d="M3911 513l39 2 7 39 -38-2z"/>
<path class="m" d="M3669 513l38-12 10 31 -39 8z"/>
<path fill="#000" d="M4683 494l42-41 2-8 -41 42z"/>
<path fill="#994" d="M3113 310l40 44 13-5 -40-44z"/>
<path fill="#c6c" d="M3505 548l38-12 11 15 -38 9z"/>
<path fill="#000" d="M4512 629l41-23 3-1 -40 26z"/>
<path fill="#d7d" d="M4349 636l40 6 4 16 -40-2z"/>
<path fill="#000" d="M4769 403l43-44 1-7 -42 43z"/>
<path class="m" d="M3950 515l39 3 7 39 -39-3z"/>
<path fill="#aa5" d="M3073 265l40 45 13-5 -40-46z"/>
<path fill="#959" d="M4389 642l40 1 3 11 -39 4z"/>
<path class="m" d="M3707 501l39-9 9 32 -38 8z"/>
<path fill="#000" d="M4856 308l43-45 1-8 -43 45z"/>
<path class="m" d="M3989 518l40 5 6 38 -39-4z"/>
<path class="m" d="M3543 536l39-16 10 19 -38 12z"/>
<path fill="#aa5" d="M3032 218l41 47 13-6 -40-47z"/>
<path fill="#221" d="M3300 505l39 24 12 0 -39-25z"/>
<path fill="#000" d="M3339 529l39 15 11 2 -38-17z"/>
<path fill="#552" d="M3260 475l40 30 12-1 -40-32z"/>
<path fill="#000" d="M4639 539l41-39 3-6 -42 39z"/>
<path class="m" d="M4029 523l39 7 6 37 -39-6z"/>
<path fill="#000" d="M4553 606l41-29 3-3 -41 31z"/>
<path fill="#525" d="M4429 643l40-5 3 7 -40 9z"/>
<path fill="#000" d="M3378 544l39 6 11 4 -39-8z"/>
<path class="m" d="M3746 492l39-8 9 35 -39 5z"/>
<path fill="#773" d="M3220 440l40 35 12-3 -39-36z"/>
<path fill="#000" d="M4725 453l42-43 2-7 -42 42z"/>
<path class="m" d="M4068 530l40 8 6 36 -40-7z"/>
<path class="m" d="M3582 520l38-17 10 23 -38 13z"/>
<path fill="#884" d="M3180 401l40 39 13-4 -40-40z"/>
<path fill="#101" d="M3417 550l38-2 11 7 -38-1z"/>
<path fill="#000" d="M4812 359l42-44 2-7 -43 44z"/>
<path class="m" d="M4108 538l39 10 6 35 -39-9z"/>
<path class="m" d="M3785 484l39-5 9 36 -39 4z"/>
<path fill="#111" d="M4469 638l40-13 3 4 -40 16z"/>
<path fill="#000" d="M4899 263l32-35 1-8 -32 35z"/>
<path fill="#994" d="M3140 359l40 42 13-5 -40-42z"/>
<path class="m" d="M4147 548l40 12 5 33 -39-10z"/>
<path fill="#535" d="M3455 548l39-9 11 9 -39 7z"/>
<path class="m" d="M4187 560l39 14 5 29 -39-10z"/>
<path fill="#000" d="M4594 577l42-34 3-4 -42 35z"/>
<path class="m" d="M3620 503l39-16 10 26 -39 13z"/>
<path class="m" d="M3824 479l40-3 8 37 -39 2z"/>
<path fill="#000" d="M4680 500l43-41 2-6 -42 41z"/>
<path fill="#994" d="M3100 316l40 43 13-5 -40-44z"/>
<path class="m" d="M4226 574l40 15 4 26 -39-12z"/>
<path class="m" d="M4266 589l39 15 5 22 -40-11z"/>
<path fill="#000" d="M4767 410l43-43 2-8 -43 44z"/>
<path fill="#000" d="M4509 625l41-20 3 1 -41 23z"/>
<path class="m" d="M4305 604l40 13 4 19 -39-10z"/>
<path fill="#aa5" d="M3059 270l41 46 13-6 -40-45z"/>
<path class="m" d="M3864 476l39-1 8 38 -39 0z"/>
<path fill="#959" d="M3494 539l38-16 11 13 -38 12z"/>
<path fill="#000" d="M4854 315l43-45 2-7 -43 45z"/>
<path fill="#b6b" d="M4345 617l40 10 4 15 -40-6z"/>
<path class="m" d="M3659 487l39-15 9 29 -38 12z"/>
<path class="m" d="M3903 475l40 1 7 39 -39-2z"/>
<path fill="#aa5" d="M3019 224l40 46 14-5 -41-47z"/>
<path fill="#848" d="M4385 627l40 6 4 10 -40-1z"/>
<path fill="#332" d="M3288 508l39 22 12-1 -39-24z"/>
<path fill="#000" d="M4636 543l42-38 2-5 -41 39z"/>
<path fill="#663" d="M3248 479l40 29 12-3 -40-30z"/>
<path fill="#000" d="M3327 530l39 14 12 0 -39-15z"/>
<path fill="#d6d" d="M3532 523l39-19 11 16 -39 16z"/>
<path fill="#000" d="M4550 605l41-27 3-1 -41 29z"/>
<path fill="#000" d="M4723 459l42-42 2-7 -42 43z"/>
<path class="m" d="M3943 476l39 4 7 38 -39-3z"/>
<path fill="#773" d="M3208 445l40 34 12-4 -40-35z"/>
<path class="m" d="M3698 472l39-12 9 32 -39 9z"/>
<path fill="#000" d="M3366 544l39 5 12 1 -39-6z"/>
<path fill="#525" d="M4425 633l40-2 4 7 -40 5z"/>
<path fill="#000" d="M4810 367l43-45 1-7 -42 44z"/>
<path fill="#884" d="M3168 406l40 39 12-5 -40-39z"/>
<path class="m" d="M3982 480l40 5 7 38 -40-5z"/>
<path fill="#000" d="M4897 270l33-35 1-7 -32 35z"/>
<path fill="#000" d="M3405 549l39-5 11 4 -38 2z"/>
<path fill="#994" d="M3127 365l41 41 12-5 -40-42z"/>
<path class="m" d="M4022 485l40 8 6 37 -39-7z"/>
<path class="m" d="M3737 460l39-10 9 34 -39 8z"/>
<path class="m" d="M3571 504l39-20 10 19 -38 17z"/>
<path fill="#111" d="M4465 631l41-10 3 4 -40 13z"/>
<path class="m" d="M4062 493l39 10 7 35 -40-8z"/>
<path fill="#000" d="M4591 578l42-32 3-3 -42 34z"/>
<path fill="#aa5" d="M3087 322l40 43 13-6 -40-43z"/>
<path fill="#000" d="M4678 505l42-40 3-6 -43 41z"/>
<path fill="#323" d="M3444 544l39-12 11 7 -39 9z"/>
<path class="m" d="M4101 503l40 12 6 33 -39-10z"/>
<path fill="#000" d="M4765 417l43-44 2-6 -43 43z"/>
<path class="m" d="M3776 450l40-7 8 36 -39 5z"/>
<path class="m" d="M4141 515l40 15 6 30 -40-12z"/>
<path fill="#aa5" d="M3046 277l41 45 13-6 -41-46z"/>
<path fill="#000" d="M4506 621l41-17 3 1 -41 20z"/>
<path class="m" d="M3610 484l39-20 10 23 -39 16z"/>
<path fill="#000" d="M4853 322l43-45 1-7 -43 45z"/>
<path class="m" d="M4181 530l40 16 5 28 -39-14z"/>
<path class="m" d="M4221 546l40 18 5 25 -40-15z"/>
<path fill="#737" d="M3483 532l39-18 10 9 -38 16z"/>
<path class="m" d="M3816 443l39-5 9 38 -40 3z"/>
<path class="m" d="M4261 564l40 19 4 21 -39-15z"/>
<path fill="#bb5" d="M3005 230l41 47 13-7 -40-46z"/>
<path fill="#c6c" d="M4301 583l40 17 4 17 -40-13z"/>
<path fill="#552" d="M3276 513l39 21 12-4 -39-22z"/>
<path fill="#000" d="M4633 546l42-37 3-4 -42 38z"/>
<path fill="#949" d="M4341 600l40 14 4 13 -40-10z"/>
<path fill="#773" d="M3236 484l40 29 12-5 -40-29z"/>
<path fill="#221" d="M3315 534l40 12 11-2 -39-14z"/>
<path fill="#000" d="M4720 465l43-42 2-6 -42 42z"/>
<path class="m" d="M3649 464l39-18 10 26 -39 15z"/>
<path class="m" d="M3855 438l40-1 8 38 -39 1z"/>
<path fill="#884" d="M3195 450l41 34 12-5 -40-34z"/>
<path fill="#000" d="M4547 604l41-25 3-1 -41 27z"/>
<path fill="#636" d="M4381 614l40 9 4 10 -40-6z"/>
<path fill="#000" d="M3355 546l39 4 11-1 -39-5z"/>
<path fill="#000" d="M4808 373l43-44 2-7 -43 45z"/>
<path fill="#994" d="M3155 412l40 38 13-5 -40-39z"/>
<path fill="#a5a" d="M3522 514l39-22 10 12 -39 19z"/>
<path fill="#000" d="M4896 277l33-35 1-7 -33 35z"/>
<path class="m" d="M3895 437l40 0 8 39 -40-1z"/>
<path fill="#424" d="M4421 623l40 1 4 7 -40 2z"/>
<path fill="#aa5" d="M3114 371l41 41 13-6 -41-41z"/>
<path fill="#000" d="M3394 550l39-6 11 0 -39 5z"/>
<path class="m" d="M3688 446l39-16 10 30 -39 12z"/>
<path class="m" d="M3935 437l40 4 7 39 -39-4z"/>
<path fill="#aa5" d="M3073 328l41 43 13-6 -40-43z"/>
<path fill="#101" d="M4461 624l41-6 4 3 -41 10z"/>
<path fill="#000" d="M4675 509l43-39 2-5 -42 40z"/>
<path fill="#000" d="M4588 579l42-31 3-2 -42 32z"/>
<path fill="#d6d" d="M3561 492l39-24 10 16 -39 20z"/>
<path class="m" d="M3975 441l40 7 7 37 -40-5z"/>
<path fill="#000" d="M4763 423l43-43 2-7 -43 44z"/>
<path fill="#000" d="M3433 544l39-14 11 2 -39 12z"/>
<path fill="#bb5" d="M3032 283l41 45 14-6 -41-45z"/>
<path class="m" d="M3727 430l40-12 9 32 -39 10z"/>
<path class="m" d="M4015 448l40 9 7 36 -40-8z"/>
<path fill="#000" d="M4851 329l43-45 2-7 -43 45z"/>
<path fill="#000" d="M4502 618l41-15 4 1 -41 17z"/>
<path class="m" d="M4055 457l40 12 6 34 -39-10z"/>
<path fill="#bb5" d="M2991 236l41 47 14-6 -41-47z"/>
<path class="m" d="M4095 469l40 15 6 31 -40-12z"/>
<path class="m" d="M3600 468l39-23 10 19 -39 20z"/>
<path fill="#323" d="M3472 530l39-21 11 5 -39 18z"/>
<path class="m" d="M3767 418l40-10 9 35 -40 7z"/>
<path class="m" d="M4135 484l40 17 6 29 -40-15z"/>
<path fill="#773" d="M3263 519l40 20 12-5 -39-21z"/>
<path fill="#884" d="M3223 491l40 28 13-6 -40-29z"/>
<path fill="#000" d="M4630 548l43-35 2-4 -42 37z"/>
<path class="m" d="M4175 501l41 20 5 25 -40-16z"/>
<path fill="#000" d="M4718 470l43-41 2-6 -43 42z"/>
<path fill="#442" d="M3303 539l40 12 12-5 -40-12z"/>
<path class="m" d="M4216 521l40 21 5 22 -40-18z"/>
<path fill="#aa4" d="M3183 457l40 34 13-7 -41-34z"/>
<path fill="#c6c" d="M4256 542l40 22 5 19 -40-19z"/>
<path fill="#949" d="M4296 564l40 21 5 15 -40-17z"/>
<path fill="#000" d="M4806 380l43-44 2-7 -43 44z"/>
<path fill="#000" d="M4543 603l42-23 3-1 -41 25z"/>
<path fill="#636" d="M4336 585l40 17 5 12 -40-14z"/>
<path fill="#110" d="M3343 551l40 3 11-4 -39-4z"/>
<path fill="#aa5" d="M3142 419l41 38 12-7 -40-38z"/>
<path class="m" d="M3807 408l40-7 8 37 -39 5z"/>
<path fill="#000" d="M4894 284l34-36 1-6 -33 35z"/>
<path fill="#424" d="M4376 602l41 12 4 9 -40-9z"/>
<path class="m" d="M3639 445l39-22 10 23 -39 18z"/>
<path fill="#636" d="M3511 509l39-24 11 7 -39 22z"/>
<path fill="#bb5" d="M3101 379l41 40 13-7 -41-41z"/>
<path fill="#000" d="M3383 554l39-7 11-3 -39 6z"/>
<path fill="#212" d="M4417 614l40 5 4 5 -40-1z"/>
<path class="m" d="M3847 401l40-3 8 39 -40 1z"/>
<path fill="#bb5" d="M3060 335l41 44 13-8 -41-43z"/>
<path fill="#000" d="M4673 513l42-38 3-5 -43 39z"/>
<path fill="#000" d="M4585 580l42-29 3-3 -42 31z"/>
<path fill="#000" d="M4761 429l43-43 2-6 -43 43z"/>
<path fill="#000" d="M4457 619l42-4 3 3 -41 6z"/>
<path class="m" d="M3887 398l40 0 8 39 -40 0z"/>
<path fill="#bb5" d="M3018 290l42 45 13-7 -41-45z"/>
<path class="m" d="M3678 423l40-19 9 26 -39 16z"/>
<path fill="#000" d="M3422 547l39-15 11-2 -39 14z"/>
<path fill="#000" d="M4849 336l44-46 1-6 -43 45z"/>
<path fill="#949" d="M3550 485l39-27 11 10 -39 24z"/>
<path class="m" d="M3927 398l40 5 8 38 -40-4z"/>
<path fill="#cc5" d="M2977 243l41 47 14-7 -41-47z"/>
<path fill="#000" d="M4499 615l41-13 3 1 -41 15z"/>
<path class="m" d="M3967 403l41 7 7 38 -40-7z"/>
<path class="m" d="M3718 404l40-17 9 31 -40 12z"/>
<path fill="#994" d="M3251 527l40 21 12-9 -40-20z"/>
<path fill="#aa5" d="M3211 499l40 28 12-8 -40-28z"/>
<path fill="#000" d="M3461 532l39-22 11-1 -39 21z"/>
<path fill="#000" d="M4627 551l43-34 3-4 -43 35z"/>
<path fill="#773" d="M3291 548l40 11 12-8 -40-12z"/>
<path fill="#000" d="M4715 475l44-41 2-5 -43 41z"/>
<path fill="#bb5" d="M3170 465l41 34 12-8 -40-34z"/>
<path class="m" d="M4008 410l40 12 7 35 -40-9z"/>
<path fill="#b6b" d="M3589 458l40-27 10 14 -39 23z"/>
<path fill="#000" d="M4804 386l44-44 1-6 -43 44z"/>
<path fill="#bb5" d="M3129 428l41 37 13-8 -41-38z"/>
<path class="m" d="M4048 422l41 14 6 33 -40-12z"/>
<path fill="#442" d="M3331 559l40 3 12-8 -40-3z"/>
<path fill="#000" d="M4893 290l34-35 1-7 -34 36z"/>
<path fill="#000" d="M4540 602l42-21 3-1 -42 23z"/>
<path class="m" d="M4089 436l40 18 6 30 -40-15z"/>
<path class="m" d="M3758 387l40-13 9 34 -40 10z"/>
<path class="m" d="M4129 454l41 21 5 26 -40-17z"/>
<path fill="#cc5" d="M3088 387l41 41 13-9 -41-40z"/>
<path class="m" d="M4170 475l40 23 6 23 -41-20z"/>
<path fill="#535" d="M4291 548l40 24 5 13 -40-21z"/>
<path fill="#848" d="M4251 523l40 25 5 16 -40-22z"/>
<path fill="#b6b" d="M4210 498l41 25 5 19 -40-21z"/>
<path fill="#313" d="M4331 572l41 21 4 9 -40-17z"/>
<path fill="#101" d="M4372 593l41 15 4 6 -41-12z"/>
<path fill="#110" d="M3371 562l39-8 12-7 -39 7z"/>
<path fill="#111" d="M3500 510l39-27 11 2 -39 24z"/>
<path fill="#cc6" d="M3046 343l42 44 13-8 -41-44z"/>
<path fill="#000" d="M4413 608l41 7 3 4 -40-5z"/>
<path class="m" d="M3629 431l39-25 10 17 -39 22z"/>
<path fill="#000" d="M4670 517l43-37 2-5 -42 38z"/>
<path class="m" d="M3798 374l40-10 9 37 -40 7z"/>
<path fill="#000" d="M4759 434l43-42 2-6 -43 43z"/>
<path fill="#000" d="M4582 581l42-27 3-3 -42 29z"/>
<path fill="#cc6" d="M3004 298l42 45 14-8 -42-45z"/>
<path fill="#000" d="M3410 554l40-15 11-7 -39 15z"/>
<path fill="#000" d="M4454 615l41-1 4 1 -42 4z"/>
<path fill="#000" d="M4848 342l44-45 1-7 -44 46z"/>
<path class="m" d="M3838 364l41-5 8 39 -40 3z"/>
<path fill="#323" d="M3539 483l40-28 10 3 -39 27z"/>
<path fill="#cc6" d="M2963 250l41 48 14-8 -41-47z"/>
<path class="m" d="M3668 406l40-24 10 22 -40 19z"/>
<path fill="#000" d="M4495 614l42-11 3-1 -41 13z"/>
<path class="m" d="M3879 359l40 0 8 39 -40 0z"/>
<path fill="#000" d="M3450 539l39-23 11-6 -39 22z"/>
<path fill="#000" d="M4713 480l43-40 3-6 -44 41z"/>
<path fill="#000" d="M4624 554l43-33 3-4 -43 34z"/>
<path fill="#000" d="M4802 392l44-44 2-6 -44 44z"/>
<path class="m" d="M3919 359l41 5 7 39 -40-5z"/>
<path fill="#000" d="M4892 297l34-35 1-7 -34 35z"/>
<path fill="#535" d="M3579 455l39-30 11 6 -40 27z"/>
<path class="m" d="M3708 382l40-21 10 26 -40 17z"/>
<path fill="#000" d="M4537 603l42-19 3-3 -42 21z"/>
<path class="m" d="M3960 364l41 9 7 37 -41-7z"/>
<path class="m" d="M4001 373l40 15 7 34 -40-12z"/>
<path fill="#000" d="M3489 516l40-27 10-6 -39 27z"/>
<path fill="#000" d="M4327 563l40 24 5 6 -41-21z"/>
<path fill="#111" d="M4286 536l41 27 4 9 -40-24z"/>
<path class="m" d="M4041 388l41 18 7 30 -41-14z"/>
<path fill="#424" d="M4245 507l41 29 5 12 -40-25z"/>
<path fill="#000" d="M4367 587l41 17 5 4 -41-15z"/>
<path fill="#737" d="M4205 478l40 29 6 16 -41-25z"/>
<path class="m" d="M4082 406l41 21 6 27 -40-18z"/>
<path fill="#a5a" d="M4164 452l41 26 5 20 -40-23z"/>
<path fill="#000" d="M4667 521l43-36 3-5 -43 37z"/>
<path class="m" d="M4123 427l41 25 6 23 -41-21z"/>
<path class="m" d="M3748 361l41-18 9 31 -40 13z"/>
<path fill="#000" d="M4756 440l44-42 2-6 -43 42z"/>
<path fill="#000" d="M4408 604l41 10 5 1 -41-7z"/>
<path fill="#747" d="M3618 425l40-28 10 9 -39 25z"/>
<path fill="#000" d="M4579 584l42-27 3-3 -42 27z"/>
<path fill="#000" d="M4846 348l44-45 2-6 -44 45z"/>
<path fill="#000" d="M4449 614l42 0 4 0 -41 1z"/>
<path fill="#000" d="M3529 489l39-30 11-4 -40 28z"/>
<path class="m" d="M3789 343l40-14 9 35 -40 10z"/>
<path fill="#000" d="M4491 614l42-9 4-2 -42 11z"/>
<path fill="#a5a" d="M3658 397l40-28 10 13 -40 24z"/>
<path fill="#000" d="M4710 485l44-40 2-5 -43 40z"/>
<path fill="#000" d="M4621 557l43-31 3-5 -43 33z"/>
<path fill="#000" d="M4800 398l44-43 2-7 -44 44z"/>
<path class="m" d="M3829 329l41-9 9 39 -41 5z"/>
<path fill="#000" d="M4890 303l34-35 2-6 -34 35z"/>
<path fill="#000" d="M3568 459l40-30 10-4 -39 30z"/>
<path fill="#000" d="M4533 605l42-18 4-3 -42 19z"/>
<path class="m" d="M3870 320l41-1 8 40 -40 0z"/>
<path fill="#d7d" d="M3698 369l41-26 9 18 -40 21z"/>
<path class="m" d="M3911 319l41 6 8 39 -41-5z"/>
<path fill="#000" d="M4664 526l44-36 2-5 -43 36z"/>
<path fill="#000" d="M4322 559l41 26 4 2 -40-24z"/>
<path fill="#000" d="M4754 445l44-41 2-6 -44 42z"/>
<path fill="#000" d="M4363 585l41 19 4 0 -41-17z"/>
<path fill="#000" d="M4281 529l41 30 5 4 -41-27z"/>
<path fill="#000" d="M4240 497l41 32 5 7 -41-29z"/>
<path fill="#000" d="M4404 604l41 11 4-1 -41-10z"/>
<path class="m" d="M3952 325l41 13 8 35 -41-9z"/>
<path fill="#000" d="M4844 355l45-45 1-7 -44 45z"/>
<path fill="#000" d="M4575 587l43-25 3-5 -42 27z"/>
<path fill="#111" d="M4199 465l41 32 5 10 -40-29z"/>
<path fill="#000" d="M3608 429l40-30 10-2 -40 28z"/>
<path class="m" d="M3993 338l41 18 7 32 -40-15z"/>
<path fill="#424" d="M4158 434l41 31 6 13 -41-26z"/>
<path fill="#848" d="M4117 405l41 29 6 18 -41-25z"/>
<path class="m" d="M4034 356l42 23 6 27 -41-18z"/>
<path fill="#d7d" d="M4076 379l41 26 6 22 -41-21z"/>
<path fill="#000" d="M4445 615l42 2 4-3 -42 0z"/>
<path class="m" d="M3739 343l40-24 10 24 -41 18z"/>
<path fill="#000" d="M4487 617l42-8 4-4 -42 9z"/>
<path fill="#000" d="M4708 490l44-38 2-7 -44 40z"/>
<path fill="#000" d="M4618 562l44-31 2-5 -43 31z"/>
<path fill="#000" d="M4798 404l45-43 1-6 -44 43z"/>
<path fill="#000" d="M3648 399l41-29 9-1 -40 28z"/>
<path class="m" d="M3779 319l41-21 9 31 -40 14z"/>
<path fill="#000" d="M4889 310l34-35 1-7 -34 35z"/>
<path fill="#000" d="M4529 609l43-17 3-5 -42 18z"/>
<path class="m" d="M3820 298l42-15 8 37 -41 9z"/>
<path fill="#101" d="M3689 370l40-28 10 1 -41 26z"/>
<path fill="#000" d="M4662 531l43-35 3-6 -44 36z"/>
<path fill="#000" d="M4752 452l44-41 2-7 -44 41z"/>
<path fill="#000" d="M4317 560l41 27 5-2 -41-26z"/>
<path fill="#000" d="M4358 587l41 21 5-4 -41-19z"/>
<path fill="#000" d="M4843 361l45-45 1-6 -45 45z"/>
<path fill="#000" d="M4275 528l42 32 5-1 -41-30z"/>
<path fill="#000" d="M4572 592l43-24 3-6 -43 25z"/>
<path fill="#000" d="M4399 608l42 12 4-5 -41-11z"/>
<path class="m" d="M3862 283l41-5 8 41 -41 1z"/>
<path fill="#000" d="M4234 493l41 35 6 1 -41-32z"/>
<path fill="#000" d="M4193 459l41 34 6 4 -41-32z"/>
<path fill="#110" d="M4441 620l42 3 4-6 -42-2z"/>
<path fill="#000" d="M4152 425l41 34 6 6 -41-31z"/>
<path class="m" d="M3903 278l41 9 8 38 -41-6z"/>
<path fill="#000" d="M4110 393l42 32 6 9 -41-29z"/>
<path fill="#313" d="M3729 342l41-28 9 5 -40 24z"/>
<path class="m" d="M3944 287l42 20 7 31 -41-13z"/>
<path fill="#424" d="M4069 362l41 31 7 12 -41-26z"/>
<path fill="#949" d="M4027 333l42 29 7 17 -42-23z"/>
<path class="m" d="M3986 307l41 26 7 23 -41-18z"/>
<path fill="#000" d="M4483 623l42-7 4-7 -42 8z"/>
<path fill="#000" d="M4705 496l45-38 2-6 -44 38z"/>
<path fill="#000" d="M4796 411l45-43 2-7 -45 43z"/>
<path fill="#000" d="M4615 568l44-30 3-7 -44 31z"/>
<path fill="#000" d="M4888 316l34-35 1-6 -34 35z"/>
<path fill="#000" d="M4525 616l43-17 4-7 -43 17z"/>
<path fill="#737" d="M3770 314l41-26 9 10 -41 21z"/>
<path fill="#000" d="M4659 538l44-35 2-7 -43 35z"/>
<path fill="#000" d="M4750 458l44-40 2-7 -44 41z"/>
<path fill="#552" d="M4353 595l41 21 5-8 -41-21z"/>
<path fill="#442" d="M4311 566l42 29 5-8 -41-27z"/>
<path fill="#000" d="M4841 368l45-45 2-7 -45 45z"/>
<path fill="#000" d="M4568 599l44-23 3-8 -43 24z"/>
<path fill="#442" d="M4270 534l41 32 6-6 -42-32z"/>
<path fill="#552" d="M4394 616l42 13 5-9 -42-12z"/>
<path fill="#d7d" d="M3811 288l42-27 9 22 -42 15z"/>
<path fill="#332" d="M4228 498l42 36 5-6 -41-35z"/>
<path fill="#552" d="M4436 629l43 3 4-9 -42-3z"/>
<path fill="#331" d="M4187 463l41 35 6-5 -41-34z"/>
<path fill="#221" d="M4145 428l42 35 6-4 -41-34z"/>
<path fill="#000" d="M4103 393l42 35 7-3 -42-32z"/>
<path fill="#442" d="M4479 632l42-7 4-9 -42 7z"/>
<path class="m" d="M3853 261l41-25 9 42 -41 5z"/>
<path fill="#000" d="M4703 503l44-38 3-7 -45 38z"/>
<path fill="#000" d="M4794 418l45-43 2-7 -45 43z"/>
<path fill="#000" d="M4062 360l41 33 7 0 -41-31z"/>
<path fill="#000" d="M4612 576l44-30 3-8 -44 30z"/>
<path fill="#000" d="M4886 323l35-35 1-7 -34 35z"/>
<path fill="#000" d="M4020 328l42 32 7 2 -42-29z"/>
<path fill="#000" d="M3978 297l42 31 7 5 -41-26z"/>
<path class="m" d="M3894 236l42 30 8 21 -41-9z"/>
<path fill="#424" d="M3936 266l42 31 8 10 -42-20z"/>
<path fill="#331" d="M4521 625l44-16 3-10 -43 17z"/>
<path fill="#000" d="M4747 465l45-40 2-7 -44 40z"/>
<path fill="#000" d="M4656 546l44-35 3-8 -44 35z"/>
<path fill="#000" d="M4839 375l46-45 1-7 -45 45z"/>
<path fill="#221" d="M4565 609l43-24 4-9 -44 23z"/>
<path fill="#000" d="M4700 511l45-37 2-9 -44 38z"/>
<path fill="#000" d="M4792 425l46-42 1-8 -45 43z"/>
<path fill="#110" d="M4608 585l45-30 3-9 -44 30z"/>
<path fill="#000" d="M4885 330l35-35 1-7 -35 35z"/>
<path fill="#110" d="M4653 555l44-34 3-10 -44 35z"/>
<path fill="#000" d="M4745 474l45-41 2-8 -45 40z"/>
<path fill="#000" d="M4838 383l45-45 2-8 -46 45z"/>
<path fill="#000" d="M4697 521l45-38 3-9 -45 37z"/>
<path fill="#000" d="M4790 433l46-42 2-8 -46 42z"/>
<path fill="#000" d="M4883 338l35-35 2-8 -35 35z"/>
<path fill="#000" d="M4742 483l46-41 2-9 -45 41z"/>
<path fill="#000" d="M4836 391l46-45 1-8 -45 45z"/>
<path fill="#000" d="M4788 442l46-43 2-8 -46 42z"/>
<path fill="#000" d="M4882 346l35-35 1-8 -35 35z"/>
<path fill="#000" d="M4834 399l46-45 2-8 -46 45z"/>
<path fill="#000" d="M4880 354l36-35 1-8 -35 35z"/>
</g>
<path d="M302.7 142.5 L295.8 16.8" stroke="#000" stroke-width="1.3" fill="none"/>
<path d="M302.7 142.5 L484.7 158.8" stroke="#000" stroke-width="1.3" fill="none"/>
<path d="M484.7 158.8 L488.4 122.6" stroke="#000" stroke-width="1.3" fill="none"/>
<path d="M313.8 143.5 l0.3 3.0" stroke="#000" stroke-width="1" fill="none"/>
<path d="M332.5 145.2 l0.3 1.8" stroke="#000" stroke-width="1" fill="none"/>
<path d="M351.4 146.9 l0.3 3.0" stroke="#000" stroke-width="1" fill="none"/>
<path d="M370.5 148.6 l0.3 1.8" stroke="#000" stroke-width="1" fill="none"/>
<path d="M389.8 150.3 l0.3 3.0" stroke="#000" stroke-width="1" fill="none"/>
<path d="M409.3 152.0 l0.3 1.8" stroke="#000" stroke-width="1" fill="none"/>
<path d="M429.1 153.8 l0.3 3.0" stroke="#000" stroke-width="1" fill="none"/>
<path d="M449.1 155.6 l0.3 1.8" stroke="#000" stroke-width="1" fill="none"/>
<path d="M469.3 157.4 l0.3 3.0" stroke="#000" stroke-width="1" fill="none"/>
<path d="M484.7 158.8 l6.5 0.0" stroke="#000" stroke-width="1" fill="none"/>
<path d="M485.7 148.6 l3.5 0.0" stroke="#000" stroke-width="1" fill="none"/>
<path d="M486.7 139.2 l6.5 0.0" stroke="#000" stroke-width="1" fill="none"/>
<path d="M487.6 130.6 l3.5 0.0" stroke="#000" stroke-width="1" fill="none"/>
<path d="M488.4 122.6 l6.5 0.0" stroke="#000" stroke-width="1" fill="none"/>
<path d="M302.4 137.0 l1.8 0.0" stroke="#000" stroke-width="1" fill="none"/>
<path d="M300.9 108.9 l1.0 0.0" stroke="#000" stroke-width="1" fill="none"/>
<path d="M299.3 79.9 l1.8 0.0" stroke="#000" stroke-width="1" fill="none"/>
<path d="M297.6 49.8 l1.0 0.0" stroke="#000" stroke-width="1" fill="none"/>
<path d="M295.9 18.7 l1.8 0.0" stroke="#000" stroke-width="1" fill="none"/>
<clipPath id="clipc"><rect x="34.6" y="199.5" width="227.4" height="183.5"/></clipPath>
<g clip-path="url(#clipc)">
<path d="M34.6 169.8 L35.4 176.0 L36.1 182.3 L36.9 188.5 L37.6 194.7 L38.4 200.9 L39.1 207.1 L39.9 213.2 L40.7 219.4 L41.4 225.6 L42.2 231.7 L42.9 237.9 L43.7 244.0 L44.5 250.1 L45.2 256.2 L46.0 262.3 L46.7 268.4 L47.5 274.5 L48.2 280.5 L49.0 286.6 L49.8 292.6 L50.5 298.5 L51.3 304.5 L52.0 310.4 L52.8 316.3 L53.6 322.2 L54.3 328.0 L55.1 333.7 L55.8 339.3 L56.6 344.8 L57.3 350.1 L58.1 355.1 L58.9 359.6 L59.6 363.4 L60.4 365.9 L61.1 366.5 L61.5 366.1 L61.9 365.1 L62.6 362.1 L63.4 358.0 L64.2 353.4 L64.9 348.5 L65.7 343.3 L66.4 338.0 L67.2 332.7 L68.0 327.3 L68.7 321.8 L69.5 316.4 L70.2 311.0 L71.0 305.6 L71.7 300.2 L72.5 294.9 L73.3 289.6 L74.0 284.7 L74.8 287.3 L75.5 290.3 L76.3 293.1 L77.0 295.7 L77.8 298.2 L78.6 300.5 L79.3 302.6 L80.1 304.5 L80.8 306.2 L81.6 307.7 L82.4 308.9 L83.1 309.9 L83.9 310.7 L84.6 311.2 L85.4 311.6 L86.1 311.6 L86.9 311.5 L87.7 311.1 L88.4 310.5 L89.2 309.8 L89.9 308.8 L90.7 307.7 L91.5 306.4 L92.2 305.0 L93.0 303.5 L93.7 301.8 L94.5 300.1 L95.2 298.3 L96.0 296.4 L96.8 294.4 L97.5 292.4 L98.3 290.4 L99.0 288.3 L99.8 286.2 L100.5 284.1 L101.3 282.0 L102.1 279.8 L102.8 277.7 L103.6 275.6 L104.3 273.5 L105.1 271.4 L105.9 269.3 L106.6 267.3 L107.4 265.2 L108.1 263.2 L108.9 261.3 L109.6 259.4 L110.4 257.5 L111.2 255.6 L111.9 253.8 L112.7 252.1 L113.4 250.4 L114.2 248.7 L114.9 247.1 L115.7 245.5 L116.5 243.9 L117.2 242.5 L118.0 241.0 L118.7 239.7 L119.5 238.3 L120.3 237.0 L121.0 235.8 L121.8 234.6 L122.5 233.5 L123.3 232.4 L124.0 231.4 L124.8 230.4 L125.6 229.5 L126.3 228.6 L127.1 227.8 L127.8 227.0 L128.6 226.2 L129.4 225.6 L130.1 224.9 L130.9 224.3 L131.6 223.8 L132.4 223.3 L133.1 222.8 L133.9 222.4 L134.7 222.0 L135.4 221.7 L136.2 221.4 L136.9 221.1 L137.7 220.9 L138.4 220.7 L139.2 220.5 L140.0 220.4 L140.7 220.2 L141.5 220.1 L142.2 220.0 L143.0 219.9 L143.8 219.9 L144.5 219.8 L145.3 219.8 L146.0 219.7 L146.8 219.7 L147.5 219.7 L148.3 219.7 L149.1 219.7 L149.8 219.7 L150.6 219.7 L151.3 219.8 L152.1 219.8 L152.8 219.9 L153.6 219.9 L154.4 220.0 L155.1 220.1 L155.9 220.2 L156.6 220.4 L157.4 220.5 L158.2 220.7 L158.9 220.9 L159.7 221.1 L160.4 221.4 L161.2 221.7 L161.9 222.0 L162.7 222.4 L163.5 222.8 L164.2 223.3 L165.0 223.8 L165.7 224.3 L166.5 224.9 L167.2 225.6 L168.0 226.2 L168.8 227.0 L169.5 227.8 L170.3 228.6 L171.0 229.5 L171.8 230.4 L172.6 231.4 L173.3 232.4 L174.1 233.5 L174.8 234.6 L175.6 235.8 L176.3 237.0 L177.1 238.3 L177.9 239.7 L178.6 241.0 L179.4 242.5 L180.1 243.9 L180.9 245.5 L181.7 247.1 L182.4 248.7 L183.2 250.4 L183.9 252.1 L184.7 253.8 L185.4 255.6 L186.2 257.5 L187.0 259.4 L187.7 261.3 L188.5 263.2 L189.2 265.2 L190.0 267.3 L190.7 269.3 L191.5 271.4 L192.3 273.5 L193.0 275.6 L193.8 277.7 L194.5 279.8 L195.3 282.0 L196.1 284.1 L196.8 286.2 L197.6 288.3 L198.3 290.4 L199.1 292.4 L199.8 294.4 L200.6 296.4 L201.4 298.3 L202.1 300.1 L202.9 301.8 L203.6 303.5 L204.4 305.0 L205.2 306.4 L205.9 307.7 L206.7 308.8 L207.4 309.8 L208.2 310.5 L208.9 311.1 L209.7 311.5 L210.5 311.6 L211.2 311.6 L212.0 311.2 L212.7 310.7 L213.5 309.9 L214.2 308.9 L215.0 307.7 L215.8 306.2 L216.5 304.5 L217.3 302.6 L218.0 300.5 L218.8 298.2 L219.6 295.7 L220.3 293.1 L221.1 290.3 L221.8 287.3 L222.6 284.7 L223.3 289.6 L224.1 294.9 L224.9 300.2 L225.6 305.6 L226.4 311.0 L227.1 316.4 L227.9 321.8 L228.6 327.3 L229.4 332.7 L230.2 338.0 L230.9 343.3 L231.7 348.5 L232.4 353.4 L233.2 358.0 L234.0 362.1 L234.7 365.1 L235.1 366.1 L235.5 366.5 L236.2 365.9 L237.0 363.4 L237.7 359.6 L238.5 355.1 L239.3 350.1 L240.0 344.8 L240.8 339.3 L241.5 333.7 L242.3 328.0 L243.1 322.2 L243.8 316.3 L244.6 310.4 L245.3 304.5 L246.1 298.5 L246.8 292.6 L247.6 286.6 L248.4 280.5 L249.1 274.5 L249.9 268.4 L250.6 262.3 L251.4 256.2 L252.1 250.1 L252.9 244.0 L253.7 237.9 L254.4 231.7 L255.2 225.6 L255.9 219.4 L256.7 213.2 L257.5 207.1 L258.2 200.9 L259.0 194.7 L259.7 188.5 L260.5 182.3 L261.2 176.0 L262.0 169.8 L262.0 169.8 L261.2 176.1 L260.5 182.3 L259.7 188.5 L259.0 194.7 L258.2 200.9 L257.5 207.1 L256.7 213.3 L255.9 219.4 L255.2 225.6 L254.4 231.8 L253.7 237.9 L252.9 244.1 L252.1 250.2 L251.4 256.3 L250.6 262.4 L249.9 268.5 L249.1 274.6 L248.4 280.7 L247.6 286.7 L246.8 292.8 L246.1 298.8 L245.3 304.8 L244.6 310.8 L243.8 316.8 L243.1 322.7 L242.3 328.7 L241.5 334.6 L240.8 340.4 L240.0 346.3 L239.3 352.1 L238.5 357.9 L237.7 363.6 L237.0 369.3 L236.2 375.0 L235.5 380.6 L235.1 383.0 L234.7 379.9 L234.0 374.4 L233.2 369.1 L232.4 363.8 L231.7 358.7 L230.9 353.7 L230.2 348.9 L229.4 344.4 L228.6 340.1 L227.9 336.2 L227.1 332.6 L226.4 329.6 L225.6 327.2 L224.9 325.4 L224.1 324.4 L223.3 324.1 L222.6 324.4 L221.8 325.3 L221.1 326.8 L220.3 328.6 L219.6 330.8 L218.8 333.2 L218.0 335.8 L217.3 338.5 L216.5 341.4 L215.8 344.3 L215.0 347.2 L214.2 350.1 L213.5 353.1 L212.7 356.0 L212.0 358.9 L211.2 361.8 L210.5 364.7 L209.7 367.5 L208.9 370.2 L208.2 372.9 L207.4 375.5 L206.7 378.1 L205.9 380.6 L205.2 383.0 L204.4 380.7 L203.6 378.4 L202.9 376.3 L202.1 374.2 L201.4 372.2 L200.6 370.3 L199.8 368.5 L199.1 366.8 L198.3 365.2 L197.6 363.7 L196.8 362.2 L196.1 360.9 L195.3 359.7 L194.5 358.6 L193.8 357.5 L193.0 356.6 L192.3 355.7 L191.5 355.0 L190.7 354.3 L190.0 353.7 L189.2 353.2 L188.5 352.8 L187.7 352.4 L187.0 352.2 L186.2 352.0 L185.4 351.9 L184.7 351.8 L183.9 351.8 L183.2 351.9 L182.4 352.0 L181.7 352.2 L180.9 352.4 L180.1 352.7 L179.4 353.1 L178.6 353.4 L177.9 353.8 L177.1 354.3 L176.3 354.8 L175.6 355.3 L174.8 355.9 L174.1 356.4 L173.3 357.0 L172.6 357.7 L171.8 358.3 L171.0 359.0 L170.3 359.7 L169.5 360.4 L168.8 361.1 L168.0 361.8 L167.2 362.6 L166.5 363.3 L165.7 364.1 L165.0 364.9 L164.2 365.7 L163.5 366.5 L162.7 367.3 L161.9 368.1 L161.2 368.9 L160.4 369.7 L159.7 370.5 L158.9 371.3 L158.2 372.1 L157.4 373.0 L156.6 373.8 L155.9 374.6 L155.1 375.5 L154.4 376.3 L153.6 377.1 L152.8 378.0 L152.1 378.8 L151.3 379.6 L150.6 380.5 L149.8 381.3 L149.1 382.2 L148.3 383.0 L147.5 382.2 L146.8 381.3 L146.0 380.5 L145.3 379.6 L144.5 378.8 L143.8 378.0 L143.0 377.1 L142.2 376.3 L141.5 375.5 L140.7 374.6 L140.0 373.8 L139.2 373.0 L138.4 372.1 L137.7 371.3 L136.9 370.5 L136.2 369.7 L135.4 368.9 L134.7 368.1 L133.9 367.3 L133.1 366.5 L132.4 365.7 L131.6 364.9 L130.9 364.1 L130.1 363.3 L129.4 362.6 L128.6 361.8 L127.8 361.1 L127.1 360.4 L126.3 359.7 L125.6 359.0 L124.8 358.3 L124.0 357.7 L123.3 357.0 L122.5 356.4 L121.8 355.9 L121.0 355.3 L120.3 354.8 L119.5 354.3 L118.7 353.8 L118.0 353.4 L117.2 353.1 L116.5 352.7 L115.7 352.4 L114.9 352.2 L114.2 352.0 L113.4 351.9 L112.7 351.8 L111.9 351.8 L111.2 351.9 L110.4 352.0 L109.6 352.2 L108.9 352.4 L108.1 352.8 L107.4 353.2 L106.6 353.7 L105.9 354.3 L105.1 355.0 L104.3 355.7 L103.6 356.6 L102.8 357.5 L102.1 358.6 L101.3 359.7 L100.5 360.9 L99.8 362.2 L99.0 363.7 L98.3 365.2 L97.5 366.8 L96.8 368.5 L96.0 370.3 L95.2 372.2 L94.5 374.2 L93.7 376.3 L93.0 378.4 L92.2 380.7 L91.5 383.0 L90.7 380.6 L89.9 378.1 L89.2 375.5 L88.4 372.9 L87.7 370.2 L86.9 367.5 L86.1 364.7 L85.4 361.8 L84.6 358.9 L83.9 356.0 L83.1 353.1 L82.4 350.1 L81.6 347.2 L80.8 344.3 L80.1 341.4 L79.3 338.5 L78.6 335.8 L77.8 333.2 L77.0 330.8 L76.3 328.6 L75.5 326.8 L74.8 325.3 L74.0 324.4 L73.3 324.1 L72.5 324.4 L71.7 325.4 L71.0 327.2 L70.2 329.6 L69.5 332.6 L68.7 336.2 L68.0 340.1 L67.2 344.4 L66.4 348.9 L65.7 353.7 L64.9 358.7 L64.2 363.8 L63.4 369.1 L62.6 374.4 L61.9 379.9 L61.5 383.0 L61.1 380.6 L60.4 375.0 L59.6 369.3 L58.9 363.6 L58.1 357.9 L57.3 352.1 L56.6 346.3 L55.8 340.4 L55.1 334.6 L54.3 328.7 L53.6 322.7 L52.8 316.8 L52.0 310.8 L51.3 304.8 L50.5 298.8 L49.8 292.8 L49.0 286.7 L48.2 280.7 L47.5 274.6 L46.7 268.5 L46.0 262.4 L45.2 256.3 L44.5 250.2 L43.7 244.1 L42.9 237.9 L42.2 231.8 L41.4 225.6 L40.7 219.4 L39.9 213.3 L39.1 207.1 L38.4 200.9 L37.6 194.7 L36.9 188.5 L36.1 182.3 L35.4 176.1 L34.6 169.8Z" fill="#d6d6fa" stroke="none"/>
<path d="M34.6 169.8 L35.4 176.0 L36.1 182.3 L36.9 188.5 L37.6 194.7 L38.4 200.9 L39.1 207.1 L39.9 213.2 L40.7 219.4 L41.4 225.6 L42.2 231.7 L42.9 237.9 L43.7 244.0 L44.5 250.1 L45.2 256.2 L46.0 262.3 L46.7 268.4 L47.5 274.5 L48.2 280.5 L49.0 286.6 L49.8 292.6 L50.5 298.5 L51.3 304.5 L52.0 310.4 L52.8 316.3 L53.6 322.2 L54.3 328.0 L55.1 333.7 L55.8 339.3 L56.6 344.8 L57.3 350.1 L58.1 355.1 L58.9 359.6 L59.6 363.4 L60.4 365.9 L61.1 366.5 L61.5 366.1 L61.9 365.1 L62.6 362.1 L63.4 358.0 L64.2 353.4 L64.9 348.5 L65.7 343.3 L66.4 338.0 L67.2 332.7 L68.0 327.3 L68.7 321.8 L69.5 316.4 L70.2 311.0 L71.0 305.6 L71.7 300.2 L72.5 294.9 L73.3 289.6 L74.0 284.7 L74.8 287.3 L75.5 290.3 L76.3 293.1 L77.0 295.7 L77.8 298.2 L78.6 300.5 L79.3 302.6 L80.1 304.5 L80.8 306.2 L81.6 307.7 L82.4 308.9 L83.1 309.9 L83.9 310.7 L84.6 311.2 L85.4 311.6 L86.1 311.6 L86.9 311.5 L87.7 311.1 L88.4 310.5 L89.2 309.8 L89.9 308.8 L90.7 307.7 L91.5 306.4 L92.2 305.0 L93.0 303.5 L93.7 301.8 L94.5 300.1 L95.2 298.3 L96.0 296.4 L96.8 294.4 L97.5 292.4 L98.3 290.4 L99.0 288.3 L99.8 286.2 L100.5 284.1 L101.3 282.0 L102.1 279.8 L102.8 277.7 L103.6 275.6 L104.3 273.5 L105.1 271.4 L105.9 269.3 L106.6 267.3 L107.4 265.2 L108.1 263.2 L108.9 261.3 L109.6 259.4 L110.4 257.5 L111.2 255.6 L111.9 253.8 L112.7 252.1 L113.4 250.4 L114.2 248.7 L114.9 247.1 L115.7 245.5 L116.5 243.9 L117.2 242.5 L118.0 241.0 L118.7 239.7 L119.5 238.3 L120.3 237.0 L121.0 235.8 L121.8 234.6 L122.5 233.5 L123.3 232.4 L124.0 231.4 L124.8 230.4 L125.6 229.5 L126.3 228.6 L127.1 227.8 L127.8 227.0 L128.6 226.2 L129.4 225.6 L130.1 224.9 L130.9 224.3 L131.6 223.8 L132.4 223.3 L133.1 222.8 L133.9 222.4 L134.7 222.0 L135.4 221.7 L136.2 221.4 L136.9 221.1 L137.7 220.9 L138.4 220.7 L139.2 220.5 L140.0 220.4 L140.7 220.2 L141.5 220.1 L142.2 220.0 L143.0 219.9 L143.8 219.9 L144.5 219.8 L145.3 219.8 L146.0 219.7 L146.8 219.7 L147.5 219.7 L148.3 219.7 L149.1 219.7 L149.8 219.7 L150.6 219.7 L151.3 219.8 L152.1 219.8 L152.8 219.9 L153.6 219.9 L154.4 220.0 L155.1 220.1 L155.9 220.2 L156.6 220.4 L157.4 220.5 L158.2 220.7 L158.9 220.9 L159.7 221.1 L160.4 221.4 L161.2 221.7 L161.9 222.0 L162.7 222.4 L163.5 222.8 L164.2 223.3 L165.0 223.8 L165.7 224.3 L166.5 224.9 L167.2 225.6 L168.0 226.2 L168.8 227.0 L169.5 227.8 L170.3 228.6 L171.0 229.5 L171.8 230.4 L172.6 231.4 L173.3 232.4 L174.1 233.5 L174.8 234.6 L175.6 235.8 L176.3 237.0 L177.1 238.3 L177.9 239.7 L178.6 241.0 L179.4 242.5 L180.1 243.9 L180.9 245.5 L181.7 247.1 L182.4 248.7 L183.2 250.4 L183.9 252.1 L184.7 253.8 L185.4 255.6 L186.2 257.5 L187.0 259.4 L187.7 261.3 L188.5 263.2 L189.2 265.2 L190.0 267.3 L190.7 269.3 L191.5 271.4 L192.3 273.5 L193.0 275.6 L193.8 277.7 L194.5 279.8 L195.3 282.0 L196.1 284.1 L196.8 286.2 L197.6 288.3 L198.3 290.4 L199.1 292.4 L199.8 294.4 L200.6 296.4 L201.4 298.3 L202.1 300.1 L202.9 301.8 L203.6 303.5 L204.4 305.0 L205.2 306.4 L205.9 307.7 L206.7 308.8 L207.4 309.8 L208.2 310.5 L208.9 311.1 L209.7 311.5 L210.5 311.6 L211.2 311.6 L212.0 311.2 L212.7 310.7 L213.5 309.9 L214.2 308.9 L215.0 307.7 L215.8 306.2 L216.5 304.5 L217.3 302.6 L218.0 300.5 L218.8 298.2 L219.6 295.7 L220.3 293.1 L221.1 290.3 L221.8 287.3 L222.6 284.7 L223.3 289.6 L224.1 294.9 L224.9 300.2 L225.6 305.6 L226.4 311.0 L227.1 316.4 L227.9 321.8 L228.6 327.3 L229.4 332.7 L230.2 338.0 L230.9 343.3 L231.7 348.5 L232.4 353.4 L233.2 358.0 L234.0 362.1 L234.7 365.1 L235.1 366.1 L235.5 366.5 L236.2 365.9 L237.0 363.4 L237.7 359.6 L238.5 355.1 L239.3 350.1 L240.0 344.8 L240.8 339.3 L241.5 333.7 L242.3 328.0 L243.1 322.2 L243.8 316.3 L244.6 310.4 L245.3 304.5 L246.1 298.5 L246.8 292.6 L247.6 286.6 L248.4 280.5 L249.1 274.5 L249.9 268.4 L250.6 262.3 L251.4 256.2 L252.1 250.1 L252.9 244.0 L253.7 237.9 L254.4 231.7 L255.2 225.6 L255.9 219.4 L256.7 213.2 L257.5 207.1 L258.2 200.9 L259.0 194.7 L259.7 188.5 L260.5 182.3 L261.2 176.0 L262.0 169.8" fill="none" stroke="#0000ff" stroke-width="1.4" stroke-linejoin="round"/>
<path d="M34.6 169.8 L35.4 176.1 L36.1 182.3 L36.9 188.5 L37.6 194.7 L38.4 200.9 L39.1 207.1 L39.9 213.3 L40.7 219.4 L41.4 225.6 L42.2 231.8 L42.9 237.9 L43.7 244.1 L44.5 250.2 L45.2 256.3 L46.0 262.4 L46.7 268.5 L47.5 274.6 L48.2 280.7 L49.0 286.7 L49.8 292.8 L50.5 298.8 L51.3 304.8 L52.0 310.8 L52.8 316.8 L53.6 322.7 L54.3 328.7 L55.1 334.6 L55.8 340.4 L56.6 346.3 L57.3 352.1 L58.1 357.9 L58.9 363.6 L59.6 369.3 L60.4 375.0 L61.1 380.6 L61.5 383.0 L61.9 379.9 L62.6 374.4 L63.4 369.1 L64.2 363.8 L64.9 358.7 L65.7 353.7 L66.4 348.9 L67.2 344.4 L68.0 340.1 L68.7 336.2 L69.5 332.6 L70.2 329.6 L71.0 327.2 L71.7 325.4 L72.5 324.4 L73.3 324.1 L74.0 324.4 L74.8 325.3 L75.5 326.8 L76.3 328.6 L77.0 330.8 L77.8 333.2 L78.6 335.8 L79.3 338.5 L80.1 341.4 L80.8 344.3 L81.6 347.2 L82.4 350.1 L83.1 353.1 L83.9 356.0 L84.6 358.9 L85.4 361.8 L86.1 364.7 L86.9 367.5 L87.7 370.2 L88.4 372.9 L89.2 375.5 L89.9 378.1 L90.7 380.6 L91.5 383.0 L92.2 380.7 L93.0 378.4 L93.7 376.3 L94.5 374.2 L95.2 372.2 L96.0 370.3 L96.8 368.5 L97.5 366.8 L98.3 365.2 L99.0 363.7 L99.8 362.2 L100.5 360.9 L101.3 359.7 L102.1 358.6 L102.8 357.5 L103.6 356.6 L104.3 355.7 L105.1 355.0 L105.9 354.3 L106.6 353.7 L107.4 353.2 L108.1 352.8 L108.9 352.4 L109.6 352.2 L110.4 352.0 L111.2 351.9 L111.9 351.8 L112.7 351.8 L113.4 351.9 L114.2 352.0 L114.9 352.2 L115.7 352.4 L116.5 352.7 L117.2 353.1 L118.0 353.4 L118.7 353.8 L119.5 354.3 L120.3 354.8 L121.0 355.3 L121.8 355.9 L122.5 356.4 L123.3 357.0 L124.0 357.7 L124.8 358.3 L125.6 359.0 L126.3 359.7 L127.1 360.4 L127.8 361.1 L128.6 361.8 L129.4 362.6 L130.1 363.3 L130.9 364.1 L131.6 364.9 L132.4 365.7 L133.1 366.5 L133.9 367.3 L134.7 368.1 L135.4 368.9 L136.2 369.7 L136.9 370.5 L137.7 371.3 L138.4 372.1 L139.2 373.0 L140.0 373.8 L140.7 374.6 L141.5 375.5 L142.2 376.3 L143.0 377.1 L143.8 378.0 L144.5 378.8 L145.3 379.6 L146.0 380.5 L146.8 381.3 L147.5 382.2 L148.3 383.0 L149.1 382.2 L149.8 381.3 L150.6 380.5 L151.3 379.6 L152.1 378.8 L152.8 378.0 L153.6 377.1 L154.4 376.3 L155.1 375.5 L155.9 374.6 L156.6 373.8 L157.4 373.0 L158.2 372.1 L158.9 371.3 L159.7 370.5 L160.4 369.7 L161.2 368.9 L161.9 368.1 L162.7 367.3 L163.5 366.5 L164.2 365.7 L165.0 364.9 L165.7 364.1 L166.5 363.3 L167.2 362.6 L168.0 361.8 L168.8 361.1 L169.5 360.4 L170.3 359.7 L171.0 359.0 L171.8 358.3 L172.6 357.7 L173.3 357.0 L174.1 356.4 L174.8 355.9 L175.6 355.3 L176.3 354.8 L177.1 354.3 L177.9 353.8 L178.6 353.4 L179.4 353.1 L180.1 352.7 L180.9 352.4 L181.7 352.2 L182.4 352.0 L183.2 351.9 L183.9 351.8 L184.7 351.8 L185.4 351.9 L186.2 352.0 L187.0 352.2 L187.7 352.4 L188.5 352.8 L189.2 353.2 L190.0 353.7 L190.7 354.3 L191.5 355.0 L192.3 355.7 L193.0 356.6 L193.8 357.5 L194.5 358.6 L195.3 359.7 L196.1 360.9 L196.8 362.2 L197.6 363.7 L198.3 365.2 L199.1 366.8 L199.8 368.5 L200.6 370.3 L201.4 372.2 L202.1 374.2 L202.9 376.3 L203.6 378.4 L204.4 380.7 L205.2 383.0 L205.9 380.6 L206.7 378.1 L207.4 375.5 L208.2 372.9 L208.9 370.2 L209.7 367.5 L210.5 364.7 L211.2 361.8 L212.0 358.9 L212.7 356.0 L213.5 353.1 L214.2 350.1 L215.0 347.2 L215.8 344.3 L216.5 341.4 L217.3 338.5 L218.0 335.8 L218.8 333.2 L219.6 330.8 L220.3 328.6 L221.1 326.8 L221.8 325.3 L222.6 324.4 L223.3 324.1 L224.1 324.4 L224.9 325.4 L225.6 327.2 L226.4 329.6 L227.1 332.6 L227.9 336.2 L228.6 340.1 L229.4 344.4 L230.2 348.9 L230.9 353.7 L231.7 358.7 L232.4 363.8 L233.2 369.1 L234.0 374.4 L234.7 379.9 L235.1 383.0 L235.5 380.6 L236.2 375.0 L237.0 369.3 L237.7 363.6 L238.5 357.9 L239.3 352.1 L240.0 346.3 L240.8 340.4 L241.5 334.6 L242.3 328.7 L243.1 322.7 L243.8 316.8 L244.6 310.8 L245.3 304.8 L246.1 298.8 L246.8 292.8 L247.6 286.7 L248.4 280.7 L249.1 274.6 L249.9 268.5 L250.6 262.4 L251.4 256.3 L252.1 250.2 L252.9 244.1 L253.7 237.9 L254.4 231.8 L255.2 225.6 L255.9 219.4 L256.7 213.3 L257.5 207.1 L258.2 200.9 L259.0 194.7 L259.7 188.5 L260.5 182.3 L261.2 176.1 L262.0 169.8" fill="none" stroke="#0000ff" stroke-width="1.4" stroke-linejoin="round"/>
<path d="M34.6 228.6 L35.4 231.7 L36.1 234.8 L36.9 238.0 L37.6 241.2 L38.4 244.5 L39.1 247.9 L39.9 251.3 L40.7 254.8 L41.4 258.3 L42.2 261.9 L42.9 265.6 L43.7 269.3 L44.5 273.2 L45.2 277.1 L46.0 281.1 L46.7 285.2 L47.5 289.3 L48.2 293.6 L49.0 297.9 L49.8 302.4 L50.5 306.9 L51.3 311.5 L52.0 316.2 L52.8 321.0 L53.6 325.9 L54.3 330.9 L55.1 335.9 L55.8 340.9 L56.6 345.9 L57.3 350.8 L58.1 355.6 L58.9 359.9 L59.6 363.6 L60.4 366.0 L61.1 366.6 L61.5 366.2 L61.9 365.2 L62.6 362.3 L63.4 358.5 L64.2 354.2 L64.9 349.7 L65.7 345.3 L66.4 341.0 L67.2 336.9 L68.0 333.1 L68.7 329.6 L69.5 326.5 L70.2 323.9 L71.0 321.6 L71.7 319.7 L72.5 318.2 L73.3 317.1 L74.0 316.3 L74.8 315.9 L75.5 315.7 L76.3 315.7 L77.0 316.0 L77.8 316.3 L78.6 316.8 L79.3 317.4 L80.1 317.9 L80.8 318.5 L81.6 319.0 L82.4 319.5 L83.1 319.9 L83.9 320.1 L84.6 320.3 L85.4 320.3 L86.1 320.2 L86.9 320.0 L87.7 319.6 L88.4 319.1 L89.2 318.4 L89.9 317.7 L90.7 316.9 L91.5 315.9 L92.2 314.9 L93.0 313.8 L93.7 312.7 L94.5 311.5 L95.2 310.4 L96.0 309.1 L96.8 307.9 L97.5 306.7 L98.3 305.5 L99.0 304.2 L99.8 303.0 L100.5 301.9 L101.3 300.7 L102.1 299.6 L102.8 298.5 L103.6 297.5 L104.3 296.5 L105.1 295.5 L105.9 294.6 L106.6 293.7 L107.4 292.8 L108.1 292.0 L108.9 291.2 L109.6 290.5 L110.4 289.7 L111.2 289.1 L111.9 288.4 L112.7 287.8 L113.4 287.3 L114.2 286.7 L114.9 286.2 L115.7 285.7 L116.5 285.3 L117.2 284.8 L118.0 284.4 L118.7 284.0 L119.5 283.6 L120.3 283.3 L121.0 283.0 L121.8 282.7 L122.5 282.4 L123.3 282.1 L124.0 281.8 L124.8 281.6 L125.6 281.3 L126.3 281.1 L127.1 280.9 L127.8 280.7 L128.6 280.5 L129.4 280.3 L130.1 280.1 L130.9 280.0 L131.6 279.8 L132.4 279.7 L133.1 279.5 L133.9 279.4 L134.7 279.3 L135.4 279.1 L136.2 279.0 L136.9 278.9 L137.7 278.8 L138.4 278.8 L139.2 278.7 L140.0 278.6 L140.7 278.5 L141.5 278.5 L142.2 278.4 L143.0 278.4 L143.8 278.3 L144.5 278.3 L145.3 278.3 L146.0 278.2 L146.8 278.2 L147.5 278.2 L148.3 278.2 L149.1 278.2 L149.8 278.2 L150.6 278.2 L151.3 278.3 L152.1 278.3 L152.8 278.3 L153.6 278.4 L154.4 278.4 L155.1 278.5 L155.9 278.5 L156.6 278.6 L157.4 278.7 L158.2 278.8 L158.9 278.8 L159.7 278.9 L160.4 279.0 L161.2 279.1 L161.9 279.3 L162.7 279.4 L163.5 279.5 L164.2 279.7 L165.0 279.8 L165.7 280.0 L166.5 280.1 L167.2 280.3 L168.0 280.5 L168.8 280.7 L169.5 280.9 L170.3 281.1 L171.0 281.3 L171.8 281.6 L172.6 281.8 L173.3 282.1 L174.1 282.4 L174.8 282.7 L175.6 283.0 L176.3 283.3 L177.1 283.6 L177.9 284.0 L178.6 284.4 L179.4 284.8 L180.1 285.3 L180.9 285.7 L181.7 286.2 L182.4 286.7 L183.2 287.3 L183.9 287.8 L184.7 288.4 L185.4 289.1 L186.2 289.7 L187.0 290.5 L187.7 291.2 L188.5 292.0 L189.2 292.8 L190.0 293.7 L190.7 294.6 L191.5 295.5 L192.3 296.5 L193.0 297.5 L193.8 298.5 L194.5 299.6 L195.3 300.7 L196.1 301.9 L196.8 303.0 L197.6 304.2 L198.3 305.5 L199.1 306.7 L199.8 307.9 L200.6 309.1 L201.4 310.4 L202.1 311.5 L202.9 312.7 L203.6 313.8 L204.4 314.9 L205.2 315.9 L205.9 316.9 L206.7 317.7 L207.4 318.4 L208.2 319.1 L208.9 319.6 L209.7 320.0 L210.5 320.2 L211.2 320.3 L212.0 320.3 L212.7 320.1 L213.5 319.9 L214.2 319.5 L215.0 319.0 L215.8 318.5 L216.5 317.9 L217.3 317.4 L218.0 316.8 L218.8 316.3 L219.6 316.0 L220.3 315.7 L221.1 315.7 L221.8 315.9 L222.6 316.3 L223.3 317.1 L224.1 318.2 L224.9 319.7 L225.6 321.6 L226.4 323.9 L227.1 326.5 L227.9 329.6 L228.6 333.1 L229.4 336.9 L230.2 341.0 L230.9 345.3 L231.7 349.7 L232.4 354.2 L233.2 358.5 L234.0 362.3 L234.7 365.2 L235.1 366.2 L235.5 366.6 L236.2 366.0 L237.0 363.6 L237.7 359.9 L238.5 355.6 L239.3 350.8 L240.0 345.9 L240.8 340.9 L241.5 335.9 L242.3 330.9 L243.1 325.9 L243.8 321.0 L244.6 316.2 L245.3 311.5 L246.1 306.9 L246.8 302.4 L247.6 297.9 L248.4 293.6 L249.1 289.3 L249.9 285.2 L250.6 281.1 L251.4 277.1 L252.1 273.2 L252.9 269.3 L253.7 265.6 L254.4 261.9 L255.2 258.3 L255.9 254.8 L256.7 251.3 L257.5 247.9 L258.2 244.5 L259.0 241.2 L259.7 238.0 L260.5 234.8 L261.2 231.7 L262.0 228.6 L262.0 228.6 L261.2 231.7 L260.5 234.8 L259.7 238.0 L259.0 241.2 L258.2 244.5 L257.5 247.9 L256.7 251.3 L255.9 254.8 L255.2 258.3 L254.4 261.9 L253.7 265.6 L252.9 269.4 L252.1 273.2 L251.4 277.1 L250.6 281.1 L249.9 285.2 L249.1 289.4 L248.4 293.7 L247.6 298.0 L246.8 302.5 L246.1 307.1 L245.3 311.7 L244.6 316.5 L243.8 321.4 L243.1 326.4 L242.3 331.5 L241.5 336.6 L240.8 341.9 L240.0 347.3 L239.3 352.7 L238.5 358.2 L237.7 363.8 L237.0 369.4 L236.2 375.0 L235.5 380.6 L235.1 383.0 L234.7 379.9 L234.0 374.5 L233.2 369.2 L232.4 364.0 L231.7 359.1 L230.9 354.5 L230.2 350.2 L229.4 346.3 L228.6 342.7 L227.9 339.6 L227.1 337.0 L226.4 334.8 L225.6 333.1 L224.9 331.9 L224.1 331.2 L223.3 330.9 L222.6 331.0 L221.8 331.5 L221.1 332.4 L220.3 333.6 L219.6 335.1 L218.8 336.9 L218.0 338.9 L217.3 341.1 L216.5 343.4 L215.8 345.9 L215.0 348.4 L214.2 351.1 L213.5 353.8 L212.7 356.5 L212.0 359.3 L211.2 362.1 L210.5 364.8 L209.7 367.6 L208.9 370.3 L208.2 372.9 L207.4 375.6 L206.7 378.1 L205.9 380.6 L205.2 383.0 L204.4 380.7 L203.6 378.4 L202.9 376.3 L202.1 374.2 L201.4 372.2 L200.6 370.3 L199.8 368.6 L199.1 366.9 L198.3 365.3 L197.6 363.8 L196.8 362.4 L196.1 361.1 L195.3 359.9 L194.5 358.8 L193.8 357.8 L193.0 356.9 L192.3 356.1 L191.5 355.4 L190.7 354.7 L190.0 354.2 L189.2 353.7 L188.5 353.3 L187.7 353.0 L187.0 352.7 L186.2 352.5 L185.4 352.4 L184.7 352.3 L183.9 352.3 L183.2 352.4 L182.4 352.5 L181.7 352.7 L180.9 352.9 L180.1 353.2 L179.4 353.5 L178.6 353.9 L177.9 354.3 L177.1 354.7 L176.3 355.2 L175.6 355.7 L174.8 356.2 L174.1 356.7 L173.3 357.3 L172.6 357.9 L171.8 358.6 L171.0 359.2 L170.3 359.9 L169.5 360.6 L168.8 361.3 L168.0 362.0 L167.2 362.7 L166.5 363.5 L165.7 364.2 L165.0 365.0 L164.2 365.7 L163.5 366.5 L162.7 367.3 L161.9 368.1 L161.2 368.9 L160.4 369.7 L159.7 370.5 L158.9 371.3 L158.2 372.2 L157.4 373.0 L156.6 373.8 L155.9 374.6 L155.1 375.5 L154.4 376.3 L153.6 377.1 L152.8 378.0 L152.1 378.8 L151.3 379.6 L150.6 380.5 L149.8 381.3 L149.1 382.2 L148.3 383.0 L147.5 382.2 L146.8 381.3 L146.0 380.5 L145.3 379.6 L144.5 378.8 L143.8 378.0 L143.0 377.1 L142.2 376.3 L141.5 375.5 L140.7 374.6 L140.0 373.8 L139.2 373.0 L138.4 372.2 L137.7 371.3 L136.9 370.5 L136.2 369.7 L135.4 368.9 L134.7 368.1 L133.9 367.3 L133.1 366.5 L132.4 365.7 L131.6 365.0 L130.9 364.2 L130.1 363.5 L129.4 362.7 L128.6 362.0 L127.8 361.3 L127.1 360.6 L126.3 359.9 L125.6 359.2 L124.8 358.6 L124.0 357.9 L123.3 357.3 L122.5 356.7 L121.8 356.2 L121.0 355.7 L120.3 355.2 L119.5 354.7 L118.7 354.3 L118.0 353.9 L117.2 353.5 L116.5 353.2 L115.7 352.9 L114.9 352.7 L114.2 352.5 L113.4 352.4 L112.7 352.3 L111.9 352.3 L111.2 352.4 L110.4 352.5 L109.6 352.7 L108.9 353.0 L108.1 353.3 L107.4 353.7 L106.6 354.2 L105.9 354.7 L105.1 355.4 L104.3 356.1 L103.6 356.9 L102.8 357.8 L102.1 358.8 L101.3 359.9 L100.5 361.1 L99.8 362.4 L99.0 363.8 L98.3 365.3 L97.5 366.9 L96.8 368.6 L96.0 370.3 L95.2 372.2 L94.5 374.2 L93.7 376.3 L93.0 378.4 L92.2 380.7 L91.5 383.0 L90.7 380.6 L89.9 378.1 L89.2 375.6 L88.4 372.9 L87.7 370.3 L86.9 367.6 L86.1 364.8 L85.4 362.1 L84.6 359.3 L83.9 356.5 L83.1 353.8 L82.4 351.1 L81.6 348.4 L80.8 345.9 L80.1 343.4 L79.3 341.1 L78.6 338.9 L77.8 336.9 L77.0 335.1 L76.3 333.6 L75.5 332.4 L74.8 331.5 L74.0 331.0 L73.3 330.9 L72.5 331.2 L71.7 331.9 L71.0 333.1 L70.2 334.8 L69.5 337.0 L68.7 339.6 L68.0 342.7 L67.2 346.3 L66.4 350.2 L65.7 354.5 L64.9 359.1 L64.2 364.0 L63.4 369.2 L62.6 374.5 L61.9 379.9 L61.5 383.0 L61.1 380.6 L60.4 375.0 L59.6 369.4 L58.9 363.8 L58.1 358.2 L57.3 352.7 L56.6 347.3 L55.8 341.9 L55.1 336.6 L54.3 331.5 L53.6 326.4 L52.8 321.4 L52.0 316.5 L51.3 311.7 L50.5 307.1 L49.8 302.5 L49.0 298.0 L48.2 293.7 L47.5 289.4 L46.7 285.2 L46.0 281.1 L45.2 277.1 L44.5 273.2 L43.7 269.4 L42.9 265.6 L42.2 261.9 L41.4 258.3 L40.7 254.8 L39.9 251.3 L39.1 247.9 L38.4 244.5 L37.6 241.2 L36.9 238.0 L36.1 234.8 L35.4 231.7 L34.6 228.6Z" fill="#ff0000" fill-opacity="0.5" stroke="none"/>
<path d="M34.6 228.6 L35.4 231.7 L36.1 234.8 L36.9 238.0 L37.6 241.2 L38.4 244.5 L39.1 247.9 L39.9 251.3 L40.7 254.8 L41.4 258.3 L42.2 261.9 L42.9 265.6 L43.7 269.3 L44.5 273.2 L45.2 277.1 L46.0 281.1 L46.7 285.2 L47.5 289.3 L48.2 293.6 L49.0 297.9 L49.8 302.4 L50.5 306.9 L51.3 311.5 L52.0 316.2 L52.8 321.0 L53.6 325.9 L54.3 330.9 L55.1 335.9 L55.8 340.9 L56.6 345.9 L57.3 350.8 L58.1 355.6 L58.9 359.9 L59.6 363.6 L60.4 366.0 L61.1 366.6 L61.5 366.2 L61.9 365.2 L62.6 362.3 L63.4 358.5 L64.2 354.2 L64.9 349.7 L65.7 345.3 L66.4 341.0 L67.2 336.9 L68.0 333.1 L68.7 329.6 L69.5 326.5 L70.2 323.9 L71.0 321.6 L71.7 319.7 L72.5 318.2 L73.3 317.1 L74.0 316.3 L74.8 315.9 L75.5 315.7 L76.3 315.7 L77.0 316.0 L77.8 316.3 L78.6 316.8 L79.3 317.4 L80.1 317.9 L80.8 318.5 L81.6 319.0 L82.4 319.5 L83.1 319.9 L83.9 320.1 L84.6 320.3 L85.4 320.3 L86.1 320.2 L86.9 320.0 L87.7 319.6 L88.4 319.1 L89.2 318.4 L89.9 317.7 L90.7 316.9 L91.5 315.9 L92.2 314.9 L93.0 313.8 L93.7 312.7 L94.5 311.5 L95.2 310.4 L96.0 309.1 L96.8 307.9 L97.5 306.7 L98.3 305.5 L99.0 304.2 L99.8 303.0 L100.5 301.9 L101.3 300.7 L102.1 299.6 L102.8 298.5 L103.6 297.5 L104.3 296.5 L105.1 295.5 L105.9 294.6 L106.6 293.7 L107.4 292.8 L108.1 292.0 L108.9 291.2 L109.6 290.5 L110.4 289.7 L111.2 289.1 L111.9 288.4 L112.7 287.8 L113.4 287.3 L114.2 286.7 L114.9 286.2 L115.7 285.7 L116.5 285.3 L117.2 284.8 L118.0 284.4 L118.7 284.0 L119.5 283.6 L120.3 283.3 L121.0 283.0 L121.8 282.7 L122.5 282.4 L123.3 282.1 L124.0 281.8 L124.8 281.6 L125.6 281.3 L126.3 281.1 L127.1 280.9 L127.8 280.7 L128.6 280.5 L129.4 280.3 L130.1 280.1 L130.9 280.0 L131.6 279.8 L132.4 279.7 L133.1 279.5 L133.9 279.4 L134.7 279.3 L135.4 279.1 L136.2 279.0 L136.9 278.9 L137.7 278.8 L138.4 278.8 L139.2 278.7 L140.0 278.6 L140.7 278.5 L141.5 278.5 L142.2 278.4 L143.0 278.4 L143.8 278.3 L144.5 278.3 L145.3 278.3 L146.0 278.2 L146.8 278.2 L147.5 278.2 L148.3 278.2 L149.1 278.2 L149.8 278.2 L150.6 278.2 L151.3 278.3 L152.1 278.3 L152.8 278.3 L153.6 278.4 L154.4 278.4 L155.1 278.5 L155.9 278.5 L156.6 278.6 L157.4 278.7 L158.2 278.8 L158.9 278.8 L159.7 278.9 L160.4 279.0 L161.2 279.1 L161.9 279.3 L162.7 279.4 L163.5 279.5 L164.2 279.7 L165.0 279.8 L165.7 280.0 L166.5 280.1 L167.2 280.3 L168.0 280.5 L168.8 280.7 L169.5 280.9 L170.3 281.1 L171.0 281.3 L171.8 281.6 L172.6 281.8 L173.3 282.1 L174.1 282.4 L174.8 282.7 L175.6 283.0 L176.3 283.3 L177.1 283.6 L177.9 284.0 L178.6 284.4 L179.4 284.8 L180.1 285.3 L180.9 285.7 L181.7 286.2 L182.4 286.7 L183.2 287.3 L183.9 287.8 L184.7 288.4 L185.4 289.1 L186.2 289.7 L187.0 290.5 L187.7 291.2 L188.5 292.0 L189.2 292.8 L190.0 293.7 L190.7 294.6 L191.5 295.5 L192.3 296.5 L193.0 297.5 L193.8 298.5 L194.5 299.6 L195.3 300.7 L196.1 301.9 L196.8 303.0 L197.6 304.2 L198.3 305.5 L199.1 306.7 L199.8 307.9 L200.6 309.1 L201.4 310.4 L202.1 311.5 L202.9 312.7 L203.6 313.8 L204.4 314.9 L205.2 315.9 L205.9 316.9 L206.7 317.7 L207.4 318.4 L208.2 319.1 L208.9 319.6 L209.7 320.0 L210.5 320.2 L211.2 320.3 L212.0 320.3 L212.7 320.1 L213.5 319.9 L214.2 319.5 L215.0 319.0 L215.8 318.5 L216.5 317.9 L217.3 317.4 L218.0 316.8 L218.8 316.3 L219.6 316.0 L220.3 315.7 L221.1 315.7 L221.8 315.9 L222.6 316.3 L223.3 317.1 L224.1 318.2 L224.9 319.7 L225.6 321.6 L226.4 323.9 L227.1 326.5 L227.9 329.6 L228.6 333.1 L229.4 336.9 L230.2 341.0 L230.9 345.3 L231.7 349.7 L232.4 354.2 L233.2 358.5 L234.0 362.3 L234.7 365.2 L235.1 366.2 L235.5 366.6 L236.2 366.0 L237.0 363.6 L237.7 359.9 L238.5 355.6 L239.3 350.8 L240.0 345.9 L240.8 340.9 L241.5 335.9 L242.3 330.9 L243.1 325.9 L243.8 321.0 L244.6 316.2 L245.3 311.5 L246.1 306.9 L246.8 302.4 L247.6 297.9 L248.4 293.6 L249.1 289.3 L249.9 285.2 L250.6 281.1 L251.4 277.1 L252.1 273.2 L252.9 269.3 L253.7 265.6 L254.4 261.9 L255.2 258.3 L255.9 254.8 L256.7 251.3 L257.5 247.9 L258.2 244.5 L259.0 241.2 L259.7 238.0 L260.5 234.8 L261.2 231.7 L262.0 228.6" fill="none" stroke="#ff0000" stroke-width="1.5" stroke-dasharray="4.5 2.5"/>
<path d="M34.6 228.6 L35.4 231.7 L36.1 234.8 L36.9 238.0 L37.6 241.2 L38.4 244.5 L39.1 247.9 L39.9 251.3 L40.7 254.8 L41.4 258.3 L42.2 261.9 L42.9 265.6 L43.7 269.4 L44.5 273.2 L45.2 277.1 L46.0 281.1 L46.7 285.2 L47.5 289.4 L48.2 293.7 L49.0 298.0 L49.8 302.5 L50.5 307.1 L51.3 311.7 L52.0 316.5 L52.8 321.4 L53.6 326.4 L54.3 331.5 L55.1 336.6 L55.8 341.9 L56.6 347.3 L57.3 352.7 L58.1 358.2 L58.9 363.8 L59.6 369.4 L60.4 375.0 L61.1 380.6 L61.5 383.0 L61.9 379.9 L62.6 374.5 L63.4 369.2 L64.2 364.0 L64.9 359.1 L65.7 354.5 L66.4 350.2 L67.2 346.3 L68.0 342.7 L68.7 339.6 L69.5 337.0 L70.2 334.8 L71.0 333.1 L71.7 331.9 L72.5 331.2 L73.3 330.9 L74.0 331.0 L74.8 331.5 L75.5 332.4 L76.3 333.6 L77.0 335.1 L77.8 336.9 L78.6 338.9 L79.3 341.1 L80.1 343.4 L80.8 345.9 L81.6 348.4 L82.4 351.1 L83.1 353.8 L83.9 356.5 L84.6 359.3 L85.4 362.1 L86.1 364.8 L86.9 367.6 L87.7 370.3 L88.4 372.9 L89.2 375.6 L89.9 378.1 L90.7 380.6 L91.5 383.0 L92.2 380.7 L93.0 378.4 L93.7 376.3 L94.5 374.2 L95.2 372.2 L96.0 370.3 L96.8 368.6 L97.5 366.9 L98.3 365.3 L99.0 363.8 L99.8 362.4 L100.5 361.1 L101.3 359.9 L102.1 358.8 L102.8 357.8 L103.6 356.9 L104.3 356.1 L105.1 355.4 L105.9 354.7 L106.6 354.2 L107.4 353.7 L108.1 353.3 L108.9 353.0 L109.6 352.7 L110.4 352.5 L111.2 352.4 L111.9 352.3 L112.7 352.3 L113.4 352.4 L114.2 352.5 L114.9 352.7 L115.7 352.9 L116.5 353.2 L117.2 353.5 L118.0 353.9 L118.7 354.3 L119.5 354.7 L120.3 355.2 L121.0 355.7 L121.8 356.2 L122.5 356.7 L123.3 357.3 L124.0 357.9 L124.8 358.6 L125.6 359.2 L126.3 359.9 L127.1 360.6 L127.8 361.3 L128.6 362.0 L129.4 362.7 L130.1 363.5 L130.9 364.2 L131.6 365.0 L132.4 365.7 L133.1 366.5 L133.9 367.3 L134.7 368.1 L135.4 368.9 L136.2 369.7 L136.9 370.5 L137.7 371.3 L138.4 372.2 L139.2 373.0 L140.0 373.8 L140.7 374.6 L141.5 375.5 L142.2 376.3 L143.0 377.1 L143.8 378.0 L144.5 378.8 L145.3 379.6 L146.0 380.5 L146.8 381.3 L147.5 382.2 L148.3 383.0 L149.1 382.2 L149.8 381.3 L150.6 380.5 L151.3 379.6 L152.1 378.8 L152.8 378.0 L153.6 377.1 L154.4 376.3 L155.1 375.5 L155.9 374.6 L156.6 373.8 L157.4 373.0 L158.2 372.2 L158.9 371.3 L159.7 370.5 L160.4 369.7 L161.2 368.9 L161.9 368.1 L162.7 367.3 L163.5 366.5 L164.2 365.7 L165.0 365.0 L165.7 364.2 L166.5 363.5 L167.2 362.7 L168.0 362.0 L168.8 361.3 L169.5 360.6 L170.3 359.9 L171.0 359.2 L171.8 358.6 L172.6 357.9 L173.3 357.3 L174.1 356.7 L174.8 356.2 L175.6 355.7 L176.3 355.2 L177.1 354.7 L177.9 354.3 L178.6 353.9 L179.4 353.5 L180.1 353.2 L180.9 352.9 L181.7 352.7 L182.4 352.5 L183.2 352.4 L183.9 352.3 L184.7 352.3 L185.4 352.4 L186.2 352.5 L187.0 352.7 L187.7 353.0 L188.5 353.3 L189.2 353.7 L190.0 354.2 L190.7 354.7 L191.5 355.4 L192.3 356.1 L193.0 356.9 L193.8 357.8 L194.5 358.8 L195.3 359.9 L196.1 361.1 L196.8 362.4 L197.6 363.8 L198.3 365.3 L199.1 366.9 L199.8 368.6 L200.6 370.3 L201.4 372.2 L202.1 374.2 L202.9 376.3 L203.6 378.4 L204.4 380.7 L205.2 383.0 L205.9 380.6 L206.7 378.1 L207.4 375.6 L208.2 372.9 L208.9 370.3 L209.7 367.6 L210.5 364.8 L211.2 362.1 L212.0 359.3 L212.7 356.5 L213.5 353.8 L214.2 351.1 L215.0 348.4 L215.8 345.9 L216.5 343.4 L217.3 341.1 L218.0 338.9 L218.8 336.9 L219.6 335.1 L220.3 333.6 L221.1 332.4 L221.8 331.5 L222.6 331.0 L223.3 330.9 L224.1 331.2 L224.9 331.9 L225.6 333.1 L226.4 334.8 L227.1 337.0 L227.9 339.6 L228.6 342.7 L229.4 346.3 L230.2 350.2 L230.9 354.5 L231.7 359.1 L232.4 364.0 L233.2 369.2 L234.0 374.5 L234.7 379.9 L235.1 383.0 L235.5 380.6 L236.2 375.0 L237.0 369.4 L237.7 363.8 L238.5 358.2 L239.3 352.7 L240.0 347.3 L240.8 341.9 L241.5 336.6 L242.3 331.5 L243.1 326.4 L243.8 321.4 L244.6 316.5 L245.3 311.7 L246.1 307.1 L246.8 302.5 L247.6 298.0 L248.4 293.7 L249.1 289.4 L249.9 285.2 L250.6 281.1 L251.4 277.1 L252.1 273.2 L252.9 269.4 L253.7 265.6 L254.4 261.9 L255.2 258.3 L255.9 254.8 L256.7 251.3 L257.5 247.9 L258.2 244.5 L259.0 241.2 L259.7 238.0 L260.5 234.8 L261.2 231.7 L262.0 228.6" fill="none" stroke="#ff0000" stroke-width="1.5" stroke-dasharray="4.5 2.5"/>
</g>
<rect x="34.6" y="199.5" width="227.4" height="183.5" fill="none" stroke="#000" stroke-width="1"/>
<path d="M53.6 383.0 v-2.2 M53.6 199.5 v2.2 M72.5 383.0 v-4.0 M72.5 199.5 v4.0 M91.5 383.0 v-2.2 M91.5 199.5 v2.2 M110.4 383.0 v-4.0 M110.4 199.5 v4.0 M129.4 383.0 v-2.2 M129.4 199.5 v2.2 M148.3 383.0 v-4.0 M148.3 199.5 v4.0 M167.2 383.0 v-2.2 M167.2 199.5 v2.2 M186.2 383.0 v-4.0 M186.2 199.5 v4.0 M205.2 383.0 v-2.2 M205.2 199.5 v2.2 M224.1 383.0 v-4.0 M224.1 199.5 v4.0 M243.1 383.0 v-2.2 M243.1 199.5 v2.2 M34.6 356.8 h2.2 M262.0 356.8 h-2.2 M34.6 330.6 h4.0 M262.0 330.6 h-4.0 M34.6 304.4 h2.2 M262.0 304.4 h-2.2 M34.6 278.2 h4.0 M262.0 278.2 h-4.0 M34.6 252.0 h2.2 M262.0 252.0 h-2.2 M34.6 225.8 h4.0 M262.0 225.8 h-4.0" stroke="#000" stroke-width="1" fill="none"/>
<clipPath id="clipd"><rect x="312.9" y="199.5" width="227.2" height="183.5"/></clipPath>
<g clip-path="url(#clipd)">
<path d="M312.9 169.8 L313.7 176.0 L314.4 182.3 L315.2 188.5 L315.9 194.7 L316.7 200.9 L317.5 207.1 L318.2 213.2 L319.0 219.4 L319.7 225.6 L320.5 231.7 L321.2 237.9 L322.0 244.0 L322.8 250.1 L323.5 256.2 L324.3 262.3 L325.0 268.4 L325.8 274.5 L326.5 280.5 L327.3 286.6 L328.1 292.6 L328.8 298.5 L329.6 304.5 L330.3 310.4 L331.1 316.3 L331.9 322.2 L332.6 328.0 L333.4 333.7 L334.1 339.3 L334.9 344.8 L335.6 350.1 L336.4 355.1 L337.2 359.6 L337.9 363.4 L338.7 365.9 L339.4 366.5 L339.8 366.1 L340.2 365.1 L340.9 362.1 L341.7 358.0 L342.5 353.4 L343.2 348.5 L344.0 343.3 L344.7 338.0 L345.5 332.7 L346.2 327.3 L347.0 321.8 L347.8 316.4 L348.5 311.0 L349.3 305.6 L350.0 300.2 L350.8 294.9 L351.5 289.6 L352.3 284.7 L353.1 287.3 L353.8 290.3 L354.6 293.1 L355.3 295.7 L356.1 298.2 L356.8 300.5 L357.6 302.6 L358.4 304.5 L359.1 306.2 L359.9 307.7 L360.6 308.9 L361.4 309.9 L362.1 310.7 L362.9 311.2 L363.7 311.6 L364.4 311.6 L365.2 311.5 L365.9 311.1 L366.7 310.5 L367.4 309.8 L368.2 308.8 L369.0 307.7 L369.7 306.4 L370.5 305.0 L371.2 303.5 L372.0 301.8 L372.7 300.1 L373.5 298.3 L374.3 296.4 L375.0 294.4 L375.8 292.4 L376.5 290.4 L377.3 288.3 L378.0 286.2 L378.8 284.1 L379.6 282.0 L380.3 279.8 L381.1 277.7 L381.8 275.6 L382.6 273.5 L383.3 271.4 L384.1 269.3 L384.9 267.3 L385.6 265.2 L386.4 263.2 L387.1 261.3 L387.9 259.4 L388.6 257.5 L389.4 255.6 L390.2 253.8 L390.9 252.1 L391.7 250.4 L392.4 248.7 L393.2 247.1 L393.9 245.5 L394.7 243.9 L395.5 242.5 L396.2 241.0 L397.0 239.7 L397.7 238.3 L398.5 237.0 L399.2 235.8 L400.0 234.6 L400.8 233.5 L401.5 232.4 L402.3 231.4 L403.0 230.4 L403.8 229.5 L404.5 228.6 L405.3 227.8 L406.1 227.0 L406.8 226.2 L407.6 225.6 L408.3 224.9 L409.1 224.3 L409.8 223.8 L410.6 223.3 L411.4 222.8 L412.1 222.4 L412.9 222.0 L413.6 221.7 L414.4 221.4 L415.1 221.1 L415.9 220.9 L416.7 220.7 L417.4 220.5 L418.2 220.4 L418.9 220.2 L419.7 220.1 L420.4 220.0 L421.2 219.9 L422.0 219.9 L422.7 219.8 L423.5 219.8 L424.2 219.7 L425.0 219.7 L425.7 219.7 L426.5 219.7 L427.3 219.7 L428.0 219.7 L428.8 219.7 L429.5 219.8 L430.3 219.8 L431.0 219.9 L431.8 219.9 L432.6 220.0 L433.3 220.1 L434.1 220.2 L434.8 220.4 L435.6 220.5 L436.3 220.7 L437.1 220.9 L437.9 221.1 L438.6 221.4 L439.4 221.7 L440.1 222.0 L440.9 222.4 L441.6 222.8 L442.4 223.3 L443.2 223.8 L443.9 224.3 L444.7 224.9 L445.4 225.6 L446.2 226.2 L446.9 227.0 L447.7 227.8 L448.5 228.6 L449.2 229.5 L450.0 230.4 L450.7 231.4 L451.5 232.4 L452.2 233.5 L453.0 234.6 L453.8 235.8 L454.5 237.0 L455.3 238.3 L456.0 239.7 L456.8 241.0 L457.5 242.5 L458.3 243.9 L459.1 245.5 L459.8 247.1 L460.6 248.7 L461.3 250.4 L462.1 252.1 L462.8 253.8 L463.6 255.6 L464.4 257.5 L465.1 259.4 L465.9 261.3 L466.6 263.2 L467.4 265.2 L468.1 267.3 L468.9 269.3 L469.7 271.4 L470.4 273.5 L471.2 275.6 L471.9 277.7 L472.7 279.8 L473.4 282.0 L474.2 284.1 L475.0 286.2 L475.7 288.3 L476.5 290.4 L477.2 292.4 L478.0 294.4 L478.7 296.4 L479.5 298.3 L480.3 300.1 L481.0 301.8 L481.8 303.5 L482.5 305.0 L483.3 306.4 L484.0 307.7 L484.8 308.8 L485.6 309.8 L486.3 310.5 L487.1 311.1 L487.8 311.5 L488.6 311.6 L489.3 311.6 L490.1 311.2 L490.9 310.7 L491.6 309.9 L492.4 308.9 L493.1 307.7 L493.9 306.2 L494.6 304.5 L495.4 302.6 L496.2 300.5 L496.9 298.2 L497.7 295.7 L498.4 293.1 L499.2 290.3 L499.9 287.3 L500.7 284.7 L501.5 289.6 L502.2 294.9 L503.0 300.2 L503.7 305.6 L504.5 311.0 L505.2 316.4 L506.0 321.8 L506.8 327.3 L507.5 332.7 L508.3 338.0 L509.0 343.3 L509.8 348.5 L510.5 353.4 L511.3 358.0 L512.1 362.1 L512.8 365.1 L513.2 366.1 L513.6 366.5 L514.3 365.9 L515.1 363.4 L515.8 359.6 L516.6 355.1 L517.4 350.1 L518.1 344.8 L518.9 339.3 L519.6 333.7 L520.4 328.0 L521.1 322.2 L521.9 316.3 L522.7 310.4 L523.4 304.5 L524.2 298.5 L524.9 292.6 L525.7 286.6 L526.5 280.5 L527.2 274.5 L528.0 268.4 L528.7 262.3 L529.5 256.2 L530.2 250.1 L531.0 244.0 L531.8 237.9 L532.5 231.7 L533.3 225.6 L534.0 219.4 L534.8 213.2 L535.5 207.1 L536.3 200.9 L537.1 194.7 L537.8 188.5 L538.6 182.3 L539.3 176.0 L540.1 169.8 L540.1 169.8 L539.3 176.1 L538.6 182.3 L537.8 188.5 L537.1 194.7 L536.3 200.9 L535.5 207.1 L534.8 213.3 L534.0 219.4 L533.3 225.6 L532.5 231.8 L531.8 237.9 L531.0 244.1 L530.2 250.2 L529.5 256.3 L528.7 262.4 L528.0 268.5 L527.2 274.6 L526.5 280.7 L525.7 286.7 L524.9 292.8 L524.2 298.8 L523.4 304.8 L522.7 310.8 L521.9 316.8 L521.1 322.7 L520.4 328.7 L519.6 334.6 L518.9 340.4 L518.1 346.3 L517.4 352.1 L516.6 357.9 L515.8 363.6 L515.1 369.3 L514.3 375.0 L513.6 380.6 L513.2 383.0 L512.8 379.9 L512.1 374.4 L511.3 369.1 L510.5 363.8 L509.8 358.7 L509.0 353.7 L508.3 348.9 L507.5 344.4 L506.8 340.1 L506.0 336.2 L505.2 332.6 L504.5 329.6 L503.7 327.2 L503.0 325.4 L502.2 324.4 L501.5 324.1 L500.7 324.4 L499.9 325.3 L499.2 326.8 L498.4 328.6 L497.7 330.8 L496.9 333.2 L496.2 335.8 L495.4 338.5 L494.6 341.4 L493.9 344.3 L493.1 347.2 L492.4 350.1 L491.6 353.1 L490.9 356.0 L490.1 358.9 L489.3 361.8 L488.6 364.7 L487.8 367.5 L487.1 370.2 L486.3 372.9 L485.6 375.5 L484.8 378.1 L484.0 380.6 L483.3 383.0 L482.5 380.7 L481.8 378.4 L481.0 376.3 L480.3 374.2 L479.5 372.2 L478.7 370.3 L478.0 368.5 L477.2 366.8 L476.5 365.2 L475.7 363.7 L475.0 362.2 L474.2 360.9 L473.4 359.7 L472.7 358.6 L471.9 357.5 L471.2 356.6 L470.4 355.7 L469.7 355.0 L468.9 354.3 L468.1 353.7 L467.4 353.2 L466.6 352.8 L465.9 352.4 L465.1 352.2 L464.4 352.0 L463.6 351.9 L462.8 351.8 L462.1 351.8 L461.3 351.9 L460.6 352.0 L459.8 352.2 L459.1 352.4 L458.3 352.7 L457.5 353.1 L456.8 353.4 L456.0 353.8 L455.3 354.3 L454.5 354.8 L453.8 355.3 L453.0 355.9 L452.2 356.4 L451.5 357.0 L450.7 357.7 L450.0 358.3 L449.2 359.0 L448.5 359.7 L447.7 360.4 L446.9 361.1 L446.2 361.8 L445.4 362.6 L444.7 363.3 L443.9 364.1 L443.2 364.9 L442.4 365.7 L441.6 366.5 L440.9 367.3 L440.1 368.1 L439.4 368.9 L438.6 369.7 L437.9 370.5 L437.1 371.3 L436.3 372.1 L435.6 373.0 L434.8 373.8 L434.1 374.6 L433.3 375.5 L432.6 376.3 L431.8 377.1 L431.0 378.0 L430.3 378.8 L429.5 379.6 L428.8 380.5 L428.0 381.3 L427.3 382.2 L426.5 383.0 L425.7 382.2 L425.0 381.3 L424.2 380.5 L423.5 379.6 L422.7 378.8 L422.0 378.0 L421.2 377.1 L420.4 376.3 L419.7 375.5 L418.9 374.6 L418.2 373.8 L417.4 373.0 L416.7 372.1 L415.9 371.3 L415.1 370.5 L414.4 369.7 L413.6 368.9 L412.9 368.1 L412.1 367.3 L411.4 366.5 L410.6 365.7 L409.8 364.9 L409.1 364.1 L408.3 363.3 L407.6 362.6 L406.8 361.8 L406.1 361.1 L405.3 360.4 L404.5 359.7 L403.8 359.0 L403.0 358.3 L402.3 357.7 L401.5 357.0 L400.8 356.4 L400.0 355.9 L399.2 355.3 L398.5 354.8 L397.7 354.3 L397.0 353.8 L396.2 353.4 L395.5 353.1 L394.7 352.7 L393.9 352.4 L393.2 352.2 L392.4 352.0 L391.7 351.9 L390.9 351.8 L390.2 351.8 L389.4 351.9 L388.6 352.0 L387.9 352.2 L387.1 352.4 L386.4 352.8 L385.6 353.2 L384.9 353.7 L384.1 354.3 L383.3 355.0 L382.6 355.7 L381.8 356.6 L381.1 357.5 L380.3 358.6 L379.6 359.7 L378.8 360.9 L378.0 362.2 L377.3 363.7 L376.5 365.2 L375.8 366.8 L375.0 368.5 L374.3 370.3 L373.5 372.2 L372.7 374.2 L372.0 376.3 L371.2 378.4 L370.5 380.7 L369.7 383.0 L369.0 380.6 L368.2 378.1 L367.4 375.5 L366.7 372.9 L365.9 370.2 L365.2 367.5 L364.4 364.7 L363.7 361.8 L362.9 358.9 L362.1 356.0 L361.4 353.1 L360.6 350.1 L359.9 347.2 L359.1 344.3 L358.4 341.4 L357.6 338.5 L356.8 335.8 L356.1 333.2 L355.3 330.8 L354.6 328.6 L353.8 326.8 L353.1 325.3 L352.3 324.4 L351.5 324.1 L350.8 324.4 L350.0 325.4 L349.3 327.2 L348.5 329.6 L347.8 332.6 L347.0 336.2 L346.2 340.1 L345.5 344.4 L344.7 348.9 L344.0 353.7 L343.2 358.7 L342.5 363.8 L341.7 369.1 L340.9 374.4 L340.2 379.9 L339.8 383.0 L339.4 380.6 L338.7 375.0 L337.9 369.3 L337.2 363.6 L336.4 357.9 L335.6 352.1 L334.9 346.3 L334.1 340.4 L333.4 334.6 L332.6 328.7 L331.9 322.7 L331.1 316.8 L330.3 310.8 L329.6 304.8 L328.8 298.8 L328.1 292.8 L327.3 286.7 L326.5 280.7 L325.8 274.6 L325.0 268.5 L324.3 262.4 L323.5 256.3 L322.8 250.2 L322.0 244.1 L321.2 237.9 L320.5 231.8 L319.7 225.6 L319.0 219.4 L318.2 213.3 L317.5 207.1 L316.7 200.9 L315.9 194.7 L315.2 188.5 L314.4 182.3 L313.7 176.1 L312.9 169.8Z" fill="#d6d6fa" stroke="none"/>
<path d="M312.9 169.8 L313.7 176.0 L314.4 182.3 L315.2 188.5 L315.9 194.7 L316.7 200.9 L317.5 207.1 L318.2 213.2 L319.0 219.4 L319.7 225.6 L320.5 231.7 L321.2 237.9 L322.0 244.0 L322.8 250.1 L323.5 256.2 L324.3 262.3 L325.0 268.4 L325.8 274.5 L326.5 280.5 L327.3 286.6 L328.1 292.6 L328.8 298.5 L329.6 304.5 L330.3 310.4 L331.1 316.3 L331.9 322.2 L332.6 328.0 L333.4 333.7 L334.1 339.3 L334.9 344.8 L335.6 350.1 L336.4 355.1 L337.2 359.6 L337.9 363.4 L338.7 365.9 L339.4 366.5 L339.8 366.1 L340.2 365.1 L340.9 362.1 L341.7 358.0 L342.5 353.4 L343.2 348.5 L344.0 343.3 L344.7 338.0 L345.5 332.7 L346.2 327.3 L347.0 321.8 L347.8 316.4 L348.5 311.0 L349.3 305.6 L350.0 300.2 L350.8 294.9 L351.5 289.6 L352.3 284.7 L353.1 287.3 L353.8 290.3 L354.6 293.1 L355.3 295.7 L356.1 298.2 L356.8 300.5 L357.6 302.6 L358.4 304.5 L359.1 306.2 L359.9 307.7 L360.6 308.9 L361.4 309.9 L362.1 310.7 L362.9 311.2 L363.7 311.6 L364.4 311.6 L365.2 311.5 L365.9 311.1 L366.7 310.5 L367.4 309.8 L368.2 308.8 L369.0 307.7 L369.7 306.4 L370.5 305.0 L371.2 303.5 L372.0 301.8 L372.7 300.1 L373.5 298.3 L374.3 296.4 L375.0 294.4 L375.8 292.4 L376.5 290.4 L377.3 288.3 L378.0 286.2 L378.8 284.1 L379.6 282.0 L380.3 279.8 L381.1 277.7 L381.8 275.6 L382.6 273.5 L383.3 271.4 L384.1 269.3 L384.9 267.3 L385.6 265.2 L386.4 263.2 L387.1 261.3 L387.9 259.4 L388.6 257.5 L389.4 255.6 L390.2 253.8 L390.9 252.1 L391.7 250.4 L392.4 248.7 L393.2 247.1 L393.9 245.5 L394.7 243.9 L395.5 242.5 L396.2 241.0 L397.0 239.7 L397.7 238.3 L398.5 237.0 L399.2 235.8 L400.0 234.6 L400.8 233.5 L401.5 232.4 L402.3 231.4 L403.0 230.4 L403.8 229.5 L404.5 228.6 L405.3 227.8 L406.1 227.0 L406.8 226.2 L407.6 225.6 L408.3 224.9 L409.1 224.3 L409.8 223.8 L410.6 223.3 L411.4 222.8 L412.1 222.4 L412.9 222.0 L413.6 221.7 L414.4 221.4 L415.1 221.1 L415.9 220.9 L416.7 220.7 L417.4 220.5 L418.2 220.4 L418.9 220.2 L419.7 220.1 L420.4 220.0 L421.2 219.9 L422.0 219.9 L422.7 219.8 L423.5 219.8 L424.2 219.7 L425.0 219.7 L425.7 219.7 L426.5 219.7 L427.3 219.7 L428.0 219.7 L428.8 219.7 L429.5 219.8 L430.3 219.8 L431.0 219.9 L431.8 219.9 L432.6 220.0 L433.3 220.1 L434.1 220.2 L434.8 220.4 L435.6 220.5 L436.3 220.7 L437.1 220.9 L437.9 221.1 L438.6 221.4 L439.4 221.7 L440.1 222.0 L440.9 222.4 L441.6 222.8 L442.4 223.3 L443.2 223.8 L443.9 224.3 L444.7 224.9 L445.4 225.6 L446.2 226.2 L446.9 227.0 L447.7 227.8 L448.5 228.6 L449.2 229.5 L450.0 230.4 L450.7 231.4 L451.5 232.4 L452.2 233.5 L453.0 234.6 L453.8 235.8 L454.5 237.0 L455.3 238.3 L456.0 239.7 L456.8 241.0 L457.5 242.5 L458.3 243.9 L459.1 245.5 L459.8 247.1 L460.6 248.7 L461.3 250.4 L462.1 252.1 L462.8 253.8 L463.6 255.6 L464.4 257.5 L465.1 259.4 L465.9 261.3 L466.6 263.2 L467.4 265.2 L468.1 267.3 L468.9 269.3 L469.7 271.4 L470.4 273.5 L471.2 275.6 L471.9 277.7 L472.7 279.8 L473.4 282.0 L474.2 284.1 L475.0 286.2 L475.7 288.3 L476.5 290.4 L477.2 292.4 L478.0 294.4 L478.7 296.4 L479.5 298.3 L480.3 300.1 L481.0 301.8 L481.8 303.5 L482.5 305.0 L483.3 306.4 L484.0 307.7 L484.8 308.8 L485.6 309.8 L486.3 310.5 L487.1 311.1 L487.8 311.5 L488.6 311.6 L489.3 311.6 L490.1 311.2 L490.9 310.7 L491.6 309.9 L492.4 308.9 L493.1 307.7 L493.9 306.2 L494.6 304.5 L495.4 302.6 L496.2 300.5 L496.9 298.2 L497.7 295.7 L498.4 293.1 L499.2 290.3 L499.9 287.3 L500.7 284.7 L501.5 289.6 L502.2 294.9 L503.0 300.2 L503.7 305.6 L504.5 311.0 L505.2 316.4 L506.0 321.8 L506.8 327.3 L507.5 332.7 L508.3 338.0 L509.0 343.3 L509.8 348.5 L510.5 353.4 L511.3 358.0 L512.1 362.1 L512.8 365.1 L513.2 366.1 L513.6 366.5 L514.3 365.9 L515.1 363.4 L515.8 359.6 L516.6 355.1 L517.4 350.1 L518.1 344.8 L518.9 339.3 L519.6 333.7 L520.4 328.0 L521.1 322.2 L521.9 316.3 L522.7 310.4 L523.4 304.5 L524.2 298.5 L524.9 292.6 L525.7 286.6 L526.5 280.5 L527.2 274.5 L528.0 268.4 L528.7 262.3 L529.5 256.2 L530.2 250.1 L531.0 244.0 L531.8 237.9 L532.5 231.7 L533.3 225.6 L534.0 219.4 L534.8 213.2 L535.5 207.1 L536.3 200.9 L537.1 194.7 L537.8 188.5 L538.6 182.3 L539.3 176.0 L540.1 169.8" fill="none" stroke="#0000ff" stroke-width="1.4" stroke-linejoin="round"/>
<path d="M312.9 169.8 L313.7 176.1 L314.4 182.3 L315.2 188.5 L315.9 194.7 L316.7 200.9 L317.5 207.1 L318.2 213.3 L319.0 219.4 L319.7 225.6 L320.5 231.8 L321.2 237.9 L322.0 244.1 L322.8 250.2 L323.5 256.3 L324.3 262.4 L325.0 268.5 L325.8 274.6 L326.5 280.7 L327.3 286.7 L328.1 292.8 L328.8 298.8 L329.6 304.8 L330.3 310.8 L331.1 316.8 L331.9 322.7 L332.6 328.7 L333.4 334.6 L334.1 340.4 L334.9 346.3 L335.6 352.1 L336.4 357.9 L337.2 363.6 L337.9 369.3 L338.7 375.0 L339.4 380.6 L339.8 383.0 L340.2 379.9 L340.9 374.4 L341.7 369.1 L342.5 363.8 L343.2 358.7 L344.0 353.7 L344.7 348.9 L345.5 344.4 L346.2 340.1 L347.0 336.2 L347.8 332.6 L348.5 329.6 L349.3 327.2 L350.0 325.4 L350.8 324.4 L351.5 324.1 L352.3 324.4 L353.1 325.3 L353.8 326.8 L354.6 328.6 L355.3 330.8 L356.1 333.2 L356.8 335.8 L357.6 338.5 L358.4 341.4 L359.1 344.3 L359.9 347.2 L360.6 350.1 L361.4 353.1 L362.1 356.0 L362.9 358.9 L363.7 361.8 L364.4 364.7 L365.2 367.5 L365.9 370.2 L366.7 372.9 L367.4 375.5 L368.2 378.1 L369.0 380.6 L369.7 383.0 L370.5 380.7 L371.2 378.4 L372.0 376.3 L372.7 374.2 L373.5 372.2 L374.3 370.3 L375.0 368.5 L375.8 366.8 L376.5 365.2 L377.3 363.7 L378.0 362.2 L378.8 360.9 L379.6 359.7 L380.3 358.6 L381.1 357.5 L381.8 356.6 L382.6 355.7 L383.3 355.0 L384.1 354.3 L384.9 353.7 L385.6 353.2 L386.4 352.8 L387.1 352.4 L387.9 352.2 L388.6 352.0 L389.4 351.9 L390.2 351.8 L390.9 351.8 L391.7 351.9 L392.4 352.0 L393.2 352.2 L393.9 352.4 L394.7 352.7 L395.5 353.1 L396.2 353.4 L397.0 353.8 L397.7 354.3 L398.5 354.8 L399.2 355.3 L400.0 355.9 L400.8 356.4 L401.5 357.0 L402.3 357.7 L403.0 358.3 L403.8 359.0 L404.5 359.7 L405.3 360.4 L406.1 361.1 L406.8 361.8 L407.6 362.6 L408.3 363.3 L409.1 364.1 L409.8 364.9 L410.6 365.7 L411.4 366.5 L412.1 367.3 L412.9 368.1 L413.6 368.9 L414.4 369.7 L415.1 370.5 L415.9 371.3 L416.7 372.1 L417.4 373.0 L418.2 373.8 L418.9 374.6 L419.7 375.5 L420.4 376.3 L421.2 377.1 L422.0 378.0 L422.7 378.8 L423.5 379.6 L424.2 380.5 L425.0 381.3 L425.7 382.2 L426.5 383.0 L427.3 382.2 L428.0 381.3 L428.8 380.5 L429.5 379.6 L430.3 378.8 L431.0 378.0 L431.8 377.1 L432.6 376.3 L433.3 375.5 L434.1 374.6 L434.8 373.8 L435.6 373.0 L436.3 372.1 L437.1 371.3 L437.9 370.5 L438.6 369.7 L439.4 368.9 L440.1 368.1 L440.9 367.3 L441.6 366.5 L442.4 365.7 L443.2 364.9 L443.9 364.1 L444.7 363.3 L445.4 362.6 L446.2 361.8 L446.9 361.1 L447.7 360.4 L448.5 359.7 L449.2 359.0 L450.0 358.3 L450.7 357.7 L451.5 357.0 L452.2 356.4 L453.0 355.9 L453.8 355.3 L454.5 354.8 L455.3 354.3 L456.0 353.8 L456.8 353.4 L457.5 353.1 L458.3 352.7 L459.1 352.4 L459.8 352.2 L460.6 352.0 L461.3 351.9 L462.1 351.8 L462.8 351.8 L463.6 351.9 L464.4 352.0 L465.1 352.2 L465.9 352.4 L466.6 352.8 L467.4 353.2 L468.1 353.7 L468.9 354.3 L469.7 355.0 L470.4 355.7 L471.2 356.6 L471.9 357.5 L472.7 358.6 L473.4 359.7 L474.2 360.9 L475.0 362.2 L475.7 363.7 L476.5 365.2 L477.2 366.8 L478.0 368.5 L478.7 370.3 L479.5 372.2 L480.3 374.2 L481.0 376.3 L481.8 378.4 L482.5 380.7 L483.3 383.0 L484.0 380.6 L484.8 378.1 L485.6 375.5 L486.3 372.9 L487.1 370.2 L487.8 367.5 L488.6 364.7 L489.3 361.8 L490.1 358.9 L490.9 356.0 L491.6 353.1 L492.4 350.1 L493.1 347.2 L493.9 344.3 L494.6 341.4 L495.4 338.5 L496.2 335.8 L496.9 333.2 L497.7 330.8 L498.4 328.6 L499.2 326.8 L499.9 325.3 L500.7 324.4 L501.5 324.1 L502.2 324.4 L503.0 325.4 L503.7 327.2 L504.5 329.6 L505.2 332.6 L506.0 336.2 L506.8 340.1 L507.5 344.4 L508.3 348.9 L509.0 353.7 L509.8 358.7 L510.5 363.8 L511.3 369.1 L512.1 374.4 L512.8 379.9 L513.2 383.0 L513.6 380.6 L514.3 375.0 L515.1 369.3 L515.8 363.6 L516.6 357.9 L517.4 352.1 L518.1 346.3 L518.9 340.4 L519.6 334.6 L520.4 328.7 L521.1 322.7 L521.9 316.8 L522.7 310.8 L523.4 304.8 L524.2 298.8 L524.9 292.8 L525.7 286.7 L526.5 280.7 L527.2 274.6 L528.0 268.5 L528.7 262.4 L529.5 256.3 L530.2 250.2 L531.0 244.1 L531.8 237.9 L532.5 231.8 L533.3 225.6 L534.0 219.4 L534.8 213.3 L535.5 207.1 L536.3 200.9 L537.1 194.7 L537.8 188.5 L538.6 182.3 L539.3 176.1 L540.1 169.8" fill="none" stroke="#0000ff" stroke-width="1.4" stroke-linejoin="round"/>
</g>
<rect x="312.9" y="199.5" width="227.2" height="183.5" fill="none" stroke="#000" stroke-width="1"/>
<path d="M331.9 383.0 v-2.2 M331.9 199.5 v2.2 M350.8 383.0 v-4.0 M350.8 199.5 v4.0 M369.7 383.0 v-2.2 M369.7 199.5 v2.2 M388.6 383.0 v-4.0 M388.6 199.5 v4.0 M407.6 383.0 v-2.2 M407.6 199.5 v2.2 M426.5 383.0 v-4.0 M426.5 199.5 v4.0 M445.4 383.0 v-2.2 M445.4 199.5 v2.2 M464.4 383.0 v-4.0 M464.4 199.5 v4.0 M483.3 383.0 v-2.2 M483.3 199.5 v2.2 M502.2 383.0 v-4.0 M502.2 199.5 v4.0 M521.1 383.0 v-2.2 M521.1 199.5 v2.2 M312.9 356.8 h2.2 M540.1 356.8 h-2.2 M312.9 330.6 h4.0 M540.1 330.6 h-4.0 M312.9 304.4 h2.2 M540.1 304.4 h-2.2 M312.9 278.2 h4.0 M540.1 278.2 h-4.0 M312.9 252.0 h2.2 M540.1 252.0 h-2.2 M312.9 225.8 h4.0 M540.1 225.8 h-4.0" stroke="#000" stroke-width="1" fill="none"/>
<clipPath id="clipd2"><rect x="312.4" y="199.0" width="227.7" height="184.5"/></clipPath>
<g clip-path="url(#clipd2)">
<path d="M312.9 176.9 L313.7 177.4 L314.4 177.9 L315.2 178.4 L315.9 178.9 L316.7 179.4 L317.5 179.9 L318.2 180.4 L319.0 180.9 L319.7 181.4 L320.5 181.9 L321.2 182.4 L322.0 182.8 L322.8 183.3 L323.5 183.8 L324.3 184.3 L325.0 184.8 L325.8 185.2 L326.5 185.7 L327.3 186.2 L328.1 186.6 L328.8 187.1 L329.6 187.6 L330.3 188.0 L331.1 188.5 L331.9 188.9 L332.6 189.4 L333.4 189.8 L334.1 190.3 L334.9 190.7 L335.6 191.2 L336.4 191.6 L337.2 192.0 L337.9 192.5 L338.7 192.9 L339.4 193.3 L339.8 193.5 L340.2 193.8 L340.9 194.2 L341.7 194.6 L342.5 195.0 L343.2 195.4 L344.0 195.8 L344.7 196.2 L345.5 196.7 L346.2 197.1 L347.0 197.5 L347.8 197.9 L348.5 198.2 L349.3 198.6 L350.0 199.0 L350.8 199.4 L351.5 199.8 L352.3 200.2 L353.1 200.5 L353.8 200.9 L354.6 201.3 L355.3 201.6 L356.1 202.0 L356.8 202.4 L357.6 202.7 L358.4 203.1 L359.1 203.4 L359.9 203.8 L360.6 204.1 L361.4 204.5 L362.1 204.8 L362.9 205.1 L363.7 205.5 L364.4 205.8 L365.2 206.1 L365.9 206.4 L366.7 206.8 L367.4 207.1 L368.2 207.4 L369.0 207.7 L369.7 208.0 L370.5 208.3 L371.2 208.6 L372.0 208.9 L372.7 209.2 L373.5 209.4 L374.3 209.7 L375.0 210.0 L375.8 210.3 L376.5 210.6 L377.3 210.8 L378.0 211.1 L378.8 211.3 L379.6 211.6 L380.3 211.8 L381.1 212.1 L381.8 212.3 L382.6 212.6 L383.3 212.8 L384.1 213.1 L384.9 213.3 L385.6 213.5 L386.4 213.7 L387.1 214.0 L387.9 214.2 L388.6 214.4 L389.4 214.6 L390.2 214.8 L390.9 215.0 L391.7 215.2 L392.4 215.4 L393.2 215.6 L393.9 215.7 L394.7 215.9 L395.5 216.1 L396.2 216.3 L397.0 216.4 L397.7 216.6 L398.5 216.7 L399.2 216.9 L400.0 217.1 L400.8 217.2 L401.5 217.3 L402.3 217.5 L403.0 217.6 L403.8 217.7 L404.5 217.9 L405.3 218.0 L406.1 218.1 L406.8 218.2 L407.6 218.3 L408.3 218.4 L409.1 218.5 L409.8 218.6 L410.6 218.7 L411.4 218.8 L412.1 218.9 L412.9 219.0 L413.6 219.0 L414.4 219.1 L415.1 219.2 L415.9 219.2 L416.7 219.3 L417.4 219.4 L418.2 219.4 L418.9 219.5 L419.7 219.5 L420.4 219.5 L421.2 219.6 L422.0 219.6 L422.7 219.6 L423.5 219.6 L424.2 219.6 L425.0 219.7 L425.7 219.7 L426.5 219.7 L427.3 219.7 L428.0 219.7 L428.8 219.6 L429.5 219.6 L430.3 219.6 L431.0 219.6 L431.8 219.6 L432.6 219.5 L433.3 219.5 L434.1 219.5 L434.8 219.4 L435.6 219.4 L436.3 219.3 L437.1 219.2 L437.9 219.2 L438.6 219.1 L439.4 219.0 L440.1 219.0 L440.9 218.9 L441.6 218.8 L442.4 218.7 L443.2 218.6 L443.9 218.5 L444.7 218.4 L445.4 218.3 L446.2 218.2 L446.9 218.1 L447.7 218.0 L448.5 217.9 L449.2 217.7 L450.0 217.6 L450.7 217.5 L451.5 217.3 L452.2 217.2 L453.0 217.1 L453.8 216.9 L454.5 216.7 L455.3 216.6 L456.0 216.4 L456.8 216.3 L457.5 216.1 L458.3 215.9 L459.1 215.7 L459.8 215.6 L460.6 215.4 L461.3 215.2 L462.1 215.0 L462.8 214.8 L463.6 214.6 L464.4 214.4 L465.1 214.2 L465.9 214.0 L466.6 213.7 L467.4 213.5 L468.1 213.3 L468.9 213.1 L469.7 212.8 L470.4 212.6 L471.2 212.3 L471.9 212.1 L472.7 211.8 L473.4 211.6 L474.2 211.3 L475.0 211.1 L475.7 210.8 L476.5 210.6 L477.2 210.3 L478.0 210.0 L478.7 209.7 L479.5 209.4 L480.3 209.2 L481.0 208.9 L481.8 208.6 L482.5 208.3 L483.3 208.0 L484.0 207.7 L484.8 207.4 L485.6 207.1 L486.3 206.8 L487.1 206.4 L487.8 206.1 L488.6 205.8 L489.3 205.5 L490.1 205.1 L490.9 204.8 L491.6 204.5 L492.4 204.1 L493.1 203.8 L493.9 203.4 L494.6 203.1 L495.4 202.7 L496.2 202.4 L496.9 202.0 L497.7 201.6 L498.4 201.3 L499.2 200.9 L499.9 200.5 L500.7 200.2 L501.5 199.8 L502.2 199.4 L503.0 199.0 L503.7 198.6 L504.5 198.2 L505.2 197.9 L506.0 197.5 L506.8 197.1 L507.5 196.7 L508.3 196.2 L509.0 195.8 L509.8 195.4 L510.5 195.0 L511.3 194.6 L512.1 194.2 L512.8 193.8 L513.2 193.5 L513.6 193.3 L514.3 192.9 L515.1 192.5 L515.8 192.0 L516.6 191.6 L517.4 191.2 L518.1 190.7 L518.9 190.3 L519.6 189.8 L520.4 189.4 L521.1 188.9 L521.9 188.5 L522.7 188.0 L523.4 187.6 L524.2 187.1 L524.9 186.6 L525.7 186.2 L526.5 185.7 L527.2 185.2 L528.0 184.8 L528.7 184.3 L529.5 183.8 L530.2 183.3 L531.0 182.8 L531.8 182.4 L532.5 181.9 L533.3 181.4 L534.0 180.9 L534.8 180.4 L535.5 179.9 L536.3 179.4 L537.1 178.9 L537.8 178.4 L538.6 177.9 L539.3 177.4 L540.1 176.9 L540.1 257.2 L539.3 258.1 L538.6 258.9 L537.8 259.8 L537.1 260.6 L536.3 261.4 L535.5 262.3 L534.8 263.1 L534.0 263.9 L533.3 264.8 L532.5 265.6 L531.8 266.5 L531.0 267.3 L530.2 268.1 L529.5 269.0 L528.7 269.8 L528.0 270.7 L527.2 271.5 L526.5 272.3 L525.7 273.2 L524.9 274.0 L524.2 274.8 L523.4 275.7 L522.7 276.5 L521.9 277.4 L521.1 278.2 L520.4 279.0 L519.6 279.9 L518.9 280.7 L518.1 281.6 L517.4 282.4 L516.6 283.2 L515.8 284.1 L515.1 284.9 L514.3 285.7 L513.6 286.6 L513.2 286.9 L512.8 287.4 L512.1 288.3 L511.3 289.1 L510.5 289.9 L509.8 290.8 L509.0 291.6 L508.3 292.5 L507.5 293.3 L506.8 294.1 L506.0 295.0 L505.2 295.8 L504.5 296.6 L503.7 297.5 L503.0 298.3 L502.2 299.2 L501.5 300.0 L500.7 300.8 L499.9 301.7 L499.2 302.5 L498.4 303.4 L497.7 304.2 L496.9 305.0 L496.2 305.9 L495.4 306.7 L494.6 307.5 L493.9 308.4 L493.1 309.2 L492.4 310.1 L491.6 310.9 L490.9 311.7 L490.1 312.6 L489.3 313.4 L488.6 314.3 L487.8 315.1 L487.1 315.9 L486.3 316.8 L485.6 317.6 L484.8 318.4 L484.0 319.3 L483.3 320.1 L482.5 321.0 L481.8 321.8 L481.0 322.6 L480.3 323.5 L479.5 324.3 L478.7 325.2 L478.0 326.0 L477.2 326.8 L476.5 327.7 L475.7 328.5 L475.0 329.3 L474.2 330.2 L473.4 331.0 L472.7 331.9 L471.9 332.7 L471.2 333.5 L470.4 334.4 L469.7 335.2 L468.9 336.0 L468.1 336.9 L467.4 337.7 L466.6 338.6 L465.9 339.4 L465.1 340.2 L464.4 341.1 L463.6 341.9 L462.8 342.8 L462.1 343.6 L461.3 344.4 L460.6 345.3 L459.8 346.1 L459.1 346.9 L458.3 347.8 L457.5 348.6 L456.8 349.5 L456.0 350.3 L455.3 351.1 L454.5 352.0 L453.8 352.8 L453.0 353.7 L452.2 354.5 L451.5 355.3 L450.7 356.2 L450.0 357.0 L449.2 357.8 L448.5 358.7 L447.7 359.5 L446.9 360.4 L446.2 361.2 L445.4 362.0 L444.7 362.9 L443.9 363.7 L443.2 364.6 L442.4 365.4 L441.6 366.2 L440.9 367.1 L440.1 367.9 L439.4 368.7 L438.6 369.6 L437.9 370.4 L437.1 371.3 L436.3 372.1 L435.6 372.9 L434.8 373.8 L434.1 374.6 L433.3 375.5 L432.6 376.3 L431.8 377.1 L431.0 378.0 L430.3 378.8 L429.5 379.6 L428.8 380.5 L428.0 381.3 L427.3 382.2 L426.5 383.0 L425.7 382.2 L425.0 381.3 L424.2 380.5 L423.5 379.6 L422.7 378.8 L422.0 378.0 L421.2 377.1 L420.4 376.3 L419.7 375.5 L418.9 374.6 L418.2 373.8 L417.4 372.9 L416.7 372.1 L415.9 371.3 L415.1 370.4 L414.4 369.6 L413.6 368.7 L412.9 367.9 L412.1 367.1 L411.4 366.2 L410.6 365.4 L409.8 364.6 L409.1 363.7 L408.3 362.9 L407.6 362.0 L406.8 361.2 L406.1 360.4 L405.3 359.5 L404.5 358.7 L403.8 357.8 L403.0 357.0 L402.3 356.2 L401.5 355.3 L400.8 354.5 L400.0 353.7 L399.2 352.8 L398.5 352.0 L397.7 351.1 L397.0 350.3 L396.2 349.5 L395.5 348.6 L394.7 347.8 L393.9 346.9 L393.2 346.1 L392.4 345.3 L391.7 344.4 L390.9 343.6 L390.2 342.8 L389.4 341.9 L388.6 341.1 L387.9 340.2 L387.1 339.4 L386.4 338.6 L385.6 337.7 L384.9 336.9 L384.1 336.0 L383.3 335.2 L382.6 334.4 L381.8 333.5 L381.1 332.7 L380.3 331.9 L379.6 331.0 L378.8 330.2 L378.0 329.3 L377.3 328.5 L376.5 327.7 L375.8 326.8 L375.0 326.0 L374.3 325.2 L373.5 324.3 L372.7 323.5 L372.0 322.6 L371.2 321.8 L370.5 321.0 L369.7 320.1 L369.0 319.3 L368.2 318.4 L367.4 317.6 L366.7 316.8 L365.9 315.9 L365.2 315.1 L364.4 314.3 L363.7 313.4 L362.9 312.6 L362.1 311.7 L361.4 310.9 L360.6 310.1 L359.9 309.2 L359.1 308.4 L358.4 307.5 L357.6 306.7 L356.8 305.9 L356.1 305.0 L355.3 304.2 L354.6 303.4 L353.8 302.5 L353.1 301.7 L352.3 300.8 L351.5 300.0 L350.8 299.2 L350.0 298.3 L349.3 297.5 L348.5 296.6 L347.8 295.8 L347.0 295.0 L346.2 294.1 L345.5 293.3 L344.7 292.5 L344.0 291.6 L343.2 290.8 L342.5 289.9 L341.7 289.1 L340.9 288.3 L340.2 287.4 L339.8 286.9 L339.4 286.6 L338.7 285.7 L337.9 284.9 L337.2 284.1 L336.4 283.2 L335.6 282.4 L334.9 281.6 L334.1 280.7 L333.4 279.9 L332.6 279.0 L331.9 278.2 L331.1 277.4 L330.3 276.5 L329.6 275.7 L328.8 274.8 L328.1 274.0 L327.3 273.2 L326.5 272.3 L325.8 271.5 L325.0 270.7 L324.3 269.8 L323.5 269.0 L322.8 268.1 L322.0 267.3 L321.2 266.5 L320.5 265.6 L319.7 264.8 L319.0 263.9 L318.2 263.1 L317.5 262.3 L316.7 261.4 L315.9 260.6 L315.2 259.8 L314.4 258.9 L313.7 258.1 L312.9 257.2Z" fill="#00ff00" fill-opacity="0.5" stroke="none"/>
<path d="M312.9 176.9 L313.7 177.4 L314.4 177.9 L315.2 178.4 L315.9 178.9 L316.7 179.4 L317.5 179.9 L318.2 180.4 L319.0 180.9 L319.7 181.4 L320.5 181.9 L321.2 182.4 L322.0 182.8 L322.8 183.3 L323.5 183.8 L324.3 184.3 L325.0 184.8 L325.8 185.2 L326.5 185.7 L327.3 186.2 L328.1 186.6 L328.8 187.1 L329.6 187.6 L330.3 188.0 L331.1 188.5 L331.9 188.9 L332.6 189.4 L333.4 189.8 L334.1 190.3 L334.9 190.7 L335.6 191.2 L336.4 191.6 L337.2 192.0 L337.9 192.5 L338.7 192.9 L339.4 193.3 L339.8 193.5 L340.2 193.8 L340.9 194.2 L341.7 194.6 L342.5 195.0 L343.2 195.4 L344.0 195.8 L344.7 196.2 L345.5 196.7 L346.2 197.1 L347.0 197.5 L347.8 197.9 L348.5 198.2 L349.3 198.6 L350.0 199.0 L350.8 199.4 L351.5 199.8 L352.3 200.2 L353.1 200.5 L353.8 200.9 L354.6 201.3 L355.3 201.6 L356.1 202.0 L356.8 202.4 L357.6 202.7 L358.4 203.1 L359.1 203.4 L359.9 203.8 L360.6 204.1 L361.4 204.5 L362.1 204.8 L362.9 205.1 L363.7 205.5 L364.4 205.8 L365.2 206.1 L365.9 206.4 L366.7 206.8 L367.4 207.1 L368.2 207.4 L369.0 207.7 L369.7 208.0 L370.5 208.3 L371.2 208.6 L372.0 208.9 L372.7 209.2 L373.5 209.4 L374.3 209.7 L375.0 210.0 L375.8 210.3 L376.5 210.6 L377.3 210.8 L378.0 211.1 L378.8 211.3 L379.6 211.6 L380.3 211.8 L381.1 212.1 L381.8 212.3 L382.6 212.6 L383.3 212.8 L384.1 213.1 L384.9 213.3 L385.6 213.5 L386.4 213.7 L387.1 214.0 L387.9 214.2 L388.6 214.4 L389.4 214.6 L390.2 214.8 L390.9 215.0 L391.7 215.2 L392.4 215.4 L393.2 215.6 L393.9 215.7 L394.7 215.9 L395.5 216.1 L396.2 216.3 L397.0 216.4 L397.7 216.6 L398.5 216.7 L399.2 216.9 L400.0 217.1 L400.8 217.2 L401.5 217.3 L402.3 217.5 L403.0 217.6 L403.8 217.7 L404.5 217.9 L405.3 218.0 L406.1 218.1 L406.8 218.2 L407.6 218.3 L408.3 218.4 L409.1 218.5 L409.8 218.6 L410.6 218.7 L411.4 218.8 L412.1 218.9 L412.9 219.0 L413.6 219.0 L414.4 219.1 L415.1 219.2 L415.9 219.2 L416.7 219.3 L417.4 219.4 L418.2 219.4 L418.9 219.5 L419.7 219.5 L420.4 219.5 L421.2 219.6 L422.0 219.6 L422.7 219.6 L423.5 219.6 L424.2 219.6 L425.0 219.7 L425.7 219.7 L426.5 219.7 L427.3 219.7 L428.0 219.7 L428.8 219.6 L429.5 219.6 L430.3 219.6 L431.0 219.6 L431.8 219.6 L432.6 219.5 L433.3 219.5 L434.1 219.5 L434.8 219.4 L435.6 219.4 L436.3 219.3 L437.1 219.2 L437.9 219.2 L438.6 219.1 L439.4 219.0 L440.1 219.0 L440.9 218.9 L441.6 218.8 L442.4 218.7 L443.2 218.6 L443.9 218.5 L444.7 218.4 L445.4 218.3 L446.2 218.2 L446.9 218.1 L447.7 218.0 L448.5 217.9 L449.2 217.7 L450.0 217.6 L450.7 217.5 L451.5 217.3 L452.2 217.2 L453.0 217.1 L453.8 216.9 L454.5 216.7 L455.3 216.6 L456.0 216.4 L456.8 216.3 L457.5 216.1 L458.3 215.9 L459.1 215.7 L459.8 215.6 L460.6 215.4 L461.3 215.2 L462.1 215.0 L462.8 214.8 L463.6 214.6 L464.4 214.4 L465.1 214.2 L465.9 214.0 L466.6 213.7 L467.4 213.5 L468.1 213.3 L468.9 213.1 L469.7 212.8 L470.4 212.6 L471.2 212.3 L471.9 212.1 L472.7 211.8 L473.4 211.6 L474.2 211.3 L475.0 211.1 L475.7 210.8 L476.5 210.6 L477.2 210.3 L478.0 210.0 L478.7 209.7 L479.5 209.4 L480.3 209.2 L481.0 208.9 L481.8 208.6 L482.5 208.3 L483.3 208.0 L484.0 207.7 L484.8 207.4 L485.6 207.1 L486.3 206.8 L487.1 206.4 L487.8 206.1 L488.6 205.8 L489.3 205.5 L490.1 205.1 L490.9 204.8 L491.6 204.5 L492.4 204.1 L493.1 203.8 L493.9 203.4 L494.6 203.1 L495.4 202.7 L496.2 202.4 L496.9 202.0 L497.7 201.6 L498.4 201.3 L499.2 200.9 L499.9 200.5 L500.7 200.2 L501.5 199.8 L502.2 199.4 L503.0 199.0 L503.7 198.6 L504.5 198.2 L505.2 197.9 L506.0 197.5 L506.8 197.1 L507.5 196.7 L508.3 196.2 L509.0 195.8 L509.8 195.4 L510.5 195.0 L511.3 194.6 L512.1 194.2 L512.8 193.8 L513.2 193.5 L513.6 193.3 L514.3 192.9 L515.1 192.5 L515.8 192.0 L516.6 191.6 L517.4 191.2 L518.1 190.7 L518.9 190.3 L519.6 189.8 L520.4 189.4 L521.1 188.9 L521.9 188.5 L522.7 188.0 L523.4 187.6 L524.2 187.1 L524.9 186.6 L525.7 186.2 L526.5 185.7 L527.2 185.2 L528.0 184.8 L528.7 184.3 L529.5 183.8 L530.2 183.3 L531.0 182.8 L531.8 182.4 L532.5 181.9 L533.3 181.4 L534.0 180.9 L534.8 180.4 L535.5 179.9 L536.3 179.4 L537.1 178.9 L537.8 178.4 L538.6 177.9 L539.3 177.4 L540.1 176.9" fill="none" stroke="#00a000" stroke-width="1.5" stroke-dasharray="4.5 2.5"/>
<path d="M312.9 257.2 L313.7 258.1 L314.4 258.9 L315.2 259.8 L315.9 260.6 L316.7 261.4 L317.5 262.3 L318.2 263.1 L319.0 263.9 L319.7 264.8 L320.5 265.6 L321.2 266.5 L322.0 267.3 L322.8 268.1 L323.5 269.0 L324.3 269.8 L325.0 270.7 L325.8 271.5 L326.5 272.3 L327.3 273.2 L328.1 274.0 L328.8 274.8 L329.6 275.7 L330.3 276.5 L331.1 277.4 L331.9 278.2 L332.6 279.0 L333.4 279.9 L334.1 280.7 L334.9 281.6 L335.6 282.4 L336.4 283.2 L337.2 284.1 L337.9 284.9 L338.7 285.7 L339.4 286.6 L339.8 286.9 L340.2 287.4 L340.9 288.3 L341.7 289.1 L342.5 289.9 L343.2 290.8 L344.0 291.6 L344.7 292.5 L345.5 293.3 L346.2 294.1 L347.0 295.0 L347.8 295.8 L348.5 296.6 L349.3 297.5 L350.0 298.3 L350.8 299.2 L351.5 300.0 L352.3 300.8 L353.1 301.7 L353.8 302.5 L354.6 303.4 L355.3 304.2 L356.1 305.0 L356.8 305.9 L357.6 306.7 L358.4 307.5 L359.1 308.4 L359.9 309.2 L360.6 310.1 L361.4 310.9 L362.1 311.7 L362.9 312.6 L363.7 313.4 L364.4 314.3 L365.2 315.1 L365.9 315.9 L366.7 316.8 L367.4 317.6 L368.2 318.4 L369.0 319.3 L369.7 320.1 L370.5 321.0 L371.2 321.8 L372.0 322.6 L372.7 323.5 L373.5 324.3 L374.3 325.2 L375.0 326.0 L375.8 326.8 L376.5 327.7 L377.3 328.5 L378.0 329.3 L378.8 330.2 L379.6 331.0 L380.3 331.9 L381.1 332.7 L381.8 333.5 L382.6 334.4 L383.3 335.2 L384.1 336.0 L384.9 336.9 L385.6 337.7 L386.4 338.6 L387.1 339.4 L387.9 340.2 L388.6 341.1 L389.4 341.9 L390.2 342.8 L390.9 343.6 L391.7 344.4 L392.4 345.3 L393.2 346.1 L393.9 346.9 L394.7 347.8 L395.5 348.6 L396.2 349.5 L397.0 350.3 L397.7 351.1 L398.5 352.0 L399.2 352.8 L400.0 353.7 L400.8 354.5 L401.5 355.3 L402.3 356.2 L403.0 357.0 L403.8 357.8 L404.5 358.7 L405.3 359.5 L406.1 360.4 L406.8 361.2 L407.6 362.0 L408.3 362.9 L409.1 363.7 L409.8 364.6 L410.6 365.4 L411.4 366.2 L412.1 367.1 L412.9 367.9 L413.6 368.7 L414.4 369.6 L415.1 370.4 L415.9 371.3 L416.7 372.1 L417.4 372.9 L418.2 373.8 L418.9 374.6 L419.7 375.5 L420.4 376.3 L421.2 377.1 L422.0 378.0 L422.7 378.8 L423.5 379.6 L424.2 380.5 L425.0 381.3 L425.7 382.2 L426.5 383.0 L427.3 382.2 L428.0 381.3 L428.8 380.5 L429.5 379.6 L430.3 378.8 L431.0 378.0 L431.8 377.1 L432.6 376.3 L433.3 375.5 L434.1 374.6 L434.8 373.8 L435.6 372.9 L436.3 372.1 L437.1 371.3 L437.9 370.4 L438.6 369.6 L439.4 368.7 L440.1 367.9 L440.9 367.1 L441.6 366.2 L442.4 365.4 L443.2 364.6 L443.9 363.7 L444.7 362.9 L445.4 362.0 L446.2 361.2 L446.9 360.4 L447.7 359.5 L448.5 358.7 L449.2 357.8 L450.0 357.0 L450.7 356.2 L451.5 355.3 L452.2 354.5 L453.0 353.7 L453.8 352.8 L454.5 352.0 L455.3 351.1 L456.0 350.3 L456.8 349.5 L457.5 348.6 L458.3 347.8 L459.1 346.9 L459.8 346.1 L460.6 345.3 L461.3 344.4 L462.1 343.6 L462.8 342.8 L463.6 341.9 L464.4 341.1 L465.1 340.2 L465.9 339.4 L466.6 338.6 L467.4 337.7 L468.1 336.9 L468.9 336.0 L469.7 335.2 L470.4 334.4 L471.2 333.5 L471.9 332.7 L472.7 331.9 L473.4 331.0 L474.2 330.2 L475.0 329.3 L475.7 328.5 L476.5 327.7 L477.2 326.8 L478.0 326.0 L478.7 325.2 L479.5 324.3 L480.3 323.5 L481.0 322.6 L481.8 321.8 L482.5 321.0 L483.3 320.1 L484.0 319.3 L484.8 318.4 L485.6 317.6 L486.3 316.8 L487.1 315.9 L487.8 315.1 L488.6 314.3 L489.3 313.4 L490.1 312.6 L490.9 311.7 L491.6 310.9 L492.4 310.1 L493.1 309.2 L493.9 308.4 L494.6 307.5 L495.4 306.7 L496.2 305.9 L496.9 305.0 L497.7 304.2 L498.4 303.4 L499.2 302.5 L499.9 301.7 L500.7 300.8 L501.5 300.0 L502.2 299.2 L503.0 298.3 L503.7 297.5 L504.5 296.6 L505.2 295.8 L506.0 295.0 L506.8 294.1 L507.5 293.3 L508.3 292.5 L509.0 291.6 L509.8 290.8 L510.5 289.9 L511.3 289.1 L512.1 288.3 L512.8 287.4 L513.2 286.9 L513.6 286.6 L514.3 285.7 L515.1 284.9 L515.8 284.1 L516.6 283.2 L517.4 282.4 L518.1 281.6 L518.9 280.7 L519.6 279.9 L520.4 279.0 L521.1 278.2 L521.9 277.4 L522.7 276.5 L523.4 275.7 L524.2 274.8 L524.9 274.0 L525.7 273.2 L526.5 272.3 L527.2 271.5 L528.0 270.7 L528.7 269.8 L529.5 269.0 L530.2 268.1 L531.0 267.3 L531.8 266.5 L532.5 265.6 L533.3 264.8 L534.0 263.9 L534.8 263.1 L535.5 262.3 L536.3 261.4 L537.1 260.6 L537.8 259.8 L538.6 258.9 L539.3 258.1 L540.1 257.2" fill="none" stroke="#00a000" stroke-width="1.5" stroke-dasharray="4.5 2.5"/>
</g>

<filter id="gs" filterUnits="userSpaceOnUse" x="0" y="0" width="546" height="422"><feColorMatrix type="saturate" values="0"/></filter>
<g filter="url(#gs)">
<text x="82.5" y="123.1" text-anchor="end" class="t3">-1</text>
<text x="81.9" y="84.4" text-anchor="end" class="t3">0</text>
<text x="78.6" y="43.6" text-anchor="end" class="t3">1</text>
<text transform="translate(74.0 149.0) skewX(-10)" text-anchor="middle" class="t3">-1</text>
<text transform="translate(120.5 151.9) skewX(-10)" text-anchor="middle" class="t3">0</text>
<text transform="translate(165.6 156.3) skewX(-10)" text-anchor="middle" class="t3">1</text>
<text x="181.0" y="148.2" text-anchor="middle" class="t3">-1</text>
<text x="188.4" y="130.6" text-anchor="middle" class="t3">0</text>
<text x="195.7" y="115.3" text-anchor="middle" class="t3">1</text>
<text transform="translate(99.3 164.6) rotate(5.6) skewX(-13)" class="a3" style="font-size:14px">k<tspan dy="4.5" font-size="9.5">y</tspan><tspan dy="-4.5">L / </tspan><tspan class="sy">π</tspan></text>
<text transform="translate(209 149) rotate(-90)" class="a3">k<tspan dy="4" font-size="10">x</tspan><tspan dy="-4">L / </tspan><tspan class="sy">π</tspan></text>
<text transform="translate(65 106) rotate(-90)" class="a3">EL / <tspan class="sy">π</tspan>hv<tspan dy="4" font-size="9">F</tspan></text>
<text x="197.5" y="16.7" text-anchor="start" class="p3">(a)</text>
<text x="298.9" y="144.0" text-anchor="end" class="t3">-1</text>
<text x="296.8" y="86.9" text-anchor="end" class="t3">0</text>
<text x="294.7" y="25.7" text-anchor="end" class="t3">1</text>
<text transform="translate(308.2 157.5) skewX(-10)" text-anchor="middle" class="t3">-2</text>
<text transform="translate(346.2 161.0) skewX(-10)" text-anchor="middle" class="t3">-1</text>
<text transform="translate(387.2 165.0) skewX(-10)" text-anchor="middle" class="t3">0</text>
<text transform="translate(428.2 167.5) skewX(-10)" text-anchor="middle" class="t3">1</text>
<text transform="translate(468.2 171.5) skewX(-10)" text-anchor="middle" class="t3">2</text>
<text x="500.5" y="164.0" text-anchor="middle" class="t3">-1</text>
<text x="503.0" y="145.0" text-anchor="middle" class="t3">0</text>
<text x="503.0" y="128.5" text-anchor="middle" class="t3">1</text>
<text transform="translate(361.2 177.6) rotate(5.4) skewX(-14)" class="a3" style="font-size:15px">k<tspan dy="4.5" font-size="9.5">y</tspan><tspan dy="-4.5">L / </tspan><tspan class="sy">π</tspan></text>
<text transform="translate(529 163) rotate(-90)" class="a3">k<tspan dy="4" font-size="10">x</tspan><tspan dy="-4">L / </tspan><tspan class="sy">π</tspan></text>
<text transform="translate(279 108) rotate(-90)" class="a3">EL / <tspan class="sy">π</tspan>hv<tspan dy="4" font-size="9">F</tspan></text>
<text x="504.5" y="16.4" text-anchor="start" class="p3">(b)</text>
<text x="34.3" y="396.6" text-anchor="middle" class="tk">-6</text>
<text x="72.2" y="396.6" text-anchor="middle" class="tk">-4</text>
<text x="110.1" y="396.6" text-anchor="middle" class="tk">-2</text>
<text x="148.3" y="396.6" text-anchor="middle" class="tk">0</text>
<text x="186.2" y="396.6" text-anchor="middle" class="tk">2</text>
<text x="224.1" y="396.6" text-anchor="middle" class="tk">4</text>
<text x="262.0" y="396.6" text-anchor="middle" class="tk">6</text>
<text x="29.6" y="385.8" text-anchor="end" class="tk">0</text>
<text x="29.6" y="333.4" text-anchor="end" class="tk">1</text>
<text x="29.6" y="281.0" text-anchor="end" class="tk">2</text>
<text x="29.6" y="228.6" text-anchor="end" class="tk">3</text>
<text x="149.0" y="413.3" text-anchor="middle" class="al" style="font-size:14px">k<tspan dy="5" font-size="8.5">y</tspan><tspan dy="-5">L / π</tspan></text>
<text transform="translate(13.6 291.2) rotate(-90)" text-anchor="middle" class="al" style="font-size:14.3px">EL / hv<tspan dy="4.5" font-size="9.5">F</tspan></text>
<text x="46.3" y="219.5" class="pl">(c)</text>
<text x="312.6" y="396.6" text-anchor="middle" class="tk">-6</text>
<text x="350.5" y="396.6" text-anchor="middle" class="tk">-4</text>
<text x="388.3" y="396.6" text-anchor="middle" class="tk">-2</text>
<text x="426.5" y="396.6" text-anchor="middle" class="tk">0</text>
<text x="464.4" y="396.6" text-anchor="middle" class="tk">2</text>
<text x="502.2" y="396.6" text-anchor="middle" class="tk">4</text>
<text x="540.1" y="396.6" text-anchor="middle" class="tk">6</text>
<text x="307.9" y="385.8" text-anchor="end" class="tk">0</text>
<text x="307.9" y="333.4" text-anchor="end" class="tk">1</text>
<text x="307.9" y="281.0" text-anchor="end" class="tk">2</text>
<text x="307.9" y="228.6" text-anchor="end" class="tk">3</text>
<text x="427.2" y="413.3" text-anchor="middle" class="al" style="font-size:14px">k<tspan dy="5" font-size="8.5">y</tspan><tspan dy="-5">L / π</tspan></text>
<text transform="translate(291.9 291.2) rotate(-90)" text-anchor="middle" class="al" style="font-size:14.3px">EL / hv<tspan dy="4.5" font-size="9.5">F</tspan></text>
<text x="324.6" y="219.5" class="pl">(d)</text>
</g>
</svg></body></html>
